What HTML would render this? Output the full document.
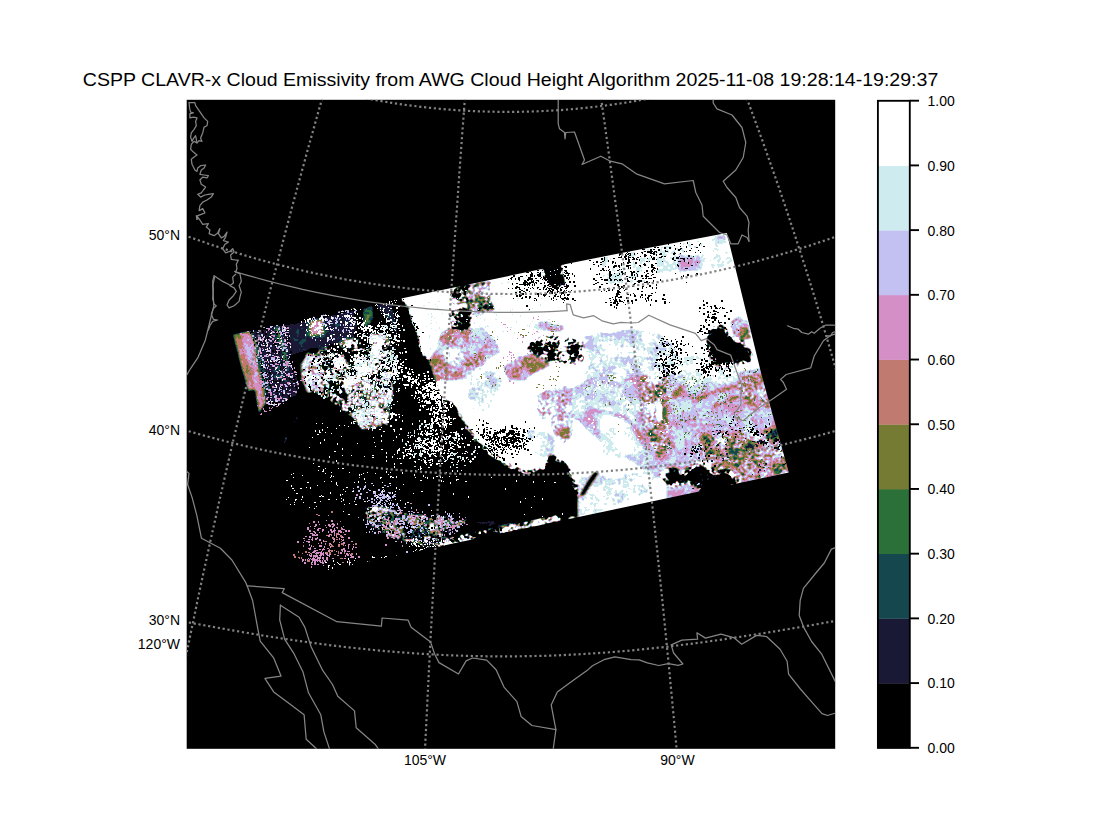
<!DOCTYPE html>
<html><head><meta charset="utf-8"><title>CSPP CLAVR-x Cloud Emissivity</title>
<style>html,body{margin:0;padding:0;background:#fff;font-family:"Liberation Sans",sans-serif}svg{display:block}</style></head>
<body>
<svg width="1120" height="840" viewBox="0 0 1120 840">
<defs><clipPath id="ax"><rect x="186.7" y="99.8" width="648.5" height="649"/></clipPath>
<clipPath id="sw"><path d="M232.0 333.8 L561.0 265.0 L620.0 253.2 L726.8 233.0 L761.6 375.0 L788.8 472.5 L295.0 577.0 Z"/></clipPath>
<filter id="cf" filterUnits="userSpaceOnUse" x="186" y="99" width="650" height="651" color-interpolation-filters="sRGB">
<feGaussianBlur in="SourceGraphic" stdDeviation="1.6" result="s"/>
<feColorMatrix in="s" type="matrix" values="1 0 0 0 0 1 0 0 0 0 1 0 0 0 0 0 0 0 0 1" result="base"/>
<feColorMatrix in="s" type="matrix" values="0 0 0 0 0 0 0 0 0 0 0 0 0 0 0 0 1 0 0 0" result="ga"/>
<feTurbulence type="fractalNoise" baseFrequency="0.07" numOctaves="2" seed="7" result="t1"/>
<feTurbulence type="fractalNoise" baseFrequency="0.33" numOctaves="1" seed="12" result="t2"/>
<feColorMatrix in="t1" type="matrix" values="0.275 0.275 0 0 0 0.275 0.275 0 0 0 0.275 0.275 0 0 0 0 0 0 0 1" result="n1"/>
<feColorMatrix in="t2" type="matrix" values="0.225 0.225 0 0 0 0.225 0.225 0 0 0 0.225 0.225 0 0 0 0 0 0 0 1" result="n2"/>
<feComposite in="n1" in2="n2" operator="arithmetic" k1="0" k2="5" k3="5" k4="-2" result="n"/>
<feComposite in="n" in2="ga" operator="in" result="nm"/>
<feComposite in="nm" in2="base" operator="over" result="v"/>
<feComponentTransfer in="v"><feFuncR type="discrete" tableValues="0.000 0.000 0.000 0.000 0.000 0.000 0.000 0.000 0.000 0.000 0.000 0.000 0.000 0.000 0.000 0.000 0.000 0.000 0.000 0.000 0.000 0.102 0.082 0.169 0.463 0.757 0.831 0.765 0.808 1.000 1.000 1.000 1.000 1.000 1.000 1.000 1.000 1.000 1.000 1.000 1.000 1.000 1.000 1.000 1.000 1.000 1.000 1.000 1.000 1.000"/><feFuncG type="discrete" tableValues="0.000 0.000 0.000 0.000 0.000 0.000 0.000 0.000 0.000 0.000 0.000 0.000 0.000 0.000 0.000 0.000 0.000 0.000 0.000 0.000 0.000 0.098 0.278 0.435 0.482 0.478 0.565 0.753 0.922 1.000 1.000 1.000 1.000 1.000 1.000 1.000 1.000 1.000 1.000 1.000 1.000 1.000 1.000 1.000 1.000 1.000 1.000 1.000 1.000 1.000"/><feFuncB type="discrete" tableValues="0.000 0.000 0.000 0.000 0.000 0.000 0.000 0.000 0.000 0.000 0.000 0.000 0.000 0.000 0.000 0.000 0.000 0.000 0.000 0.000 0.000 0.208 0.306 0.224 0.200 0.435 0.776 0.949 0.937 1.000 1.000 1.000 1.000 1.000 1.000 1.000 1.000 1.000 1.000 1.000 1.000 1.000 1.000 1.000 1.000 1.000 1.000 1.000 1.000 1.000"/></feComponentTransfer>
</filter>
</defs>
<rect width="1120" height="840" fill="#fff"/>
<rect x="186.7" y="99.8" width="648.5" height="649" fill="#000"/>
<g clip-path="url(#ax)">
<g clip-path="url(#sw)"><g filter="url(#cf)">
<rect x="180" y="90" width="670" height="670" fill="rgb(76,0,0)"/>
<path d="M398.0 290.0 L561.0 255.0 L561.0 250.0 L735.0 220.0 L800.0 480.0 L700.0 500.0 L590.0 535.0 L578.0 535.0 L580.0 511.0 L578.0 497.0 L575.0 486.0 L572.0 476.0 L568.0 470.0 L561.0 461.0 L552.0 457.0 L543.0 468.0 L528.0 472.0 L514.0 469.0 L500.0 459.0 L489.0 452.0 L480.0 445.0 L471.0 434.0 L466.0 426.0 L459.0 415.0 L451.0 404.0 L441.0 397.0 L434.0 383.0 L430.0 367.0 L421.0 351.0 L416.0 335.0 L409.0 311.0 L400.0 300.0 L398.0 290.0Z" fill="rgb(184,0,0)" stroke="rgb(128,204,0)" stroke-width="3" stroke-linejoin="round"/>
<path d="M441.1 330.0 L453.6 326.4 L467.9 330.0 L478.6 333.6 L489.3 340.7 L492.9 355.0 L483.9 365.7 L475.0 381.8 L417.9 381.8 L428.6 358.6 L435.7 344.3Z" fill="rgb(137,20,0)"/>
<path d="M444.6 351.4 L458.9 347.9 L466.1 358.6 L453.6 365.7 L444.6 362.1Z" fill="rgb(150,26,0)"/>
<path d="M467.9 288.9 L476.8 288.9 L485.7 301.4 L487.5 312.1 L478.6 319.3 L467.9 315.7 L471.4 305.0Z" fill="rgb(137,20,0)"/>
<path d="M532.1 322.9 L542.9 319.3 L560.7 322.9 L567.9 326.4 L560.7 333.6 L542.9 331.8 L533.9 330.0Z" fill="rgb(139,15,0)"/>
<path d="M505.4 367.5 L516.1 359.5 L535.7 355.9 L548.2 357.7 L551.8 366.6 L535.7 373.8 L525.0 381.8 L507.1 381.8Z" fill="rgb(134,15,0)"/>
<path d="M507.1 363.0 L521.4 355.9 L535.7 353.2 L548.2 355.0 L549.1 357.7 L535.7 356.4 L516.1 360.0 L506.2 367.1Z" fill="rgb(124,13,0)"/>
<path d="M467.0 327.5 L482.0 325.0 L497.0 340.0 L502.0 352.5 L489.5 360.0 L477.0 357.5 L467.0 347.5Z" fill="rgb(139,15,0)"/>
<path d="M502.0 366.2 L517.0 356.2 L537.0 351.2 L552.0 356.2 L544.5 368.8 L522.0 377.0 L504.5 376.2Z" fill="rgb(133,20,0)"/>
<path d="M467.0 372.5 L482.0 367.5 L502.0 372.5 L504.5 385.0 L492.0 410.0 L477.0 415.0 L467.0 410.0Z" fill="rgb(149,15,0)"/>
<path d="M534.5 395.0 L549.5 387.5 L567.0 385.0 L579.5 392.5 L577.0 415.0 L572.0 440.0 L562.0 445.0 L549.5 427.5 L537.0 415.0Z" fill="rgb(145,31,0)"/>
<path d="M524.5 427.5 L549.5 430.0 L564.5 450.0 L542.0 460.0 L527.0 450.0Z" fill="rgb(149,13,0)"/>
<path d="M567.0 390.0 L587.0 377.5 L607.0 370.0 L627.0 367.5 L642.0 372.5 L667.0 375.0 L692.0 380.0 L717.0 385.0 L749.5 382.5 L749.5 460.0 L717.0 462.5 L692.0 460.0 L667.0 470.0 L652.0 485.0 L642.0 470.0 L627.0 460.0 L607.0 450.0 L584.5 430.0 L572.0 415.0Z" fill="rgb(142,13,0)"/>
<path d="M664.5 375.5 L717.0 372.5 L764.5 366.2 L792.0 472.5 L739.5 485.0 L702.0 495.0 L664.5 502.5Z" fill="rgb(141,14,0)"/>
<path d="M584.5 385.0 L607.0 377.5 L632.0 382.5 L637.0 405.0 L627.0 425.0 L607.0 430.0 L589.5 415.0 L582.0 397.5Z" fill="rgb(145,13,0)"/>
<path d="M600.0 408.2 L621.4 404.6 L635.7 418.9 L635.7 445.7 L621.4 460.0 L600.0 460.0Z" fill="rgb(151,10,0)"/>
<path d="M667.0 355.0 L717.0 352.5 L742.0 360.0 L737.0 382.5 L692.0 385.0 L667.0 380.0Z" fill="rgb(151,13,0)"/>
<path d="M587.0 410.0 L607.0 412.5 L627.0 417.5 L642.0 440.0 L657.0 460.0" fill="none" stroke="rgb(135,10,0)" stroke-width="3.5" stroke-linecap="round" stroke-linejoin="round"/>
<path d="M642.0 375.0 L652.0 392.5 L657.0 415.0 L667.0 435.0" fill="none" stroke="rgb(135,10,0)" stroke-width="3.5" stroke-linecap="round" stroke-linejoin="round"/>
<path d="M603.6 381.4 L621.4 385.0 L632.1 377.9" fill="none" stroke="rgb(135,10,0)" stroke-width="3" stroke-linecap="round" stroke-linejoin="round"/>
<path d="M641.1 370.7 L667.9 374.3 L666.1 413.6 L671.4 445.7 L658.9 460.0 L646.4 431.4 L639.3 404.6Z" fill="rgb(134,38,0)"/>
<path d="M657.1 402.9 L661.6 402.9 L661.6 420.7 L657.1 420.7Z" fill="rgb(184,0,0)"/>
<path d="M692.9 402.9 L707.1 393.9 L735.7 386.8 L742.9 390.4" fill="none" stroke="rgb(124,13,0)" stroke-width="3" stroke-linecap="round" stroke-linejoin="round"/>
<path d="M710.7 407.3 L732.1 398.4 L742.9 394.8" fill="none" stroke="rgb(124,13,0)" stroke-width="2.5" stroke-linecap="round" stroke-linejoin="round"/>
<path d="M675.0 394.8 L682.1 388.6" fill="none" stroke="rgb(119,10,0)" stroke-width="4" stroke-linecap="round" stroke-linejoin="round"/>
<path d="M675.0 449.3 L667.9 435.0 L662.5 427.9" fill="none" stroke="rgb(124,13,0)" stroke-width="2.5" stroke-linecap="round" stroke-linejoin="round"/>
<path d="M739.3 377.9 L762.5 374.3 L769.6 406.4 L753.6 410.0 L741.1 399.3Z" fill="rgb(134,31,0)"/>
<path d="M700.0 435.0 L742.9 431.4 L778.6 427.9 L789.3 472.5 L739.3 485.0 L728.6 470.7 L714.3 474.3 L703.6 463.6Z" fill="rgb(134,33,0)"/>
<path d="M739.3 442.1 L753.6 440.4 L755.4 456.4 L742.9 460.0Z" fill="rgb(125,31,0)"/>
<path d="M767.9 427.9 L776.8 427.9 L778.6 440.4 L769.6 440.4Z" fill="rgb(122,26,0)"/>
<path d="M578.6 339.3 L592.9 330.4 L610.7 332.1 L628.6 326.8 L660.7 332.1 L671.4 341.1 L682.1 350.0 L676.8 364.3 L682.1 376.8 L582.1 376.8 L589.3 360.7Z" fill="rgb(148,18,0)"/>
<path d="M600.0 256.2 L660.7 244.6 L725.0 233.0 L735.7 266.1 L689.3 278.6 L653.6 283.9 L600.0 287.5Z" fill="rgb(151,13,0)"/>
<path d="M662.5 276.8 L735.7 267.9 L742.9 308.9 L707.1 307.1 L671.4 310.7 L660.7 296.4Z" fill="rgb(184,0,0)"/>
<path d="M714.3 233.9 L725.9 233.0 L727.7 242.9 L716.1 243.8Z" fill="rgb(141,10,0)"/>
<path d="M678.6 256.2 L700.0 254.5 L701.8 270.5 L680.4 272.3Z" fill="rgb(141,10,0)"/>
<path d="M728.6 321.4 L739.3 314.3 L748.2 321.4 L751.8 332.1 L742.9 339.3 L732.1 335.7Z" fill="rgb(141,10,0)"/>
<path d="M735.7 322.3 L748.2 321.4 L750.0 333.9 L739.3 335.7Z" fill="rgb(131,8,0)"/>
<path d="M729.5 320.0 L749.5 320.0 L752.0 340.0 L732.0 340.0Z" fill="rgb(133,26,0)"/>
<path d="M580.4 475.0 L601.8 471.4 L601.8 526.8 L578.6 526.8Z" fill="rgb(150,15,0)"/>
<path d="M577.0 475.0 L652.0 470.0 L657.0 490.0 L587.0 520.0 L577.0 520.0Z" fill="rgb(150,15,0)"/>
<path d="M711.6 329.5 L718.8 325.9 L725.0 328.6 L729.5 338.4 L742.0 342.0 L750.0 351.8 L753.6 360.7 L750.0 365.2 L739.3 360.7 L726.8 365.2 L717.0 362.5 L709.8 352.7 L708.0 341.1Z" fill="rgb(61,0,0)" stroke="rgb(128,204,0)" stroke-width="2.5" stroke-linejoin="round"/>
<path d="M660.7 474.3 L671.4 469.3 L683.9 474.3 L694.6 465.4 L703.6 463.6 L714.3 474.3 L728.6 470.7 L739.3 485.0 L702.7 493.0 L700.0 485.0 L685.7 481.4 L671.4 485.0Z" fill="rgb(61,0,0)" stroke="rgb(128,204,0)" stroke-width="3" stroke-linejoin="round"/>
<path d="M450.0 313.9 L460.7 308.6 L471.4 313.9 L467.9 326.4 L453.6 328.2Z" fill="rgb(92,153,0)" stroke="rgb(128,204,0)" stroke-width="3" stroke-linejoin="round"/>
<path d="M482.1 299.6 L492.9 303.2 L494.6 310.4 L485.7 310.4Z" fill="rgb(61,0,0)"/>
<path d="M450.0 287.1 L471.4 283.6 L471.4 301.4 L453.6 305.0Z" fill="rgb(112,178,0)"/>
<path d="M529.5 340.0 L549.5 335.0 L567.0 337.5 L582.0 342.5 L584.5 360.0 L574.5 365.0 L562.0 360.0 L552.0 357.5 L542.0 350.0 L532.0 347.5Z" fill="rgb(133,178,0)"/>
<path d="M532.1 338.9 L542.9 335.4 L551.8 338.9 L560.7 344.3 L578.6 340.7 L580.4 355.0 L569.6 363.9 L551.8 362.1 L535.7 353.2 L526.8 351.4Z" fill="rgb(133,178,0)"/>
<path d="M542.0 263.0 L561.0 259.0 L561.5 275.0 L564.0 284.0 L556.0 288.0 L548.0 281.0 L543.0 272.0Z" fill="rgb(61,0,0)" stroke="rgb(128,204,0)" stroke-width="2" stroke-linejoin="round"/>
<path d="M596.4 472.3 L587.5 485.7 L582.1 494.6" fill="none" stroke="rgb(61,0,0)" stroke-width="2.5" stroke-linecap="round" stroke-linejoin="round"/>
<path d="M249.6 330.2 L288.9 322.1 L290.7 357.9 L301.4 382.9 L297.9 397.1 L283.6 404.3 L265.7 404.3 L263.9 390.0 L256.8 361.4Z" fill="rgb(110,5,0)"/>
<path d="M231.8 333.8 L238.9 332.5 L247.0 361.4 L254.1 390.0 L247.9 392.7 L239.8 365.0Z" fill="rgb(131,8,0)"/>
<path d="M238.9 332.5 L249.6 330.2 L255.0 343.6 L256.8 361.4 L263.9 390.0 L265.7 404.3 L258.6 415.0 L254.1 390.0 L247.0 361.4Z" fill="rgb(136,10,0)"/>
<path d="M253.2 336.4 L262.1 365.0 L268.4 390.0" fill="none" stroke="rgb(119,10,0)" stroke-width="2.5" stroke-linecap="round" stroke-linejoin="round"/>
<path d="M276.4 325.7 L283.6 348.9 L287.1 368.6" fill="none" stroke="rgb(124,13,0)" stroke-width="2.5" stroke-linecap="round" stroke-linejoin="round"/>
<path d="M298.8 361.4 L301.4 375.7" fill="none" stroke="rgb(119,10,0)" stroke-width="2" stroke-linecap="round" stroke-linejoin="round"/>
<path d="M287.1 323.0 L355.0 308.8 L358.6 325.7 L353.2 348.9 L330.0 357.9 L315.7 348.9 L305.0 352.5 L290.7 357.9Z" fill="rgb(110,5,0)"/>
<path d="M301.4 343.6 L308.6 331.1 L322.9 323.9" fill="none" stroke="rgb(115,8,0)" stroke-width="4" stroke-linecap="round" stroke-linejoin="round"/>
<path d="M308.6 321.2 L322.9 319.5 L323.8 334.6 L310.4 336.4Z" fill="rgb(135,10,0)"/>
<path d="M301.4 363.2 L306.8 352.5 L319.3 354.3 L330.0 348.9 L338.9 357.9 L347.9 361.4 L344.3 373.9 L347.9 382.9 L335.4 390.0 L326.4 398.9 L313.9 391.8 L306.8 393.6 L301.4 379.3Z" fill="rgb(143,36,0)"/>
<path d="M362.1 307.9 L372.9 304.3 L374.6 318.6 L367.5 329.3 L362.1 325.7Z" fill="rgb(119,10,0)"/>
<path d="M368.4 309.6 L367.5 323.9" fill="none" stroke="rgb(124,13,0)" stroke-width="2" stroke-linecap="round" stroke-linejoin="round"/>
<path d="M372.9 304.3 L397.9 298.9 L399.6 348.9 L390.7 325.7Z" fill="rgb(110,5,0)"/>
<path d="M388.9 334.6 L392.5 357.9" fill="none" stroke="rgb(135,10,0)" stroke-width="2" stroke-linecap="round" stroke-linejoin="round"/>
<path d="M365.7 397.1 L372.9 390.0 L378.2 398.9 L385.4 407.9 L390.7 418.6 L385.4 422.1 L378.2 413.2 L372.9 418.6 L367.5 429.3 L363.9 422.1 L362.1 407.9Z" fill="rgb(146,8,0)"/>
<path d="M369.5 332.5 L387.0 335.0 L389.5 350.0 L377.0 355.0 L369.5 347.5Z" fill="rgb(146,8,0)"/>
<path d="M318.0 352.0 L350.0 340.0 L385.0 338.0 L395.0 365.0 L392.0 400.0 L375.0 420.0 L348.0 415.0 L325.0 395.0Z" fill="rgb(138,140,0)"/>
<path d="M345.0 385.0 L372.0 380.0 L392.0 400.0 L388.0 425.0 L362.0 430.0 L348.0 410.0Z" fill="rgb(145,76,0)"/>
<path d="M297.0 417.5 L282.0 447.5" fill="none" stroke="rgb(125,51,0)" stroke-width="2.5" stroke-linecap="round" stroke-linejoin="round"/>
<path d="M392.0 300.0 L398.0 295.0 L409.0 311.0 L416.0 335.0 L421.0 351.0 L430.0 367.0 L434.0 383.0 L441.0 397.0 L451.0 404.0 L459.0 415.0 L466.0 426.0 L455.0 428.0 L442.0 415.0 L428.0 398.0 L418.0 380.0 L410.0 360.0 L402.0 335.0 L396.0 315.0Z" fill="rgb(61,0,0)"/>
<path d="M363.9 505.7 L380.0 505.7 L405.0 512.9 L440.7 516.4 L472.9 517.3 L455.0 528.9 L440.7 541.4 L433.6 548.6 L415.7 545.0 L387.1 536.1 L372.9 528.9 L365.7 516.4Z" fill="rgb(122,76,0)"/>
<path d="M380.0 511.1 L415.7 521.8 L458.6 523.6 L494.3 521.8" fill="none" stroke="rgb(119,10,0)" stroke-width="3" stroke-linecap="round" stroke-linejoin="round"/>
<path d="M387.1 528.9 L422.9 532.5 L458.6 528.9 L512.1 523.6" fill="none" stroke="rgb(115,8,0)" stroke-width="3" stroke-linecap="round" stroke-linejoin="round"/>
<path d="M390.7 518.2 L422.9 523.6 L451.4 521.8" fill="none" stroke="rgb(135,10,0)" stroke-width="2" stroke-linecap="round" stroke-linejoin="round"/>
<path d="M442.0 542.5 L489.5 533.0 L557.0 519.0" fill="none" stroke="rgb(148,191,0)" stroke-width="6" stroke-linecap="round" stroke-linejoin="round"/>
<path d="M509.5 529.5 L557.0 519.8" fill="none" stroke="rgb(184,0,0)" stroke-width="2.5" stroke-linecap="round" stroke-linejoin="round"/>
<path d="M437.0 545.8 L509.5 530.8" fill="none" stroke="rgb(153,153,0)" stroke-width="2" stroke-linecap="round" stroke-linejoin="round"/>
<path d="M568.2 517.5 L574.5 515.8 L575.0 521.2 L569.5 522.5Z" fill="rgb(184,0,0)"/>
<path d="M467.0 283.8 L492.0 280.0 L492.0 312.5 L467.0 312.5Z" fill="rgb(133,51,0)"/>
</g>
<g shape-rendering="crispEdges">
<path fill="#000000" d="M726 329h1v1h-1zM703 304h2v2h-2zM710 331h2v1h-2zM714 329h2v1h-2zM703 326h2v2h-2zM707 338h2v2h-2zM724 315h2v2h-2zM710 312h1v1h-1zM708 340h1v2h-1zM714 313h2v2h-2zM720 307h1v1h-1zM712 322h2v1h-2zM719 308h1v1h-1zM718 321h1v2h-1zM713 316h2v2h-2zM708 314h1v2h-1zM703 325h1v2h-1zM721 300h2v2h-2zM719 322h1v2h-1zM713 310h2v2h-2zM712 316h1v2h-1zM708 317h2v1h-2zM712 314h2v1h-2zM707 316h2v2h-2zM705 319h1v1h-1zM715 317h2v2h-2zM730 310h2v2h-2zM720 322h2v1h-2zM699 307h2v2h-2zM699 311h1v1h-1zM703 300h1v2h-1zM724 322h2v2h-2zM718 320h1v2h-1zM713 310h2v2h-2zM715 311h2v1h-2zM707 306h1v1h-1zM714 305h2v2h-2zM732 324h1v1h-1zM705 319h2v2h-2zM715 319h1v2h-1zM726 312h2v1h-2zM708 330h1v1h-1zM708 330h2v2h-2zM714 319h2v2h-2zM713 310h2v1h-2zM738 330h1v1h-1zM715 307h2v2h-2zM700 328h2v2h-2zM714 318h2v1h-2zM723 308h2v1h-2zM710 306h2v1h-2zM701 331h2v1h-2zM703 308h2v1h-2zM703 313h2v2h-2zM706 302h2v2h-2zM708 324h2v2h-2zM711 307h1v2h-1zM704 332h2v2h-2zM699 330h2v2h-2zM712 321h2v1h-2zM281 386h2v2h-2zM283 381h1v1h-1zM269 378h1v2h-1zM263 351h1v1h-1zM266 398h2v2h-2zM282 394h1v2h-1zM284 364h2v2h-2zM274 401h2v1h-2zM287 349h1v1h-1zM264 379h1v2h-1zM273 343h2v2h-2zM269 372h2v2h-2zM285 367h1v2h-1zM257 330h1v2h-1zM262 335h2v2h-2zM298 378h2v2h-2zM262 369h1v1h-1zM278 328h1v2h-1zM257 338h2v1h-2zM275 381h2v1h-2zM275 331h2v2h-2zM257 342h2v1h-2zM280 368h1v2h-1zM260 337h1v2h-1zM272 350h2v2h-2zM293 377h2v2h-2zM255 329h1v2h-1zM254 344h1v2h-1zM283 367h1v2h-1zM286 401h2v1h-2zM264 341h2v2h-2zM285 335h1v1h-1zM288 337h1v2h-1zM256 341h2v2h-2zM263 377h1v1h-1zM289 341h2v1h-2zM281 397h1v2h-1zM278 353h1v1h-1zM279 351h1v2h-1zM257 330h2v1h-2zM279 380h2v2h-2zM299 384h2v1h-2zM269 384h1v2h-1zM287 326h1v2h-1zM270 335h1v2h-1zM264 341h2v2h-2zM265 333h2v2h-2zM286 326h2v1h-2zM280 337h1v1h-1zM276 345h1v2h-1zM269 364h2v2h-2zM256 333h2v1h-2zM287 330h2v2h-2zM267 337h2v2h-2zM265 373h2v1h-2zM256 354h2v1h-2zM286 400h2v2h-2zM258 360h2v1h-2zM264 339h1v1h-1zM266 387h1v1h-1zM293 378h1v2h-1zM265 336h1v2h-1zM274 352h1v1h-1zM261 381h1v1h-1zM295 377h1v1h-1zM281 362h2v1h-2zM258 343h1v2h-1zM298 383h1v2h-1zM262 385h1v2h-1zM265 345h1v2h-1zM289 378h1v1h-1zM264 336h2v1h-2zM281 337h1v2h-1zM266 379h2v2h-2zM276 394h2v1h-2zM259 345h2v2h-2zM266 329h2v2h-2zM269 396h2v1h-2zM272 402h1v1h-1zM279 390h1v2h-1zM275 343h1v2h-1zM262 387h1v1h-1zM277 363h1v2h-1zM261 373h2v1h-2zM277 339h1v2h-1zM262 358h2v1h-2zM253 339h1v2h-1zM276 344h1v1h-1zM279 348h1v1h-1zM262 345h1v1h-1zM268 369h1v1h-1zM267 374h1v1h-1zM295 386h2v2h-2zM261 361h1v1h-1zM266 359h1v2h-1zM287 382h1v2h-1zM283 350h2v2h-2zM261 361h1v2h-1zM288 337h2v2h-2zM251 331h2v2h-2zM256 360h1v1h-1zM268 398h2v2h-2zM260 353h1v2h-1zM293 380h2v2h-2zM270 334h1v1h-1zM287 328h2v2h-2zM282 358h1v1h-1zM296 373h2v2h-2zM284 361h1v1h-1zM265 367h1v1h-1zM275 395h1v2h-1zM274 332h1v2h-1zM287 340h2v1h-2zM262 372h2v2h-2zM290 378h1v2h-1zM277 358h1v2h-1zM291 383h1v2h-1zM275 388h1v2h-1zM284 333h1v2h-1zM274 353h2v1h-2zM276 371h2v2h-2zM282 393h2v2h-2zM266 395h2v1h-2zM262 343h1v1h-1zM285 378h2v2h-2zM289 361h1v1h-1zM284 393h1v1h-1zM300 384h2v2h-2zM290 351h2v2h-2zM279 404h2v1h-2zM280 365h1v2h-1zM267 373h1v1h-1zM259 348h2v1h-2zM280 379h1v1h-1zM283 392h2v1h-2zM286 390h2v1h-2zM250 332h1v2h-1zM265 340h2v1h-2zM264 374h1v2h-1zM292 370h2v2h-2zM265 390h1v1h-1zM276 390h2v2h-2zM272 403h2v1h-2zM279 346h2v2h-2zM294 380h2v2h-2zM287 342h2v1h-2zM261 351h1v1h-1zM279 333h1v1h-1zM289 358h2v2h-2zM289 378h1v2h-1zM256 359h1v2h-1zM274 342h1v1h-1zM284 376h2v2h-2zM278 343h1v2h-1zM261 380h2v2h-2zM296 388h1v2h-1zM279 327h2v1h-2zM276 360h1v1h-1zM265 376h1v2h-1zM252 332h2v1h-2zM261 340h2v2h-2zM278 338h1v2h-1zM261 372h2v2h-2zM291 366h1v2h-1zM270 384h1v1h-1zM271 375h1v2h-1zM281 388h2v2h-2zM276 351h2v2h-2zM289 378h2v2h-2zM261 370h1v2h-1zM266 390h2v2h-2zM278 360h2v1h-2zM288 383h1v2h-1zM284 398h1v2h-1zM279 342h1v1h-1zM295 372h1v1h-1zM289 396h2v1h-2zM261 366h2v2h-2zM275 346h2v2h-2zM255 338h1v2h-1zM287 334h1v1h-1zM269 340h1v1h-1zM276 399h2v1h-2zM286 337h1v2h-1zM282 328h1v2h-1zM255 339h1v2h-1zM272 362h2v2h-2zM288 395h2v2h-2zM264 362h2v1h-2zM277 353h2v1h-2zM292 386h1v2h-1zM278 390h1v1h-1zM268 376h2v1h-2zM267 397h2v1h-2zM270 386h1v2h-1zM259 342h1v1h-1zM288 387h2v1h-2zM285 358h1v1h-1zM262 376h1v2h-1zM264 378h2v1h-2zM297 378h2v2h-2zM257 345h1v2h-1zM297 382h1v1h-1zM299 378h1v1h-1zM274 340h1v2h-1zM276 333h2v2h-2zM266 344h1v2h-1zM267 338h1v2h-1zM262 331h2v2h-2zM270 385h1v1h-1zM278 331h2v1h-2zM260 341h1v2h-1zM260 363h2v1h-2zM265 372h2v1h-2zM288 343h2v2h-2zM279 396h1v2h-1zM271 345h2v1h-2zM262 343h1v1h-1zM283 327h2v2h-2zM277 400h1v2h-1zM273 333h2v1h-2zM263 339h1v1h-1zM263 351h1v1h-1zM289 387h1v1h-1zM288 327h1v1h-1zM278 325h2v1h-2zM285 398h2v2h-2zM267 348h1v1h-1zM282 354h2v1h-2zM275 350h1v2h-1zM274 328h1v1h-1zM262 365h1v2h-1zM288 343h1v2h-1zM274 388h1v1h-1zM280 364h2v2h-2zM272 380h2v2h-2zM291 379h1v2h-1zM267 352h2v1h-2zM288 334h1v2h-1zM284 360h2v2h-2zM273 341h1v2h-1zM282 369h1v1h-1zM282 333h2v1h-2zM267 368h1v1h-1zM280 397h2v1h-2zM269 385h2v1h-2zM272 366h2v2h-2zM269 394h1v2h-1zM289 396h2v2h-2zM265 384h2v1h-2zM254 344h2v1h-2zM276 402h2v1h-2zM295 387h2v1h-2zM274 343h2v1h-2zM298 383h1v1h-1zM277 370h1v1h-1zM271 387h1v1h-1zM284 369h2v2h-2zM257 343h2v1h-2zM269 351h2v2h-2zM315 376h1v2h-1zM310 355h1v1h-1zM337 381h2v2h-2zM330 378h2v1h-2zM303 368h2v2h-2zM326 379h1v2h-1zM323 364h1v2h-1zM315 377h1v1h-1zM319 388h1v1h-1zM320 358h1v2h-1zM308 354h1v2h-1zM333 365h1v2h-1zM310 389h2v2h-2zM327 355h1v2h-1zM326 359h1v2h-1zM332 357h2v2h-2zM321 392h1v2h-1zM334 385h1v1h-1zM336 390h2v2h-2zM319 372h1v1h-1zM325 374h1v1h-1zM304 378h1v1h-1zM310 355h1v1h-1zM337 387h1v1h-1zM314 362h1v1h-1zM315 384h2v1h-2zM305 382h1v2h-1zM340 383h1v1h-1zM336 368h1v1h-1zM311 363h2v2h-2zM334 355h2v2h-2zM322 374h2v1h-2zM330 356h1v1h-1zM324 378h2v2h-2zM324 355h1v1h-1zM340 384h2v2h-2zM334 389h2v1h-2zM335 370h2v2h-2zM324 390h1v1h-1zM340 366h1v2h-1zM307 375h2v1h-2zM321 392h2v1h-2zM323 375h1v2h-1zM318 387h2v2h-2zM331 359h2v1h-2zM323 376h1v2h-1zM333 383h1v1h-1zM310 387h1v2h-1zM330 374h2v1h-2zM343 364h2v2h-2zM338 383h1v1h-1zM328 378h1v2h-1zM308 371h2v2h-2zM312 379h2v1h-2zM318 359h2v2h-2zM317 361h2v1h-2zM337 388h1v1h-1zM309 386h2v2h-2zM304 362h1v2h-1zM330 384h2v2h-2zM323 367h2v1h-2zM319 391h2v2h-2zM324 391h2v1h-2zM323 379h1v2h-1zM325 355h2v1h-2zM315 356h2v1h-2zM311 366h1v2h-1zM324 392h2v2h-2zM313 376h1v1h-1zM319 377h2v2h-2zM328 352h2v2h-2zM328 370h1v1h-1zM312 360h2v2h-2zM342 378h2v2h-2zM309 384h1v2h-1zM334 382h2v1h-2zM324 393h2v2h-2zM339 377h2v2h-2zM313 358h2v1h-2zM342 375h2v2h-2zM321 361h1v1h-1zM340 383h2v1h-2zM304 380h1v1h-1zM329 394h1v2h-1zM308 385h2v2h-2zM310 369h1v2h-1zM318 370h2v1h-2zM318 387h2v1h-2zM321 377h2v2h-2zM338 372h2v2h-2zM317 367h1v2h-1zM305 376h1v2h-1zM331 374h2v1h-2zM325 391h1v1h-1zM316 358h2v1h-2zM329 382h2v2h-2zM319 365h2v1h-2zM332 377h2v1h-2zM324 362h1v2h-1zM330 382h1v1h-1zM319 364h1v2h-1zM309 387h1v1h-1zM323 395h2v2h-2zM318 379h1v1h-1zM337 371h2v2h-2zM331 361h2v2h-2zM313 359h2v1h-2zM331 384h1v2h-1zM315 382h2v2h-2zM333 382h1v1h-1zM414 519h1v1h-1zM389 518h2v2h-2zM432 518h1v1h-1zM438 535h2v2h-2zM380 528h2v2h-2zM454 527h2v2h-2zM408 541h1v1h-1zM434 519h2v1h-2zM391 529h1v1h-1zM377 520h2v1h-2zM433 541h2v1h-2zM403 516h1v2h-1zM451 532h1v1h-1zM435 535h1v1h-1zM398 511h1v2h-1zM420 525h2v2h-2zM437 517h1v2h-1zM422 525h1v1h-1zM414 536h2v1h-2zM368 515h1v2h-1zM415 532h2v2h-2zM405 521h1v2h-1zM424 528h1v1h-1zM426 534h2v2h-2zM366 509h2v2h-2zM427 544h2v2h-2zM399 518h1v1h-1zM404 527h1v2h-1zM427 538h1v2h-1zM415 528h1v1h-1zM468 519h2v1h-2zM437 535h2v1h-2zM439 525h1v1h-1zM427 533h1v2h-1zM395 538h2v1h-2zM431 521h2v1h-2zM402 513h2v2h-2zM380 519h2v2h-2zM428 529h2v1h-2zM374 528h1v2h-1zM406 535h1v2h-1zM438 525h2v2h-2zM446 518h1v1h-1zM442 536h1v1h-1zM429 539h2v2h-2zM419 522h2v1h-2zM426 545h1v2h-1zM392 532h2v2h-2zM434 542h2v2h-2zM385 525h2v1h-2zM401 519h1v2h-1zM380 519h2v1h-2zM443 521h1v1h-1zM411 527h2v2h-2zM430 544h2v2h-2zM407 531h1v2h-1zM394 516h2v2h-2zM403 530h1v1h-1zM416 543h2v2h-2zM434 527h1v2h-1zM402 540h1v2h-1zM387 525h2v2h-2zM406 526h2v2h-2zM433 532h2v2h-2zM377 511h2v1h-2zM416 529h1v2h-1zM419 517h2v2h-2zM370 517h2v2h-2zM392 531h2v2h-2zM396 518h2v2h-2zM404 538h2v1h-2zM389 531h2v2h-2zM436 540h1v1h-1zM376 528h2v1h-2zM414 532h1v2h-1zM397 534h1v1h-1zM433 519h1v2h-1zM408 514h2v1h-2zM365 507h1v1h-1zM444 518h1v2h-1zM413 525h2v1h-2zM401 519h1v2h-1zM452 525h2v1h-2zM365 506h2v2h-2zM422 537h2v1h-2zM387 521h1v1h-1zM396 533h1v2h-1zM397 511h1v2h-1zM390 525h2v1h-2zM394 518h2v2h-2zM375 518h2v2h-2zM372 516h2v2h-2zM446 517h1v2h-1zM403 517h2v2h-2zM421 542h1v1h-1zM442 535h2v1h-2zM390 516h2v2h-2zM440 518h1v2h-1zM431 548h2v2h-2zM420 540h2v2h-2zM419 531h2v2h-2zM417 530h1v1h-1zM381 526h2v1h-2zM389 530h1v2h-1zM464 517h1v1h-1zM450 528h2v2h-2zM422 520h2v2h-2zM439 528h1v1h-1zM425 540h1v2h-1zM431 527h2v2h-2zM415 532h1v1h-1zM381 522h1v1h-1zM372 519h2v2h-2zM383 528h2v1h-2zM411 524h1v1h-1zM403 518h1v1h-1zM410 538h1v1h-1zM443 523h1v2h-1zM443 518h1v2h-1zM383 530h1v1h-1zM622 273h2v1h-2zM628 249h1v2h-1zM661 256h1v2h-1zM632 286h2v1h-2zM612 262h1v2h-1zM654 270h1v1h-1zM630 248h2v1h-2zM654 277h2v1h-2zM666 251h2v1h-2zM614 265h2v2h-2zM652 253h2v1h-2zM635 262h2v2h-2zM593 262h1v1h-1zM600 262h2v1h-2zM637 257h2v1h-2zM621 265h1v1h-1zM629 259h1v1h-1zM653 252h2v2h-2zM606 283h2v1h-2zM602 255h1v2h-1zM609 276h1v2h-1zM603 270h2v1h-2zM631 274h1v1h-1zM606 270h1v1h-1zM634 274h1v2h-1zM644 245h1v2h-1zM653 238h1v1h-1zM647 258h1v1h-1zM650 249h2v2h-2zM615 283h1v2h-1zM610 271h1v2h-1zM640 256h1v1h-1zM652 258h2v2h-2zM651 251h2v1h-2zM648 241h1v1h-1zM612 261h2v2h-2zM656 259h1v1h-1zM658 249h1v1h-1zM625 254h1v1h-1zM608 270h1v1h-1zM630 267h1v2h-1zM637 253h1v1h-1zM615 262h1v2h-1zM625 259h2v1h-2zM651 252h1v1h-1zM628 265h2v1h-2zM621 256h1v2h-1zM601 284h2v1h-2zM652 258h2v2h-2zM632 257h2v1h-2zM641 294h2v2h-2zM648 267h1v1h-1zM620 279h2v1h-2zM617 284h2v2h-2zM609 288h1v2h-1zM604 259h1v2h-1zM596 261h2v2h-2zM631 248h1v1h-1zM622 280h1v1h-1zM629 255h1v1h-1zM589 260h2v1h-2zM619 279h2v2h-2zM628 260h1v2h-1zM619 288h1v2h-1zM638 282h2v1h-2zM660 253h2v2h-2zM657 247h2v1h-2zM649 251h1v2h-1zM645 278h2v1h-2zM644 256h2v1h-2zM615 276h1v1h-1zM627 276h1v1h-1zM608 266h1v2h-1zM614 273h1v1h-1zM655 263h2v1h-2zM653 265h1v1h-1zM628 256h1v2h-1zM651 275h1v1h-1zM629 265h2v1h-2zM630 254h1v2h-1zM644 264h2v2h-2zM664 243h1v1h-1zM632 259h1v1h-1zM652 271h1v2h-1zM633 258h2v2h-2zM650 253h2v1h-2zM593 264h2v1h-2zM609 272h2v1h-2zM628 267h1v2h-1zM642 287h1v2h-1zM614 284h2v1h-2zM653 267h2v2h-2zM653 252h2v1h-2zM654 251h1v1h-1zM618 286h2v2h-2zM633 284h2v1h-2zM628 254h1v1h-1zM627 265h2v2h-2zM650 278h1v1h-1zM629 277h2v1h-2zM646 261h2v1h-2zM613 261h1v2h-1zM651 256h1v2h-1zM646 287h1v1h-1zM617 280h1v1h-1zM651 270h2v1h-2zM600 264h2v1h-2zM621 272h2v1h-2zM593 278h2v2h-2zM653 249h2v1h-2zM653 239h2v1h-2zM597 282h2v1h-2zM601 291h1v1h-1zM596 274h2v1h-2zM656 251h1v2h-1zM652 274h2v1h-2zM610 271h1v2h-1zM625 289h2v1h-2zM647 276h2v1h-2zM619 273h1v2h-1zM627 278h1v2h-1zM617 270h2v1h-2zM636 273h1v1h-1zM623 285h2v2h-2zM627 254h1v1h-1zM634 279h1v1h-1zM649 282h1v1h-1zM627 251h1v2h-1zM646 281h2v2h-2zM610 279h2v2h-2zM595 280h2v1h-2zM652 274h1v1h-1zM608 260h1v2h-1zM640 246h2v2h-2zM638 280h2v2h-2zM650 251h2v2h-2zM629 260h1v2h-1zM622 273h1v2h-1zM621 286h2v2h-2zM609 278h2v1h-2zM605 266h1v1h-1zM614 279h1v2h-1zM646 274h1v2h-1zM637 275h1v2h-1zM600 277h2v1h-2zM613 287h2v1h-2zM639 259h1v2h-1zM656 271h1v2h-1zM644 236h1v1h-1zM607 288h1v1h-1zM650 255h1v1h-1zM659 254h1v1h-1zM616 265h1v2h-1zM654 246h2v2h-2zM612 289h1v2h-1zM636 258h1v2h-1zM607 279h1v2h-1zM662 256h1v1h-1zM640 280h2v2h-2zM647 273h2v1h-2zM629 245h1v1h-1zM621 271h2v1h-2zM598 265h1v2h-1zM628 250h2v2h-2zM654 258h1v2h-1zM653 254h2v1h-2zM627 280h2v2h-2zM639 265h1v1h-1zM626 253h1v1h-1zM633 272h2v1h-2zM620 257h1v1h-1zM623 288h1v1h-1zM617 275h2v1h-2zM630 271h2v1h-2zM601 279h2v1h-2zM669 247h2v2h-2zM624 256h1v1h-1zM618 265h2v2h-2zM623 249h1v1h-1zM631 274h2v2h-2zM590 269h1v1h-1zM599 273h1v2h-1zM621 252h2v2h-2zM617 290h2v2h-2zM643 248h2v2h-2zM625 258h2v2h-2zM644 282h2v1h-2zM652 269h1v2h-1zM634 283h2v1h-2zM621 263h1v2h-1zM634 240h2v2h-2zM644 263h1v2h-1zM637 281h1v1h-1zM636 262h1v2h-1zM662 261h1v1h-1zM599 286h2v2h-2zM658 249h2v2h-2zM629 243h1v1h-1zM628 253h2v1h-2zM609 273h2v2h-2zM629 262h2v1h-2zM649 261h1v1h-1zM641 280h1v2h-1zM604 279h2v2h-2zM635 277h1v1h-1zM609 275h2v2h-2zM660 279h1v2h-1zM644 272h1v1h-1zM621 252h1v1h-1zM626 276h2v1h-2zM656 254h1v1h-1zM655 251h1v1h-1zM651 266h2v2h-2zM653 257h2v2h-2zM653 277h1v1h-1zM619 254h2v1h-2zM621 271h1v2h-1zM604 257h1v2h-1zM623 262h1v2h-1zM639 280h1v2h-1zM620 288h1v1h-1zM615 279h2v1h-2zM641 252h2v1h-2zM630 253h1v2h-1zM606 279h2v2h-2zM619 267h1v1h-1zM651 278h1v1h-1zM669 248h1v1h-1zM593 284h2v1h-2zM601 258h2v2h-2zM659 257h2v1h-2zM604 279h1v2h-1zM629 277h2v1h-2zM645 275h1v2h-1zM613 266h2v2h-2zM626 265h1v2h-1zM637 274h1v2h-1zM629 265h1v1h-1zM627 262h2v2h-2zM644 251h2v1h-2zM664 256h2v1h-2zM637 271h2v1h-2zM646 276h1v2h-1zM629 281h1v1h-1zM651 270h1v2h-1zM650 253h2v1h-2zM661 244h1v1h-1zM619 252h2v2h-2zM625 272h1v1h-1zM632 277h1v2h-1zM648 278h2v1h-2zM602 261h2v1h-2zM653 268h1v2h-1zM629 257h2v1h-2zM642 249h1v1h-1zM636 259h2v1h-2zM656 254h1v2h-1zM600 270h2v1h-2zM608 290h2v1h-2zM613 258h2v1h-2zM606 291h1v1h-1zM609 271h1v1h-1zM634 253h1v2h-1zM653 280h1v2h-1zM628 258h1v2h-1zM624 256h2v2h-2zM654 245h1v1h-1zM640 265h1v2h-1zM655 268h1v1h-1zM642 252h1v2h-1zM609 269h1v1h-1zM618 257h2v1h-2zM627 263h2v1h-2zM604 290h1v1h-1zM629 265h1v1h-1zM625 273h1v2h-1zM595 283h2v1h-2zM611 274h1v2h-1zM643 264h1v1h-1zM654 245h2v2h-2zM648 247h1v1h-1zM633 271h2v1h-2zM647 251h2v2h-2zM619 269h1v1h-1zM629 261h1v2h-1zM651 264h2v2h-2zM644 254h2v2h-2zM631 272h2v2h-2zM635 278h1v2h-1zM625 255h2v2h-2zM646 255h1v1h-1zM657 268h1v2h-1zM641 275h2v2h-2zM615 244h1v1h-1zM619 254h1v2h-1zM646 270h2v2h-2zM590 268h1v2h-1zM621 269h1v1h-1zM642 278h2v1h-2zM602 268h2v2h-2zM645 294h1v2h-1zM620 300h1v1h-1zM610 304h2v2h-2zM616 301h2v1h-2zM627 297h2v1h-2zM634 294h1v2h-1zM614 300h2v2h-2zM617 295h1v1h-1zM627 300h2v2h-2zM648 295h2v2h-2zM616 304h2v2h-2zM640 296h1v2h-1zM663 294h2v2h-2zM655 300h2v2h-2zM664 302h2v2h-2zM617 302h1v1h-1zM662 298h2v2h-2zM610 302h2v1h-2zM632 302h1v2h-1zM650 295h2v1h-2zM630 294h1v2h-1zM612 297h1v1h-1zM656 284h1v2h-1zM605 302h2v1h-2zM614 302h2v2h-2zM616 307h1v2h-1zM624 290h1v1h-1zM627 294h2v1h-2zM625 304h1v1h-1zM626 297h2v2h-2zM656 287h1v2h-1zM642 286h2v1h-2zM651 299h1v2h-1zM655 292h1v1h-1zM621 301h2v1h-2zM620 296h2v2h-2zM618 294h2v1h-2zM619 301h2v1h-2zM619 292h2v1h-2zM618 297h2v1h-2zM638 288h1v1h-1zM623 302h1v1h-1zM649 295h1v1h-1zM613 302h2v1h-2zM610 300h1v1h-1zM613 299h1v1h-1zM651 293h2v1h-2zM652 287h1v2h-1zM649 285h2v2h-2zM615 298h1v2h-1zM642 297h1v1h-1zM619 299h1v2h-1zM618 293h1v2h-1zM646 300h1v2h-1zM635 299h2v2h-2zM641 291h2v1h-2zM645 298h1v2h-1zM617 291h2v2h-2zM619 291h1v2h-1zM609 298h2v1h-2zM634 295h2v2h-2zM616 299h1v1h-1zM615 299h2v2h-2zM617 290h2v1h-2zM633 293h1v1h-1zM664 299h2v1h-2zM624 300h1v1h-1zM616 293h2v2h-2zM613 302h2v2h-2zM650 304h1v2h-1zM616 295h2v2h-2zM631 300h2v2h-2zM669 302h1v1h-1zM615 296h1v2h-1zM617 303h2v1h-2zM647 297h2v2h-2zM614 306h1v2h-1zM648 299h1v2h-1zM637 288h2v2h-2zM664 301h2v2h-2zM693 256h1v1h-1zM700 252h1v1h-1zM678 249h2v2h-2zM683 258h2v2h-2zM686 246h1v2h-1zM689 250h2v1h-2zM688 274h1v2h-1zM695 252h1v1h-1zM680 253h1v1h-1zM684 251h1v1h-1zM675 253h1v1h-1zM687 274h2v2h-2zM681 248h1v1h-1zM688 255h2v2h-2zM673 253h2v2h-2zM686 282h1v1h-1zM686 251h1v1h-1zM674 238h2v1h-2zM675 248h1v2h-1zM675 273h1v1h-1zM703 246h2v1h-2zM674 260h2v1h-2zM683 275h1v2h-1zM672 258h2v2h-2zM691 248h1v1h-1zM684 260h1v2h-1zM680 243h1v1h-1zM690 258h2v1h-2zM691 265h2v1h-2zM696 273h2v2h-2zM679 261h2v1h-2zM682 258h2v1h-2zM687 242h1v2h-1zM698 250h1v1h-1zM674 245h1v1h-1zM680 248h1v2h-1zM664 247h2v2h-2zM680 246h1v1h-1zM685 268h2v1h-2zM668 244h1v1h-1zM691 244h2v1h-2zM677 257h2v2h-2zM678 265h1v2h-1zM700 243h1v1h-1zM673 257h1v2h-1zM679 256h1v1h-1zM680 258h2v1h-2zM699 244h1v2h-1zM674 252h1v1h-1zM677 258h2v1h-2zM665 250h1v2h-1zM677 264h1v2h-1zM681 276h1v1h-1zM687 268h1v1h-1zM697 262h1v1h-1zM696 247h2v1h-2zM687 258h1v1h-1zM676 257h1v2h-1zM688 262h1v2h-1zM678 261h1v1h-1zM660 340h2v1h-2zM675 351h2v1h-2zM664 359h2v1h-2zM680 352h2v2h-2zM664 359h1v1h-1zM675 356h1v2h-1zM664 336h1v1h-1zM674 362h1v2h-1zM676 354h2v2h-2zM668 365h2v2h-2zM663 343h2v1h-2zM671 348h1v1h-1zM660 358h2v2h-2zM656 359h2v2h-2zM658 366h2v1h-2zM676 341h2v1h-2zM681 340h1v2h-1zM671 360h2v1h-2zM682 336h2v2h-2zM658 359h2v1h-2zM659 351h2v2h-2zM675 346h2v1h-2zM665 350h1v1h-1zM670 352h1v1h-1zM663 345h2v2h-2zM668 351h1v1h-1zM666 363h1v1h-1zM658 353h1v2h-1zM668 366h2v2h-2zM670 358h1v1h-1zM671 340h1v2h-1zM672 359h2v1h-2zM667 375h1v1h-1zM665 346h1v1h-1zM668 343h1v1h-1zM655 362h2v1h-2zM680 343h2v2h-2zM671 350h2v2h-2zM677 346h1v1h-1zM672 349h1v1h-1zM659 369h1v2h-1zM661 359h1v1h-1zM656 347h2v2h-2zM654 366h2v1h-2zM669 372h1v1h-1zM679 348h2v1h-2zM655 365h2v1h-2zM672 354h1v1h-1zM661 363h2v1h-2zM666 344h2v2h-2zM672 343h2v2h-2zM680 349h2v2h-2zM663 364h2v2h-2zM668 357h1v1h-1zM673 352h1v1h-1zM661 338h2v1h-2zM670 354h1v2h-1zM664 341h2v1h-2zM677 344h1v2h-1zM659 359h1v2h-1zM688 343h1v2h-1zM677 360h2v1h-2zM658 365h2v2h-2zM674 367h2v1h-2zM665 365h2v2h-2zM663 353h2v2h-2zM662 342h1v2h-1zM666 356h1v2h-1zM671 364h2v1h-2zM660 359h1v1h-1zM671 368h2v2h-2zM665 366h1v1h-1zM674 359h2v1h-2zM664 359h1v2h-1zM676 352h2v2h-2zM663 338h1v2h-1zM665 358h2v1h-2zM663 367h1v2h-1zM663 365h1v2h-1zM657 353h1v1h-1zM683 345h2v1h-2zM673 366h1v1h-1zM662 344h2v1h-2zM680 361h2v2h-2zM666 339h2v1h-2zM662 364h2v2h-2zM663 361h1v2h-1zM663 370h2v2h-2zM660 355h2v2h-2zM671 352h2v2h-2zM706 364h1v2h-1zM726 365h1v2h-1zM730 348h1v2h-1zM712 366h1v1h-1zM715 367h1v2h-1zM729 369h2v2h-2zM721 368h2v2h-2zM718 357h1v2h-1zM704 363h1v1h-1zM708 368h1v2h-1zM728 368h2v1h-2zM713 357h1v2h-1zM716 364h1v1h-1zM695 353h2v1h-2zM709 366h1v2h-1zM718 345h1v2h-1zM718 346h2v1h-2zM715 357h2v1h-2zM711 362h1v1h-1zM715 375h1v2h-1zM708 371h2v2h-2zM717 362h2v1h-2zM731 360h2v2h-2zM715 354h2v2h-2zM706 361h2v1h-2zM709 352h1v2h-1zM726 375h2v2h-2zM729 374h2v2h-2zM720 351h2v2h-2zM724 349h2v1h-2zM722 359h1v1h-1zM703 368h2v2h-2zM721 358h1v1h-1zM721 361h1v2h-1zM720 352h2v1h-2zM710 368h2v2h-2zM713 358h2v2h-2zM710 375h1v1h-1zM715 342h2v1h-2zM719 365h2v1h-2zM726 340h1v2h-1zM706 345h2v1h-2zM715 348h1v2h-1zM701 369h1v2h-1zM710 348h2v2h-2zM705 371h2v2h-2zM720 362h2v2h-2zM718 357h2v2h-2zM727 353h2v1h-2zM712 363h1v2h-1zM701 362h1v1h-1zM716 370h1v2h-1zM722 353h2v1h-2zM698 369h2v1h-2zM704 376h1v2h-1zM714 358h1v1h-1zM704 349h1v2h-1zM722 368h1v2h-1zM718 350h1v1h-1zM714 349h1v2h-1zM707 351h2v1h-2zM712 346h1v2h-1zM714 351h1v1h-1zM728 362h2v2h-2zM730 370h1v1h-1zM724 370h1v2h-1zM714 354h1v2h-1zM707 374h2v2h-2zM719 359h1v1h-1zM700 363h2v2h-2zM712 346h2v2h-2zM723 372h1v2h-1zM728 366h1v1h-1zM715 351h1v1h-1zM713 357h2v1h-2zM715 360h2v1h-2zM703 353h2v1h-2zM729 349h1v1h-1zM709 349h2v1h-2zM706 367h2v2h-2zM519 284h2v1h-2zM528 271h1v2h-1zM527 284h1v2h-1zM520 276h2v1h-2zM530 288h1v1h-1zM536 267h2v2h-2zM524 288h1v1h-1zM531 273h2v2h-2zM513 298h1v1h-1zM519 294h1v2h-1zM525 284h1v2h-1zM524 284h2v2h-2zM523 279h1v1h-1zM541 294h1v1h-1zM527 279h2v2h-2zM526 289h2v2h-2zM508 288h1v1h-1zM519 280h1v1h-1zM537 287h2v1h-2zM533 288h1v1h-1zM519 280h1v1h-1zM525 283h2v1h-2zM538 295h1v2h-1zM526 282h2v1h-2zM524 284h2v2h-2zM515 292h2v2h-2zM516 283h2v1h-2zM525 282h1v2h-1zM524 282h2v1h-2zM509 275h1v1h-1zM543 275h1v2h-1zM521 298h2v1h-2zM537 288h1v1h-1zM540 267h2v2h-2zM529 271h2v1h-2zM537 293h2v1h-2zM530 277h1v1h-1zM511 277h2v1h-2zM526 271h2v2h-2zM522 276h1v1h-1zM521 290h2v1h-2zM530 278h2v2h-2zM527 282h1v2h-1zM522 293h2v2h-2zM510 278h1v1h-1zM511 278h1v2h-1zM540 272h1v1h-1zM525 293h2v2h-2zM519 287h1v2h-1zM517 287h2v1h-2zM537 274h1v2h-1zM521 293h1v1h-1zM519 272h1v1h-1zM516 286h1v1h-1zM519 278h1v2h-1zM518 277h2v1h-2zM524 284h1v1h-1zM516 287h2v1h-2zM512 283h1v2h-1zM512 288h1v1h-1zM515 278h1v2h-1zM519 289h2v1h-2zM516 286h2v2h-2zM539 274h2v2h-2zM526 275h1v2h-1zM528 278h1v2h-1zM523 282h2v2h-2zM536 283h1v1h-1zM524 280h2v2h-2zM525 283h2v2h-2zM508 279h1v1h-1zM536 299h1v2h-1zM525 296h2v2h-2zM516 295h2v2h-2zM528 277h2v2h-2zM526 281h1v1h-1zM528 272h1v1h-1zM525 280h1v1h-1zM520 295h2v1h-2zM529 282h2v2h-2zM513 275h2v2h-2zM532 265h2v2h-2zM531 278h1v1h-1zM519 295h2v2h-2zM533 283h2v1h-2zM532 287h1v1h-1zM521 284h2v1h-2zM515 287h2v2h-2zM524 281h1v1h-1zM518 278h2v2h-2zM560 292h2v1h-2zM547 285h1v1h-1zM558 276h1v2h-1zM559 284h1v2h-1zM551 278h2v1h-2zM559 275h2v1h-2zM562 293h2v1h-2zM558 266h2v2h-2zM562 282h1v1h-1zM544 294h2v2h-2zM561 277h2v2h-2zM549 282h2v2h-2zM559 263h2v1h-2zM566 284h1v1h-1zM568 273h2v1h-2zM572 273h1v2h-1zM551 292h2v2h-2zM573 281h2v2h-2zM558 273h1v2h-1zM550 284h1v1h-1zM569 277h1v2h-1zM563 282h1v1h-1zM550 292h1v2h-1zM555 258h1v2h-1zM559 277h2v1h-2zM548 290h1v2h-1zM544 285h2v2h-2zM554 292h2v2h-2zM557 275h2v2h-2zM552 276h1v2h-1zM548 287h1v2h-1zM540 278h1v1h-1zM557 270h1v1h-1zM549 284h1v2h-1zM546 276h2v1h-2zM552 292h1v2h-1zM560 288h1v1h-1zM548 291h1v1h-1zM555 286h1v2h-1zM557 260h2v1h-2zM563 274h1v1h-1zM548 284h2v1h-2zM558 284h2v1h-2zM553 297h1v2h-1zM551 288h1v2h-1zM558 287h1v2h-1zM565 282h1v1h-1zM543 276h1v2h-1zM545 289h2v1h-2zM549 292h2v2h-2zM555 285h1v1h-1zM543 288h1v2h-1zM557 287h2v2h-2zM547 270h1v1h-1zM558 273h1v1h-1zM547 287h2v1h-2zM548 284h2v2h-2zM548 296h2v1h-2zM565 273h1v1h-1zM553 295h1v1h-1zM553 264h1v2h-1zM539 275h2v2h-2zM553 290h1v1h-1zM555 294h2v1h-2zM553 281h1v2h-1zM549 286h2v1h-2zM565 266h2v2h-2zM567 275h2v1h-2zM545 275h2v1h-2zM545 293h2v2h-2zM543 287h2v1h-2zM557 268h2v1h-2zM545 285h1v1h-1zM553 284h2v2h-2zM549 276h1v2h-1zM551 281h2v2h-2zM549 278h2v2h-2zM547 281h2v1h-2zM574 275h1v2h-1zM549 279h2v1h-2zM522 435h1v2h-1zM499 443h1v2h-1zM504 432h1v1h-1zM504 437h2v2h-2zM513 435h2v2h-2zM515 437h1v2h-1zM519 440h1v1h-1zM494 437h2v2h-2zM523 443h1v2h-1zM534 427h1v1h-1zM509 430h2v1h-2zM505 429h1v2h-1zM517 454h1v1h-1zM506 438h2v2h-2zM523 432h2v1h-2zM511 425h2v2h-2zM526 440h2v2h-2zM505 436h2v1h-2zM502 457h1v2h-1zM516 443h1v1h-1zM524 439h2v1h-2zM503 458h2v2h-2zM521 447h1v2h-1zM522 434h2v1h-2zM519 441h1v2h-1zM507 443h1v2h-1zM516 434h1v1h-1zM512 441h1v1h-1zM495 441h2v2h-2zM521 445h1v2h-1zM519 433h1v1h-1zM515 438h1v2h-1zM512 445h2v2h-2zM516 427h1v1h-1zM514 431h1v1h-1zM506 442h1v2h-1zM527 430h1v2h-1zM514 438h2v1h-2zM488 439h2v1h-2zM498 441h1v2h-1zM517 434h1v1h-1zM515 445h2v2h-2zM517 437h2v1h-2zM513 432h1v1h-1zM512 428h2v1h-2zM522 435h2v2h-2zM523 446h1v2h-1zM500 432h1v2h-1zM515 437h2v1h-2zM516 431h1v1h-1zM507 442h1v2h-1zM520 438h1v1h-1zM493 444h1v1h-1zM505 446h2v1h-2zM512 436h1v1h-1zM518 434h2v1h-2zM499 431h2v1h-2zM506 444h2v2h-2zM496 454h2v1h-2zM491 438h2v1h-2zM516 439h1v1h-1zM505 426h1v2h-1zM510 447h1v1h-1zM496 448h1v2h-1zM518 451h1v2h-1zM516 437h2v2h-2zM512 431h2v2h-2zM485 443h1v1h-1zM500 429h1v1h-1zM519 445h1v2h-1zM503 431h1v2h-1zM493 452h1v1h-1zM501 430h2v2h-2zM511 433h2v2h-2zM514 431h1v1h-1zM534 436h1v2h-1zM510 430h1v2h-1zM486 422h1v2h-1zM525 448h1v1h-1zM510 437h2v2h-2zM524 432h1v1h-1zM504 444h2v2h-2zM515 436h1v2h-1zM512 430h2v1h-2zM501 437h1v2h-1zM503 459h2v2h-2zM516 454h1v1h-1zM490 431h1v1h-1zM512 430h2v2h-2zM490 428h2v1h-2zM513 434h2v1h-2zM519 448h1v2h-1zM509 432h1v2h-1zM508 446h1v2h-1zM525 421h1v2h-1zM497 431h1v1h-1zM507 453h1v1h-1zM525 432h1v1h-1zM496 444h2v2h-2zM494 433h2v2h-2zM498 440h1v1h-1zM517 433h2v2h-2zM495 443h1v1h-1zM511 430h1v1h-1zM515 440h2v2h-2zM508 437h2v2h-2zM494 436h2v1h-2zM493 440h1v2h-1zM523 435h2v1h-2zM485 439h2v1h-2zM512 441h1v2h-1zM491 440h2v2h-2zM520 428h1v1h-1zM519 437h1v1h-1zM494 449h2v1h-2zM524 442h1v2h-1zM489 445h1v1h-1zM525 444h2v1h-2zM523 445h2v1h-2zM514 447h1v1h-1zM514 428h2v1h-2zM515 463h2v2h-2zM516 428h2v2h-2zM511 442h1v2h-1zM482 436h2v2h-2zM529 428h1v1h-1zM517 443h1v2h-1zM520 428h1v1h-1zM502 432h2v1h-2zM518 439h1v2h-1zM510 441h2v2h-2zM504 429h1v1h-1zM519 446h2v1h-2zM532 440h1v1h-1zM493 445h1v1h-1zM492 451h1v1h-1zM493 441h1v2h-1zM491 446h1v2h-1zM512 443h1v1h-1zM518 431h2v1h-2zM517 446h2v1h-2zM511 427h2v1h-2zM516 447h2v2h-2zM483 433h1v1h-1zM510 432h2v2h-2zM508 442h1v1h-1zM495 439h1v1h-1zM489 433h1v1h-1zM495 433h1v1h-1zM521 439h2v1h-2zM511 453h2v2h-2zM523 431h2v2h-2zM492 443h1v1h-1zM502 429h2v1h-2zM508 444h1v1h-1zM500 440h2v1h-2zM494 437h1v1h-1zM512 441h2v1h-2zM511 438h1v1h-1zM515 433h2v2h-2zM511 433h2v1h-2zM530 454h2v1h-2zM494 430h2v1h-2zM496 452h2v1h-2zM507 436h1v1h-1zM495 438h1v1h-1zM498 437h2v2h-2zM524 435h1v1h-1zM515 437h1v1h-1zM488 450h2v1h-2zM489 438h2v1h-2zM482 449h1v1h-1zM513 441h1v1h-1zM505 428h1v1h-1zM513 441h2v2h-2zM519 437h1v2h-1zM505 436h2v1h-2zM494 437h1v2h-1zM534 427h1v2h-1zM507 442h1v2h-1zM511 433h1v2h-1zM497 437h2v1h-2zM516 428h2v1h-2zM512 457h2v1h-2zM503 436h2v2h-2zM514 431h1v2h-1zM527 449h2v2h-2zM491 449h2v2h-2zM510 437h1v1h-1zM496 432h1v2h-1zM518 431h1v2h-1zM504 431h1v2h-1zM496 457h1v2h-1zM500 429h1v2h-1zM513 439h2v2h-2zM509 431h1v2h-1zM524 448h2v2h-2zM504 438h2v1h-2zM487 432h1v2h-1zM510 430h1v1h-1zM515 450h1v2h-1zM512 436h2v2h-2zM494 453h1v1h-1zM513 444h1v1h-1zM488 443h1v1h-1zM486 450h1v2h-1zM487 448h1v1h-1zM489 448h2v1h-2zM483 450h1v2h-1zM489 450h2v2h-2zM506 435h1v2h-1zM488 435h1v2h-1zM503 438h1v1h-1zM526 437h1v2h-1zM476 431h2v1h-2zM508 433h2v1h-2zM490 442h1v1h-1zM505 440h2v2h-2zM513 436h2v1h-2zM516 440h2v1h-2zM478 439h1v1h-1zM521 438h2v2h-2zM491 441h1v2h-1zM497 436h1v2h-1zM483 420h1v2h-1zM504 437h2v1h-2zM506 441h2v1h-2zM503 449h2v1h-2zM501 437h2v1h-2zM499 457h2v1h-2zM457 435h2v2h-2zM497 432h2v2h-2zM496 455h2v1h-2zM485 444h2v1h-2zM492 437h2v1h-2zM509 448h1v1h-1zM505 451h1v2h-1zM511 431h2v2h-2zM498 446h1v2h-1zM489 431h2v1h-2zM486 432h1v1h-1zM502 447h1v1h-1zM497 450h1v1h-1zM510 437h1v1h-1zM496 435h1v2h-1zM493 440h1v1h-1zM522 438h2v1h-2zM510 439h2v2h-2zM501 452h2v2h-2zM489 438h2v2h-2zM502 431h1v1h-1zM493 442h1v1h-1zM504 447h1v1h-1zM483 437h1v2h-1zM490 437h1v1h-1zM489 437h1v1h-1zM471 429h2v1h-2zM495 433h2v2h-2zM494 432h2v2h-2zM486 439h2v2h-2zM493 434h1v2h-1zM518 435h2v1h-2zM520 438h2v1h-2zM495 438h2v1h-2zM487 435h1v1h-1zM487 423h2v1h-2zM506 449h1v1h-1zM478 432h1v2h-1zM497 438h1v2h-1zM497 446h2v1h-2zM494 438h2v2h-2zM501 439h1v2h-1zM489 440h1v1h-1zM504 440h1v1h-1zM503 436h1v2h-1zM499 431h2v2h-2zM517 434h2v2h-2zM519 445h2v2h-2zM482 435h1v2h-1zM489 436h2v1h-2zM489 433h1v1h-1zM518 441h2v1h-2zM493 440h2v1h-2zM513 432h1v2h-1zM484 436h1v1h-1zM491 438h1v2h-1zM494 456h1v2h-1zM524 430h1v2h-1zM494 434h1v2h-1zM488 435h1v2h-1zM491 444h1v1h-1zM489 432h2v2h-2zM493 436h2v2h-2zM503 438h2v2h-2zM498 441h1v1h-1zM483 431h2v2h-2zM479 419h1v2h-1zM512 438h2v2h-2zM503 437h1v1h-1zM503 448h1v2h-1zM483 429h2v2h-2zM520 441h1v2h-1zM482 424h2v2h-2zM507 438h2v1h-2zM502 451h1v1h-1zM508 432h2v1h-2zM499 432h2v1h-2zM490 428h2v1h-2zM488 446h2v1h-2zM508 433h2v2h-2zM484 435h1v1h-1zM510 449h2v1h-2zM509 433h1v2h-1zM522 440h1v2h-1zM489 445h1v2h-1zM529 438h2v2h-2zM507 439h1v2h-1zM513 443h1v1h-1zM503 430h2v1h-2zM494 437h2v2h-2zM500 446h1v2h-1zM479 444h2v1h-2zM495 444h2v1h-2zM501 438h1v1h-1zM489 431h1v1h-1zM476 425h1v1h-1zM497 445h2v2h-2zM502 450h2v1h-2zM506 441h2v2h-2zM497 440h2v1h-2zM499 446h1v2h-1zM489 437h2v2h-2zM518 438h1v2h-1zM486 434h1v2h-1zM503 438h2v1h-2zM506 438h1v1h-1zM508 444h2v2h-2zM502 444h2v2h-2zM508 442h1v1h-1zM486 427h2v1h-2zM497 439h2v2h-2zM494 456h1v2h-1zM511 440h1v2h-1zM508 442h2v1h-2zM489 446h2v1h-2zM501 441h1v2h-1zM500 443h1v1h-1zM487 437h1v1h-1zM483 430h1v2h-1zM482 434h2v1h-2zM501 443h2v2h-2zM517 433h1v2h-1zM512 446h2v1h-2zM500 449h2v1h-2zM504 442h1v1h-1zM489 438h2v2h-2zM483 437h1v2h-1zM473 442h1v2h-1zM493 454h2v2h-2zM512 434h2v1h-2zM490 451h1v2h-1zM484 428h1v2h-1zM487 435h2v1h-2zM478 428h1v2h-1zM493 447h2v2h-2zM492 443h1v2h-1zM486 429h2v1h-2zM509 440h2v1h-2zM507 434h2v2h-2zM480 434h2v2h-2zM527 441h2v1h-2zM506 433h2v2h-2zM498 445h1v1h-1zM523 429h2v2h-2zM507 438h2v1h-2zM488 445h2v1h-2zM488 449h1v2h-1zM513 446h2v2h-2zM494 450h1v1h-1zM528 438h2v1h-2zM562 292h2v1h-2zM566 285h1v2h-1zM572 298h2v2h-2zM568 294h2v1h-2zM555 282h2v1h-2zM556 279h1v1h-1zM531 272h1v2h-1zM554 285h2v1h-2zM544 278h2v2h-2zM557 291h1v2h-1zM549 290h2v1h-2zM545 276h1v2h-1zM532 284h1v2h-1zM556 288h1v2h-1zM566 290h1v1h-1zM567 294h2v2h-2zM562 275h1v1h-1zM550 291h1v1h-1zM529 297h1v2h-1zM553 287h2v1h-2zM559 286h1v1h-1zM531 279h1v2h-1zM554 288h1v1h-1zM547 267h2v1h-2zM557 287h1v2h-1zM535 278h2v1h-2zM559 269h2v1h-2zM530 274h1v1h-1zM536 280h2v1h-2zM564 297h2v2h-2zM549 280h2v2h-2zM525 269h2v1h-2zM529 285h1v1h-1zM535 294h1v1h-1zM555 286h1v1h-1zM564 294h1v2h-1zM523 291h2v1h-2zM550 281h2v1h-2zM534 300h1v1h-1zM557 289h1v2h-1zM554 277h2v2h-2zM553 271h2v2h-2zM534 284h1v2h-1zM547 276h1v1h-1zM545 280h2v1h-2zM560 269h2v1h-2zM551 273h1v1h-1zM552 280h2v2h-2zM552 286h2v2h-2zM551 291h2v1h-2zM558 269h1v1h-1zM531 281h2v2h-2zM565 270h2v2h-2zM555 287h2v2h-2zM538 274h1v2h-1zM566 277h2v2h-2zM540 283h2v1h-2zM556 289h2v1h-2zM555 267h1v2h-1zM519 291h2v2h-2zM560 278h1v2h-1zM553 300h1v1h-1zM564 300h1v1h-1zM543 277h2v2h-2zM539 266h1v1h-1zM534 275h1v2h-1zM556 274h2v1h-2zM564 290h1v1h-1zM563 302h1v1h-1zM538 270h1v1h-1zM550 288h2v1h-2zM553 298h1v1h-1zM548 274h2v1h-2zM557 274h2v2h-2zM530 265h1v1h-1zM545 262h2v1h-2zM547 282h2v1h-2zM542 279h1v1h-1zM557 296h1v1h-1zM569 281h2v2h-2zM566 277h2v1h-2zM556 285h2v1h-2zM529 296h2v2h-2zM561 293h1v2h-1zM548 288h2v1h-2zM563 292h2v1h-2zM558 296h1v1h-1zM552 281h2v2h-2zM565 288h2v1h-2zM561 298h1v1h-1zM566 272h2v2h-2zM561 284h1v1h-1zM527 284h1v1h-1zM549 285h1v1h-1zM561 268h2v1h-2zM538 280h1v2h-1zM563 264h1v1h-1zM542 279h1v1h-1zM549 271h2v2h-2zM550 280h1v2h-1zM539 273h2v1h-2zM567 297h1v2h-1zM537 272h2v1h-2zM564 286h2v1h-2zM534 298h2v1h-2zM547 278h2v2h-2zM556 289h1v1h-1zM529 291h1v1h-1zM544 282h1v2h-1zM567 285h2v2h-2zM556 285h2v1h-2zM532 281h2v2h-2zM560 296h1v2h-1zM566 298h1v2h-1zM537 294h2v1h-2zM552 282h2v2h-2zM544 295h1v2h-1zM568 279h1v1h-1zM559 266h1v1h-1zM545 294h2v1h-2zM561 275h2v1h-2zM557 268h2v2h-2zM563 291h2v2h-2zM561 287h2v1h-2zM564 270h2v1h-2zM562 298h2v2h-2zM554 295h2v2h-2zM544 268h2v2h-2zM556 299h1v1h-1zM559 271h2v2h-2zM538 276h1v1h-1zM522 297h1v2h-1zM550 278h1v2h-1zM560 295h1v1h-1zM552 278h2v1h-2zM552 281h1v1h-1zM560 289h2v2h-2zM553 286h1v2h-1zM543 294h1v2h-1zM564 272h1v1h-1zM545 273h1v1h-1zM533 280h1v2h-1zM566 287h2v1h-2zM574 285h2v2h-2zM561 283h2v2h-2zM542 270h1v1h-1zM530 275h2v2h-2zM556 279h1v2h-1zM571 290h1v1h-1zM531 278h2v2h-2zM541 277h1v1h-1zM529 278h2v2h-2zM565 292h2v1h-2zM564 275h2v2h-2zM525 292h1v1h-1zM547 276h1v1h-1zM558 268h2v2h-2zM529 309h1v1h-1zM533 267h2v2h-2zM532 275h1v2h-1zM523 284h2v1h-2zM555 278h1v1h-1zM528 287h1v1h-1zM546 288h1v2h-1zM539 289h2v1h-2zM551 298h1v2h-1zM574 300h2v1h-2zM568 291h1v1h-1zM554 292h1v2h-1zM546 279h1v2h-1zM567 298h2v2h-2zM528 283h2v2h-2zM537 270h2v1h-2zM535 282h2v1h-2zM526 305h2v2h-2zM530 269h1v1h-1zM568 273h1v2h-1zM552 289h2v2h-2zM573 298h1v1h-1zM555 283h2v1h-2zM549 288h1v2h-1zM547 291h1v2h-1zM571 263h1v1h-1zM554 278h1v2h-1zM564 266h2v1h-2zM559 273h1v2h-1zM558 291h1v1h-1zM548 286h1v2h-1zM549 284h1v1h-1zM538 272h1v1h-1zM695 359h1v1h-1zM671 355h2v1h-2zM674 374h2v1h-2zM661 355h1v1h-1zM665 359h2v1h-2zM667 366h1v1h-1zM678 348h1v2h-1zM659 342h1v1h-1zM687 354h1v2h-1zM674 364h1v1h-1zM669 344h1v1h-1zM662 372h1v2h-1zM687 360h2v1h-2zM685 344h1v1h-1zM676 347h1v1h-1zM693 359h2v1h-2zM676 342h1v2h-1zM669 356h2v1h-2zM680 363h1v1h-1zM668 345h1v1h-1zM692 346h1v1h-1zM677 357h1v2h-1zM662 359h1v2h-1zM682 336h2v1h-2zM682 364h1v1h-1zM671 365h2v1h-2zM676 347h1v1h-1zM674 347h1v1h-1zM685 352h2v1h-2zM675 339h1v1h-1zM711 348h1v1h-1zM719 329h2v1h-2zM712 344h2v2h-2zM722 353h2v1h-2zM711 347h2v2h-2zM713 332h2v2h-2zM705 321h1v1h-1zM706 348h2v2h-2zM722 357h1v2h-1zM728 358h2v2h-2zM717 308h1v1h-1zM706 322h1v1h-1zM713 321h1v2h-1zM724 351h2v2h-2zM709 320h1v1h-1zM697 332h2v1h-2zM713 317h2v2h-2zM712 334h1v2h-1zM724 327h2v2h-2zM715 313h1v2h-1zM705 344h1v1h-1zM728 318h2v2h-2zM706 328h2v2h-2zM708 332h2v2h-2zM726 363h2v2h-2zM707 311h2v2h-2zM720 348h1v2h-1zM711 334h1v2h-1zM717 312h2v1h-2zM706 333h2v1h-2zM720 337h2v1h-2zM702 334h1v1h-1zM723 363h2v2h-2zM708 331h2v1h-2zM718 340h2v2h-2zM711 317h2v2h-2zM700 325h2v1h-2zM724 360h2v2h-2zM710 350h1v1h-1zM721 350h1v1h-1zM722 307h1v2h-1zM712 334h1v2h-1zM725 350h2v1h-2zM701 347h2v2h-2zM725 360h2v1h-2zM730 358h1v1h-1zM733 362h2v2h-2zM732 363h1v2h-1zM720 343h1v1h-1zM722 336h2v1h-2zM727 366h2v1h-2zM659 377h2v2h-2zM714 363h2v1h-2zM718 362h1v1h-1zM663 375h2v2h-2zM696 363h2v1h-2zM710 364h2v1h-2zM701 366h2v2h-2zM661 371h1v1h-1zM713 362h2v2h-2zM672 365h2v2h-2zM701 369h2v1h-2zM702 366h2v1h-2zM674 367h1v1h-1zM665 376h1v1h-1zM681 358h1v2h-1zM708 366h2v1h-2zM660 377h2v1h-2zM666 368h2v1h-2zM718 369h1v1h-1zM677 367h1v2h-1zM704 370h2v1h-2zM718 361h1v1h-1zM717 370h2v1h-2zM710 368h2v1h-2zM717 360h1v2h-1zM703 368h1v1h-1zM678 372h1v2h-1zM719 364h1v2h-1zM705 367h1v1h-1zM711 361h2v2h-2zM712 363h2v1h-2zM703 371h2v2h-2zM672 373h2v1h-2zM680 371h1v1h-1zM728 367h1v2h-1zM666 372h2v2h-2zM706 366h2v2h-2zM713 360h1v1h-1zM678 373h1v1h-1zM701 359h2v2h-2zM709 363h1v2h-1zM705 360h1v2h-1zM659 368h1v2h-1zM671 371h2v2h-2zM709 364h1v2h-1zM662 365h1v1h-1zM711 362h2v2h-2zM715 370h1v1h-1zM698 370h1v2h-1zM706 360h2v1h-2zM728 366h1v1h-1zM706 365h1v1h-1zM715 369h2v1h-2zM710 365h2v2h-2zM696 369h2v1h-2zM713 362h1v1h-1zM667 369h1v1h-1zM719 358h1v1h-1zM718 362h2v2h-2zM712 367h1v1h-1zM672 364h2v1h-2zM719 354h2v1h-2zM667 368h1v1h-1zM712 363h2v1h-2zM731 362h1v2h-1zM729 371h2v1h-2zM667 373h2v2h-2zM667 369h2v1h-2zM709 365h1v2h-1zM724 361h2v1h-2zM702 370h1v1h-1zM709 364h1v2h-1zM712 355h2v1h-2zM714 360h2v1h-2zM673 368h2v1h-2zM728 365h1v2h-1zM719 367h1v2h-1zM711 366h2v1h-2zM663 371h2v2h-2zM674 373h2v1h-2zM723 362h2v1h-2zM705 373h1v1h-1zM668 370h2v2h-2zM726 370h2v1h-2zM672 371h2v1h-2zM672 368h1v2h-1zM703 365h1v1h-1zM711 357h2v2h-2zM708 355h1v2h-1zM663 374h2v1h-2zM676 363h2v1h-2zM728 364h1v1h-1zM679 371h1v2h-1zM704 358h1v2h-1zM668 365h2v2h-2zM716 356h2v1h-2zM674 372h1v2h-1zM666 365h2v1h-2zM701 374h1v1h-1zM666 375h1v2h-1zM703 370h2v1h-2zM703 372h1v2h-1zM724 364h1v1h-1zM721 366h1v2h-1zM679 361h2v1h-2zM665 362h2v2h-2zM675 366h2v1h-2zM667 373h1v1h-1zM713 364h1v1h-1zM394 332h2v1h-2zM396 311h2v2h-2zM400 320h1v1h-1zM413 355h1v1h-1zM412 370h2v2h-2zM415 351h1v2h-1zM417 328h2v1h-2zM420 346h1v1h-1zM410 364h1v1h-1zM394 310h1v2h-1zM399 318h1v1h-1zM406 368h2v2h-2zM408 341h2v1h-2zM407 326h2v2h-2zM402 348h2v1h-2zM412 358h1v2h-1zM408 382h2v2h-2zM414 323h1v2h-1zM405 340h2v2h-2zM407 317h1v2h-1zM408 344h2v1h-2zM399 340h2v2h-2zM410 325h1v2h-1zM411 333h1v1h-1zM398 310h2v1h-2zM413 357h1v2h-1zM413 378h1v1h-1zM411 367h1v1h-1zM397 332h2v1h-2zM419 355h2v1h-2zM403 343h1v2h-1zM408 372h2v1h-2zM408 321h1v1h-1zM404 367h1v2h-1zM414 347h1v1h-1zM407 335h2v1h-2zM411 374h1v1h-1zM412 353h1v1h-1zM416 345h2v2h-2zM411 316h2v1h-2zM402 342h2v2h-2zM411 362h2v2h-2zM402 316h2v2h-2zM408 329h1v2h-1zM407 325h2v1h-2zM404 334h2v2h-2zM407 319h2v1h-2zM406 322h1v2h-1zM407 373h2v1h-2zM424 358h2v2h-2zM408 349h2v1h-2zM398 307h1v1h-1zM413 345h1v1h-1zM396 311h1v1h-1zM396 376h2v2h-2zM410 340h1v2h-1zM412 359h2v1h-2zM409 324h1v2h-1zM403 326h2v1h-2zM413 322h1v2h-1zM408 337h2v1h-2zM417 349h2v1h-2zM406 377h2v1h-2zM414 371h1v1h-1zM411 367h1v2h-1zM418 355h1v1h-1zM417 343h2v2h-2zM403 324h1v1h-1zM399 319h1v2h-1zM399 326h2v1h-2zM395 351h1v1h-1zM413 333h2v1h-2zM408 311h1v1h-1zM408 348h1v1h-1zM402 328h2v1h-2zM412 326h1v1h-1zM420 355h1v2h-1zM419 336h1v1h-1zM422 357h1v2h-1zM416 329h1v1h-1zM414 323h1v1h-1zM408 343h1v1h-1zM396 313h1v1h-1zM400 313h1v2h-1zM402 317h1v1h-1zM412 352h2v2h-2zM405 336h1v2h-1zM416 329h1v1h-1zM412 340h2v1h-2zM413 339h1v1h-1zM398 330h1v1h-1zM414 323h2v1h-2zM414 324h1v2h-1zM403 299h1v1h-1zM412 328h1v2h-1zM420 352h2v2h-2zM403 372h1v2h-1zM413 349h2v2h-2zM407 353h1v2h-1zM411 305h2v1h-2zM401 319h2v2h-2zM412 337h1v1h-1zM407 327h2v2h-2zM418 339h1v2h-1zM401 316h1v1h-1zM415 343h2v2h-2zM409 383h2v2h-2zM413 361h2v1h-2zM399 316h1v2h-1zM398 326h1v1h-1zM405 323h1v1h-1zM415 349h1v2h-1zM414 338h1v2h-1zM410 375h1v1h-1zM407 339h1v1h-1zM418 382h1v2h-1zM415 334h1v1h-1zM406 335h2v1h-2zM407 356h1v2h-1zM404 313h2v2h-2zM417 380h2v2h-2zM422 332h2v1h-2zM418 347h1v2h-1zM411 336h1v2h-1zM403 320h1v2h-1zM407 336h2v2h-2zM414 342h2v1h-2zM411 372h2v1h-2zM406 342h1v2h-1zM415 330h2v1h-2zM401 303h1v2h-1zM412 340h1v1h-1zM416 338h1v2h-1zM406 338h2v2h-2zM407 322h1v1h-1zM406 328h1v2h-1zM417 343h1v2h-1zM406 341h1v2h-1zM398 323h2v2h-2zM407 364h2v1h-2zM410 350h1v2h-1zM409 322h1v1h-1zM409 376h1v1h-1zM409 343h1v2h-1zM404 320h1v1h-1zM414 334h1v2h-1zM409 327h2v1h-2zM398 318h1v2h-1zM419 355h1v1h-1zM419 357h1v2h-1zM413 373h1v2h-1zM402 329h1v2h-1zM407 375h1v1h-1zM417 327h1v2h-1zM410 343h2v2h-2zM412 358h2v1h-2zM407 355h2v2h-2zM416 351h2v1h-2zM411 333h2v2h-2zM415 365h1v1h-1zM411 321h1v1h-1zM410 338h1v1h-1zM401 314h2v2h-2zM412 332h2v1h-2zM397 329h2v1h-2zM402 373h1v1h-1zM410 322h1v2h-1zM413 346h1v2h-1zM416 326h2v2h-2zM411 318h1v1h-1zM415 351h2v2h-2zM415 382h2v2h-2zM408 377h2v1h-2zM414 384h2v2h-2zM408 340h1v1h-1zM411 373h2v1h-2zM414 341h1v1h-1zM403 303h2v1h-2zM407 352h2v2h-2zM413 356h2v2h-2zM408 336h1v1h-1zM430 359h1v2h-1zM409 342h1v1h-1zM398 373h2v2h-2zM414 323h1v1h-1zM413 366h2v2h-2zM407 377h1v1h-1zM412 346h1v2h-1zM419 353h2v1h-2zM416 351h1v2h-1zM401 332h2v1h-2zM417 344h1v2h-1zM400 377h1v2h-1zM409 369h2v2h-2zM416 360h2v2h-2zM414 371h1v1h-1zM418 351h2v2h-2zM403 330h1v1h-1zM415 340h2v2h-2zM401 309h1v2h-1zM754 432h2v2h-2zM710 453h2v1h-2zM739 428h2v1h-2zM731 429h2v1h-2zM791 462h1v2h-1zM773 438h1v1h-1zM693 450h2v1h-2zM774 436h2v1h-2zM691 449h1v2h-1zM709 456h1v1h-1zM719 488h2v1h-2zM726 417h1v1h-1zM785 463h1v1h-1zM721 485h1v2h-1zM730 426h1v1h-1zM702 488h1v1h-1zM729 423h2v1h-2zM695 451h1v2h-1zM696 451h2v2h-2zM761 440h1v2h-1zM740 431h1v2h-1zM763 444h1v2h-1zM702 460h1v2h-1zM698 487h2v1h-2zM735 434h2v1h-2zM753 434h2v2h-2zM703 484h2v1h-2zM713 434h2v1h-2zM752 441h2v1h-2zM744 427h1v1h-1zM750 429h1v1h-1zM708 486h2v1h-2zM712 486h2v2h-2zM692 446h2v2h-2zM792 460h1v1h-1zM733 420h1v1h-1zM713 480h1v1h-1zM723 436h1v2h-1zM734 412h1v2h-1zM782 444h2v1h-2zM694 451h1v1h-1zM726 431h2v1h-2zM708 487h1v2h-1zM728 434h1v2h-1zM685 448h1v1h-1zM767 442h1v1h-1zM757 434h2v2h-2zM739 430h2v1h-2zM776 447h1v2h-1zM777 447h2v2h-2zM707 460h1v2h-1zM690 456h2v1h-2zM767 440h2v1h-2zM770 431h2v2h-2zM729 425h1v1h-1zM751 432h2v1h-2zM704 482h2v1h-2zM700 483h1v2h-1zM731 421h1v1h-1zM699 444h1v2h-1zM755 425h2v1h-2zM731 423h1v1h-1zM713 491h1v2h-1zM751 429h2v2h-2zM709 482h1v2h-1zM710 488h1v1h-1zM771 429h1v2h-1zM756 430h2v2h-2zM722 434h1v2h-1zM694 448h2v1h-2zM722 436h2v2h-2zM691 453h2v2h-2zM768 446h1v1h-1zM710 484h1v2h-1zM780 441h1v2h-1zM778 448h1v1h-1zM690 453h2v1h-2zM720 490h1v2h-1zM775 438h2v1h-2zM684 453h2v2h-2zM705 483h2v2h-2zM749 421h1v2h-1zM750 431h2v2h-2zM727 434h2v1h-2zM769 423h1v2h-1zM733 416h1v2h-1zM749 423h1v1h-1zM762 441h2v2h-2zM707 487h1v2h-1zM790 452h2v2h-2zM700 486h1v2h-1zM752 427h1v1h-1zM722 435h1v2h-1zM723 433h1v2h-1zM753 426h2v1h-2zM756 431h1v2h-1zM707 490h1v1h-1zM790 455h1v1h-1zM725 432h2v2h-2zM766 435h2v1h-2zM695 448h1v1h-1zM783 464h2v1h-2zM776 439h2v2h-2zM778 446h1v2h-1zM735 436h1v2h-1zM706 492h1v2h-1zM711 486h2v2h-2zM766 431h2v1h-2zM775 440h2v2h-2zM765 426h2v2h-2zM765 442h2v2h-2zM756 432h1v2h-1zM707 477h1v1h-1zM778 439h1v2h-1zM761 433h1v2h-1zM771 437h1v2h-1zM760 442h2v2h-2zM779 445h1v2h-1zM708 455h2v2h-2zM705 488h1v1h-1zM735 424h1v2h-1zM762 434h2v1h-2zM709 456h1v1h-1zM698 486h2v1h-2zM773 442h2v2h-2zM701 480h2v2h-2zM743 427h2v1h-2zM766 432h1v1h-1zM751 430h1v2h-1zM706 458h1v1h-1zM752 428h2v2h-2zM750 424h2v1h-2zM692 450h1v2h-1zM735 430h2v1h-2zM714 490h1v2h-1zM765 425h1v1h-1zM720 480h2v1h-2zM715 489h2v1h-2zM697 448h1v1h-1zM721 489h2v1h-2zM779 441h1v2h-1zM714 479h1v2h-1zM706 482h2v1h-2zM727 439h1v2h-1zM695 446h1v2h-1zM696 450h1v1h-1zM732 419h2v1h-2zM768 438h1v2h-1zM708 485h2v1h-2zM755 434h2v1h-2zM774 447h2v2h-2zM699 485h2v1h-2zM791 460h2v2h-2zM757 431h2v2h-2zM712 484h1v2h-1zM774 440h1v1h-1zM700 445h2v1h-2zM714 465h2v2h-2zM768 419h1v1h-1zM708 483h1v2h-1z"/>
<path fill="#d490c6" d="M268 389h1v2h-1zM265 367h1v2h-1zM285 332h1v2h-1zM240 333h1v1h-1zM259 337h1v2h-1zM286 398h1v1h-1zM260 352h1v2h-1zM283 378h1v2h-1zM264 401h1v2h-1zM284 378h2v2h-2zM243 349h1v2h-1zM288 374h2v2h-2zM277 356h2v2h-2zM249 363h1v1h-1zM285 328h2v1h-2zM258 387h1v1h-1zM264 355h2v2h-2zM289 393h2v1h-2zM280 397h2v2h-2zM260 391h2v2h-2zM277 356h2v2h-2zM268 329h1v2h-1zM267 380h1v2h-1zM285 361h2v2h-2zM262 338h2v2h-2zM279 387h1v1h-1zM260 363h1v1h-1zM259 375h2v1h-2zM280 376h2v2h-2zM259 342h1v1h-1zM266 331h1v2h-1zM258 330h1v1h-1zM260 388h1v2h-1zM300 380h2v1h-2zM256 383h1v1h-1zM278 399h2v2h-2zM272 407h1v1h-1zM265 349h2v1h-2zM271 408h1v1h-1zM284 368h1v1h-1zM270 382h1v2h-1zM267 373h1v1h-1zM274 356h2v1h-2zM265 411h2v1h-2zM273 343h1v1h-1zM283 371h2v2h-2zM271 335h2v1h-2zM274 391h1v1h-1zM279 327h1v1h-1zM287 364h1v1h-1zM269 407h1v2h-1zM277 351h1v2h-1zM261 345h2v1h-2zM257 396h2v2h-2zM250 350h2v2h-2zM281 345h2v1h-2zM259 350h1v2h-1zM282 375h1v1h-1zM277 378h1v2h-1zM295 371h1v1h-1zM248 343h2v2h-2zM289 343h2v1h-2zM273 335h2v1h-2zM278 357h2v1h-2zM254 367h1v1h-1zM270 340h2v2h-2zM262 384h2v1h-2zM268 328h2v2h-2zM265 361h2v1h-2zM286 362h2v2h-2zM276 377h1v1h-1zM266 345h2v2h-2zM260 382h2v2h-2zM257 354h2v2h-2zM261 352h1v2h-1zM291 373h2v1h-2zM270 394h2v2h-2zM270 351h1v1h-1zM256 367h2v2h-2zM260 372h2v1h-2zM281 332h1v2h-1zM286 374h2v2h-2zM271 358h2v2h-2zM259 405h2v2h-2zM287 399h1v1h-1zM258 342h2v1h-2zM274 403h1v1h-1zM280 384h2v2h-2zM247 331h2v1h-2zM256 345h1v2h-1zM280 333h1v2h-1zM272 331h2v2h-2zM288 365h1v2h-1zM264 387h1v2h-1zM244 348h1v2h-1zM287 364h1v2h-1zM287 382h1v2h-1zM267 388h1v2h-1zM268 404h1v1h-1zM288 383h2v2h-2zM278 398h1v2h-1zM257 359h1v2h-1zM278 398h2v1h-2zM259 338h1v2h-1zM256 363h2v2h-2zM283 369h1v1h-1zM286 366h1v2h-1zM284 343h2v2h-2zM272 365h1v2h-1zM259 348h2v2h-2zM278 350h2v1h-2zM276 332h2v1h-2zM288 382h2v1h-2zM246 343h1v1h-1zM257 366h1v1h-1zM253 350h1v1h-1zM273 336h2v1h-2zM286 364h1v2h-1zM264 375h1v2h-1zM278 403h2v2h-2zM283 326h2v2h-2zM261 405h1v1h-1zM268 362h1v1h-1zM258 337h2v2h-2zM281 359h1v1h-1zM290 365h2v2h-2zM285 364h2v2h-2zM279 342h1v1h-1zM276 342h2v1h-2zM264 377h2v1h-2zM277 332h1v1h-1zM251 365h2v2h-2zM271 402h1v2h-1zM275 397h2v2h-2zM262 340h1v2h-1zM262 381h2v2h-2zM283 392h1v2h-1zM275 363h2v2h-2zM262 335h1v2h-1zM261 382h2v1h-2zM272 359h1v1h-1zM287 327h2v2h-2zM294 385h1v2h-1zM265 386h2v1h-2zM298 383h1v1h-1zM281 387h1v1h-1zM256 356h1v1h-1zM254 365h1v1h-1zM263 399h1v1h-1zM247 355h1v2h-1zM273 394h2v1h-2zM247 337h1v1h-1zM266 398h2v2h-2zM243 342h1v1h-1zM280 396h1v2h-1zM246 334h2v2h-2zM254 347h2v1h-2zM266 402h1v2h-1zM256 366h2v1h-2zM269 369h2v1h-2zM267 397h2v1h-2zM251 369h2v1h-2zM280 341h1v2h-1zM279 393h1v1h-1zM245 339h1v1h-1zM266 355h1v2h-1zM259 347h1v1h-1zM261 413h1v2h-1zM268 365h1v2h-1zM255 340h2v2h-2zM264 376h1v1h-1zM274 341h2v2h-2zM247 359h1v2h-1zM287 386h1v1h-1zM264 396h1v2h-1zM294 371h2v2h-2zM287 335h1v1h-1zM273 357h2v2h-2zM270 392h2v2h-2zM260 378h2v1h-2zM254 363h1v2h-1zM295 391h2v2h-2zM262 348h1v1h-1zM277 366h1v2h-1zM251 363h1v1h-1zM283 360h2v1h-2zM269 339h1v2h-1zM257 398h1v1h-1zM292 375h1v1h-1zM244 348h1v1h-1zM277 398h2v1h-2zM262 397h1v1h-1zM258 384h2v2h-2zM294 367h1v2h-1zM292 361h1v2h-1zM270 352h1v1h-1zM277 347h2v2h-2zM273 360h2v2h-2zM293 379h1v1h-1zM248 361h1v1h-1zM252 338h1v1h-1zM257 405h1v1h-1zM264 375h2v1h-2zM252 353h2v2h-2zM288 362h1v1h-1zM285 348h1v1h-1zM244 337h1v2h-1zM272 386h2v2h-2zM270 380h1v1h-1zM270 391h1v2h-1zM277 338h2v1h-2zM260 414h2v1h-2zM267 385h1v1h-1zM283 337h1v1h-1zM261 385h2v2h-2zM274 327h1v2h-1zM269 380h1v1h-1zM268 382h1v1h-1zM282 326h1v2h-1zM277 372h1v2h-1zM261 358h2v1h-2zM297 383h2v2h-2zM268 355h1v2h-1zM261 400h1v2h-1zM285 399h1v2h-1zM289 376h2v1h-2zM282 329h1v2h-1zM263 397h2v2h-2zM245 353h1v2h-1zM278 364h1v1h-1zM243 338h1v2h-1zM281 373h2v1h-2zM276 406h2v1h-2zM294 371h1v1h-1zM279 332h2v1h-2zM264 410h1v2h-1zM269 410h2v1h-2zM268 342h1v1h-1zM283 403h1v1h-1zM286 345h2v1h-2zM288 394h1v1h-1zM268 392h2v1h-2zM263 408h1v2h-1zM282 384h1v2h-1zM290 389h1v2h-1zM287 342h2v1h-2zM276 364h2v1h-2zM260 380h2v2h-2zM272 364h1v2h-1zM240 333h2v2h-2zM284 339h2v2h-2zM272 338h2v2h-2zM289 342h1v1h-1zM287 363h2v1h-2zM286 355h2v1h-2zM264 361h1v2h-1zM258 385h1v1h-1zM250 336h1v1h-1zM276 332h1v1h-1zM261 353h1v1h-1zM323 552h1v2h-1zM347 554h2v2h-2zM304 540h1v1h-1zM333 524h2v2h-2zM309 548h2v2h-2zM311 562h1v2h-1zM318 528h1v2h-1zM313 559h1v2h-1zM317 537h1v2h-1zM343 548h2v2h-2zM307 527h1v1h-1zM313 558h2v1h-2zM358 556h2v2h-2zM327 552h1v1h-1zM316 554h1v1h-1zM324 546h1v2h-1zM327 555h2v1h-2zM313 531h2v1h-2zM341 528h2v2h-2zM330 530h1v1h-1zM321 551h1v2h-1zM326 557h2v1h-2zM322 557h2v2h-2zM314 558h1v1h-1zM343 532h1v1h-1zM313 534h2v1h-2zM314 555h2v1h-2zM326 558h2v2h-2zM310 547h1v1h-1zM309 544h1v2h-1zM314 550h1v1h-1zM306 541h2v1h-2zM310 555h2v2h-2zM317 552h2v2h-2zM312 537h1v2h-1zM319 557h2v2h-2zM340 531h2v2h-2zM316 534h2v2h-2zM317 560h1v2h-1zM344 558h2v1h-2zM318 557h2v2h-2zM348 537h2v2h-2zM319 559h1v2h-1zM304 562h2v2h-2zM317 564h2v1h-2zM309 523h1v1h-1zM329 525h2v2h-2zM344 534h2v1h-2zM333 525h1v2h-1zM317 560h1v1h-1zM318 521h1v2h-1zM317 557h1v2h-1zM331 544h1v1h-1zM342 537h2v1h-2zM339 538h1v2h-1zM318 515h2v1h-2zM345 530h2v2h-2zM321 553h1v1h-1zM331 531h2v2h-2zM336 537h1v1h-1zM303 538h2v1h-2zM325 552h2v2h-2zM334 528h1v2h-1zM330 553h1v1h-1zM320 545h2v1h-2zM314 550h2v1h-2zM342 536h1v1h-1zM326 557h2v2h-2zM338 534h2v1h-2zM341 549h1v1h-1zM322 553h2v2h-2zM328 531h1v2h-1zM317 557h1v2h-1zM312 540h1v1h-1zM307 527h2v1h-2zM352 548h1v2h-1zM312 558h1v2h-1zM341 539h1v1h-1zM322 531h1v1h-1zM329 525h1v1h-1zM326 520h1v1h-1zM334 540h1v2h-1zM339 542h1v1h-1zM348 548h1v1h-1zM319 560h2v1h-2zM309 559h1v1h-1zM351 556h2v2h-2zM345 545h1v1h-1zM322 562h2v2h-2zM336 534h1v2h-1zM316 555h2v2h-2zM314 528h1v1h-1zM318 543h1v1h-1zM351 541h2v1h-2zM313 551h2v2h-2zM345 555h1v2h-1zM315 551h1v1h-1zM316 559h2v2h-2zM342 540h2v1h-2zM311 559h2v1h-2zM314 526h2v1h-2zM307 554h1v1h-1zM310 547h1v2h-1zM320 554h2v2h-2zM312 534h2v2h-2zM308 548h2v1h-2zM316 554h1v2h-1zM326 553h2v2h-2zM356 553h1v2h-1zM323 548h1v2h-1zM337 555h2v1h-2zM319 532h1v1h-1zM313 521h2v2h-2zM315 524h2v2h-2zM327 559h1v2h-1zM319 560h2v2h-2zM334 532h1v2h-1zM348 544h2v1h-2zM297 541h2v2h-2zM322 529h2v2h-2zM318 560h1v1h-1zM347 551h2v1h-2zM338 532h1v2h-1zM307 527h2v1h-2zM307 559h1v1h-1zM330 546h1v2h-1zM307 528h1v2h-1zM311 566h1v2h-1zM314 559h2v2h-2zM341 537h1v1h-1zM324 549h1v1h-1zM339 534h1v1h-1zM353 546h1v2h-1zM321 542h1v2h-1zM309 541h1v2h-1zM321 553h2v1h-2zM314 535h2v1h-2zM324 560h2v2h-2zM326 541h1v1h-1zM313 551h2v2h-2zM343 539h1v2h-1zM305 559h1v2h-1zM336 535h1v2h-1zM343 526h1v1h-1zM320 562h2v1h-2zM319 545h2v2h-2zM340 536h1v1h-1zM308 552h2v1h-2zM314 561h2v2h-2zM336 527h2v1h-2zM355 547h2v1h-2zM331 520h2v2h-2zM329 534h2v1h-2zM302 560h1v2h-1zM319 539h2v2h-2zM322 560h1v2h-1zM311 533h2v1h-2zM315 553h2v1h-2zM332 558h2v1h-2zM314 548h2v1h-2zM314 563h2v1h-2zM308 541h1v2h-1zM349 560h1v2h-1zM348 545h1v2h-1zM315 538h2v2h-2zM310 558h1v1h-1zM322 549h1v2h-1zM323 529h1v1h-1zM305 536h2v1h-2zM321 553h2v2h-2zM303 542h1v1h-1zM308 558h1v1h-1zM332 526h1v2h-1zM353 556h1v2h-1zM338 530h2v2h-2zM348 547h1v1h-1zM313 558h2v2h-2zM337 523h1v2h-1zM316 553h1v1h-1zM318 552h2v1h-2zM348 530h2v2h-2zM315 532h1v2h-1zM316 550h2v1h-2zM320 555h1v2h-1zM307 560h1v2h-1zM353 544h1v1h-1zM336 551h1v1h-1zM329 554h2v1h-2zM323 565h1v1h-1zM350 554h2v2h-2zM341 549h2v1h-2zM329 545h1v1h-1zM321 543h1v1h-1zM333 538h2v2h-2zM322 549h2v1h-2zM313 546h1v1h-1zM311 545h1v2h-1zM333 530h2v2h-2zM311 564h2v1h-2zM317 529h2v2h-2zM309 536h2v2h-2zM324 560h1v1h-1zM325 543h1v1h-1zM329 543h2v2h-2zM343 529h2v1h-2zM312 559h2v2h-2zM327 548h2v1h-2zM314 532h1v1h-1zM330 529h2v2h-2zM315 559h2v1h-2zM311 554h1v2h-1zM320 546h2v1h-2zM319 524h1v1h-1zM323 540h1v2h-1zM323 554h1v2h-1zM328 524h2v2h-2zM313 558h2v1h-2zM339 544h1v2h-1zM311 554h1v2h-1zM350 557h2v1h-2zM302 559h2v2h-2zM315 556h1v2h-1zM346 553h2v2h-2zM313 556h1v2h-1zM319 528h2v1h-2zM308 539h2v1h-2zM316 552h1v1h-1zM329 555h1v2h-1zM337 537h1v1h-1zM309 530h2v2h-2zM328 535h2v2h-2zM320 552h2v2h-2zM343 542h2v2h-2zM339 530h2v1h-2zM325 525h1v1h-1zM319 555h1v1h-1zM333 538h2v2h-2zM319 549h2v1h-2zM311 539h2v1h-2zM334 530h2v1h-2zM309 554h1v2h-1zM328 550h2v2h-2zM326 527h1v1h-1zM312 561h1v2h-1zM340 552h2v2h-2zM328 515h1v1h-1zM341 527h1v1h-1zM332 523h2v2h-2zM313 555h2v2h-2zM307 528h2v2h-2zM310 526h1v1h-1zM312 552h2v1h-2zM314 563h2v2h-2zM323 559h1v1h-1zM342 550h1v2h-1zM334 535h1v1h-1zM310 533h2v1h-2zM318 557h2v1h-2zM348 551h2v1h-2zM344 550h2v2h-2zM394 528h2v2h-2zM415 515h2v2h-2zM376 527h1v1h-1zM424 514h2v1h-2zM398 522h1v2h-1zM379 516h1v1h-1zM402 515h2v1h-2zM445 524h1v1h-1zM449 529h2v2h-2zM446 528h2v1h-2zM462 518h1v1h-1zM372 525h1v1h-1zM452 537h2v1h-2zM398 518h2v2h-2zM401 541h1v2h-1zM391 537h2v1h-2zM426 517h2v1h-2zM389 525h1v2h-1zM378 532h1v2h-1zM427 537h1v1h-1zM395 533h1v2h-1zM416 515h2v1h-2zM400 534h1v1h-1zM413 515h1v1h-1zM356 494h2v2h-2zM414 517h2v2h-2zM388 537h1v1h-1zM439 526h1v1h-1zM382 512h2v1h-2zM379 520h1v1h-1zM425 524h2v2h-2zM387 531h2v1h-2zM385 544h2v2h-2zM418 516h1v1h-1zM466 524h2v1h-2zM410 503h2v1h-2zM464 522h1v2h-1zM379 502h1v1h-1zM411 519h1v2h-1zM386 536h2v1h-2zM441 538h1v2h-1zM396 519h2v2h-2zM446 524h2v2h-2zM387 522h1v2h-1zM455 522h2v2h-2zM387 537h2v2h-2zM393 538h2v1h-2zM424 520h1v1h-1zM395 521h2v2h-2zM436 531h1v1h-1zM412 517h2v1h-2zM417 512h1v1h-1zM452 522h2v2h-2zM446 520h1v2h-1zM419 525h1v1h-1zM396 532h2v2h-2zM393 522h1v1h-1zM452 525h2v2h-2zM453 527h2v2h-2zM417 512h2v1h-2zM450 526h1v2h-1zM449 525h2v1h-2zM412 518h1v2h-1zM447 527h2v1h-2zM438 531h1v1h-1zM448 518h1v2h-1zM465 517h1v1h-1zM372 505h1v2h-1zM402 545h1v2h-1zM395 530h2v1h-2zM459 520h2v2h-2zM441 518h1v1h-1zM454 527h1v1h-1zM460 523h2v2h-2zM397 515h1v1h-1zM393 522h1v2h-1zM380 531h1v2h-1zM454 533h1v1h-1zM384 518h2v2h-2zM394 535h2v2h-2zM459 517h1v1h-1zM444 534h1v2h-1zM407 519h1v1h-1zM387 523h1v2h-1zM383 525h2v2h-2zM379 494h2v2h-2zM402 519h1v2h-1zM387 519h2v2h-2zM399 509h2v2h-2zM380 525h1v1h-1zM455 522h2v1h-2zM391 500h1v1h-1zM452 531h1v2h-1zM450 520h2v2h-2zM462 519h2v1h-2zM392 536h2v2h-2zM451 527h1v1h-1zM413 515h2v1h-2zM386 532h1v1h-1zM382 521h1v1h-1zM438 517h1v2h-1zM451 521h1v2h-1zM459 526h1v1h-1zM440 529h2v2h-2zM370 523h1v1h-1zM396 518h2v2h-2zM386 524h1v2h-1zM421 518h1v1h-1zM378 525h2v1h-2zM389 511h1v1h-1zM411 511h2v1h-2zM454 525h2v2h-2zM440 518h1v2h-1zM399 533h1v2h-1zM400 523h2v1h-2zM423 518h2v1h-2zM455 525h1v2h-1zM408 516h2v1h-2zM435 530h2v1h-2zM451 517h1v2h-1zM392 505h1v1h-1zM413 522h1v2h-1zM416 509h1v2h-1zM441 525h2v2h-2zM423 529h1v1h-1zM416 523h1v1h-1zM385 519h2v1h-2zM417 515h1v2h-1zM446 527h1v2h-1zM423 521h1v1h-1zM527 369h1v1h-1zM503 324h1v1h-1zM474 358h1v1h-1zM503 357h1v2h-1zM507 331h1v1h-1zM475 364h1v1h-1zM479 311h1v2h-1zM527 353h1v1h-1zM507 360h1v1h-1zM511 357h1v2h-1zM507 327h1v1h-1zM511 360h1v2h-1zM528 354h1v1h-1zM541 325h2v1h-2zM475 359h2v1h-2zM510 381h1v1h-1zM478 366h1v1h-1zM507 360h1v1h-1zM530 368h2v1h-2zM474 307h1v2h-1zM533 317h1v2h-1zM532 334h1v1h-1zM476 316h1v1h-1zM513 382h1v2h-1zM510 352h2v1h-2zM513 357h1v1h-1zM534 333h1v1h-1zM522 342h1v1h-1zM515 359h1v1h-1zM523 337h1v1h-1zM471 347h1v1h-1zM522 341h1v1h-1zM504 324h2v1h-2zM509 380h1v2h-1zM507 356h1v1h-1zM543 335h1v1h-1zM530 354h1v2h-1zM509 351h1v2h-1zM476 342h2v1h-2zM523 374h1v1h-1zM526 371h1v2h-1zM510 329h1v1h-1zM472 342h1v1h-1zM477 365h1v2h-1zM514 357h1v1h-1zM528 369h2v1h-2zM540 324h1v2h-1zM536 331h2v1h-2zM529 361h1v2h-1zM534 333h1v1h-1zM527 359h1v1h-1zM522 337h1v1h-1zM482 357h1v1h-1zM537 319h2v1h-2zM520 335h1v1h-1zM519 366h2v1h-2zM501 322h1v1h-1zM538 316h1v1h-1zM535 339h1v1h-1zM520 334h1v2h-1zM513 354h1v2h-1zM520 357h1v2h-1zM517 367h1v1h-1zM529 362h2v1h-2zM482 364h2v1h-2zM517 338h1v1h-1zM511 355h1v1h-1zM468 351h2v1h-2zM522 367h1v2h-1zM509 354h1v1h-1z"/>
<path fill="#c3c0f2" d="M263 366h2v2h-2zM264 372h2v1h-2zM278 362h2v1h-2zM289 335h1v2h-1zM257 332h2v1h-2zM266 377h2v1h-2zM274 389h2v2h-2zM265 382h2v2h-2zM286 349h2v2h-2zM267 402h2v2h-2zM282 400h2v2h-2zM289 390h1v1h-1zM271 359h2v1h-2zM270 404h2v1h-2zM271 357h2v1h-2zM274 353h1v1h-1zM283 324h1v2h-1zM265 340h2v2h-2zM271 326h2v1h-2zM279 388h1v2h-1zM256 345h2v2h-2zM283 363h2v2h-2zM276 360h1v2h-1zM296 372h1v1h-1zM281 359h1v1h-1zM275 395h2v2h-2zM283 393h2v1h-2zM284 398h1v1h-1zM282 349h2v2h-2zM266 346h1v1h-1zM270 371h1v1h-1zM281 371h1v1h-1zM266 328h2v1h-2zM260 339h2v1h-2zM269 355h2v1h-2zM271 375h1v2h-1zM276 350h2v1h-2zM260 355h2v2h-2zM265 374h2v2h-2zM284 328h2v2h-2zM268 350h1v2h-1zM254 348h2v2h-2zM266 342h2v2h-2zM275 367h1v2h-1zM271 383h1v1h-1zM283 376h2v1h-2zM283 347h2v2h-2zM269 403h1v2h-1zM267 350h1v2h-1zM281 373h2v1h-2zM286 332h2v1h-2zM262 357h2v1h-2zM282 330h2v2h-2zM270 349h1v2h-1zM288 365h2v1h-2zM280 403h1v1h-1zM272 374h1v2h-1zM290 343h1v2h-1zM283 390h2v2h-2zM277 357h2v1h-2zM277 400h1v2h-1zM288 373h2v2h-2zM276 346h1v2h-1zM263 337h2v1h-2zM280 335h1v1h-1zM287 393h2v1h-2zM285 344h2v2h-2zM270 364h2v1h-2zM267 367h1v2h-1zM285 347h2v1h-2zM283 333h2v1h-2zM278 346h2v2h-2zM256 360h2v2h-2zM268 350h2v2h-2zM255 337h1v1h-1zM277 331h1v1h-1zM275 399h2v2h-2zM270 337h2v1h-2zM291 376h2v2h-2zM281 332h1v2h-1zM268 361h1v2h-1zM269 340h2v1h-2zM261 334h2v1h-2zM287 332h2v1h-2zM266 354h1v2h-1zM252 335h2v2h-2zM262 384h1v2h-1zM268 376h1v1h-1zM284 341h2v1h-2zM271 378h2v2h-2zM281 372h1v2h-1zM270 397h2v1h-2zM273 358h2v2h-2zM286 335h1v1h-1zM263 364h2v2h-2zM278 390h2v1h-2zM264 336h1v1h-1zM277 342h2v1h-2zM273 332h2v1h-2zM281 391h1v1h-1zM280 364h1v2h-1zM290 377h1v1h-1zM258 357h2v1h-2zM276 359h2v2h-2zM274 390h1v1h-1zM258 350h1v2h-1zM269 389h2v2h-2zM260 337h1v2h-1zM266 356h2v1h-2zM261 344h1v2h-1zM262 374h1v1h-1zM271 330h1v1h-1zM284 398h2v1h-2zM270 345h2v2h-2zM275 384h1v1h-1zM276 353h1v1h-1zM281 375h2v1h-2zM270 399h1v2h-1zM288 358h1v1h-1zM273 404h2v2h-2zM270 346h1v1h-1zM281 337h1v2h-1zM260 340h2v1h-2zM279 331h2v1h-2zM266 388h2v2h-2zM275 401h1v1h-1zM287 332h1v1h-1zM273 365h2v2h-2zM285 369h2v2h-2zM284 390h1v2h-1zM292 368h1v2h-1zM279 393h1v2h-1zM280 389h2v1h-2zM263 375h1v2h-1zM258 343h1v2h-1zM288 361h2v1h-2zM276 371h2v1h-2zM298 387h1v2h-1zM258 352h1v2h-1zM270 399h1v1h-1zM293 391h2v1h-2zM286 388h1v2h-1zM274 396h2v2h-2zM297 381h1v2h-1zM283 365h2v1h-2zM291 366h1v2h-1zM262 350h2v1h-2zM284 384h2v1h-2zM281 387h1v1h-1zM261 335h1v1h-1zM289 354h2v1h-2zM256 358h1v2h-1zM253 330h1v2h-1zM268 339h1v1h-1zM276 325h2v1h-2zM260 350h1v2h-1zM269 347h1v2h-1zM283 330h2v2h-2zM266 377h2v1h-2zM264 378h1v1h-1zM263 383h2v2h-2zM289 356h1v2h-1zM293 383h2v1h-2zM270 326h2v2h-2zM295 374h2v1h-2zM265 393h1v2h-1zM263 349h1v1h-1zM278 372h1v1h-1zM274 387h2v1h-2zM278 377h2v1h-2zM282 343h2v2h-2zM274 404h1v2h-1zM271 358h2v2h-2zM285 344h1v1h-1zM272 377h1v2h-1zM262 359h2v2h-2zM281 334h2v1h-2zM278 328h2v2h-2zM273 391h1v1h-1zM283 355h1v1h-1zM283 398h2v1h-2zM263 373h2v2h-2zM257 363h1v1h-1zM287 361h1v1h-1zM290 395h1v2h-1zM280 403h1v1h-1zM280 346h1v1h-1zM271 326h1v1h-1zM287 350h1v2h-1zM272 355h2v1h-2zM281 340h1v1h-1zM266 382h2v2h-2zM277 357h1v2h-1zM263 327h2v1h-2zM285 385h2v2h-2zM282 327h1v2h-1zM285 335h1v1h-1zM283 329h2v2h-2zM296 382h1v1h-1zM266 364h1v2h-1zM342 311h2v1h-2zM315 311h1v2h-1zM322 312h2v2h-2zM336 308h1v1h-1zM344 302h1v1h-1zM320 317h1v2h-1zM345 317h1v1h-1zM336 318h1v2h-1zM328 307h2v1h-2zM335 317h1v2h-1zM338 329h1v2h-1zM332 319h1v1h-1zM330 308h1v2h-1zM328 322h2v2h-2zM347 314h1v1h-1zM337 305h1v1h-1zM342 309h1v2h-1zM334 306h2v1h-2zM324 312h2v2h-2zM349 307h1v2h-1zM344 338h2v2h-2zM349 296h1v1h-1zM355 310h2v1h-2zM339 319h1v1h-1zM348 330h2v1h-2zM324 319h1v1h-1zM340 324h1v2h-1zM342 308h1v1h-1zM319 321h1v2h-1zM333 338h2v2h-2zM311 333h2v1h-2zM314 317h1v2h-1zM318 326h2v2h-2zM348 318h2v2h-2zM325 324h2v2h-2zM332 309h1v1h-1zM335 311h1v1h-1zM322 334h2v1h-2zM340 301h2v2h-2zM338 312h1v1h-1zM332 319h1v1h-1zM332 317h2v2h-2zM350 324h2v2h-2zM331 323h2v1h-2zM351 329h1v1h-1zM335 327h2v2h-2zM319 334h2v1h-2zM323 314h1v2h-1zM326 328h2v2h-2zM323 323h2v2h-2zM344 327h2v1h-2zM322 325h2v1h-2zM342 336h1v1h-1zM309 323h1v1h-1zM329 326h2v1h-2zM328 321h2v1h-2zM322 318h2v2h-2zM337 322h1v1h-1zM320 323h1v1h-1zM349 318h1v2h-1zM329 339h2v1h-2zM336 303h2v1h-2zM325 313h1v2h-1zM341 306h1v1h-1zM333 330h1v1h-1zM322 320h2v2h-2zM331 316h1v1h-1zM327 322h2v1h-2zM322 328h1v2h-1zM320 319h1v1h-1zM345 310h1v2h-1zM345 310h2v1h-2zM347 311h2v2h-2zM331 329h1v2h-1zM318 327h2v1h-2zM312 337h1v2h-1zM349 331h1v2h-1zM321 323h2v1h-2zM343 307h2v1h-2zM312 318h1v2h-1zM311 321h1v2h-1zM315 334h1v1h-1zM319 329h1v1h-1zM329 320h2v2h-2zM346 329h1v2h-1zM342 313h1v1h-1zM325 310h1v2h-1zM324 313h2v1h-2zM354 321h2v2h-2zM342 316h1v1h-1zM354 338h1v2h-1zM354 311h2v2h-2zM338 311h2v2h-2zM335 320h2v1h-2zM319 318h1v1h-1zM330 323h2v1h-2zM331 305h1v2h-1zM335 322h2v2h-2zM336 321h2v1h-2zM326 319h2v2h-2zM327 339h2v2h-2zM350 313h2v1h-2zM325 318h2v1h-2zM322 315h1v2h-1zM322 325h1v1h-1zM315 339h1v2h-1zM346 318h1v2h-1zM344 304h1v1h-1zM323 315h2v1h-2zM337 308h2v2h-2zM314 319h2v1h-2zM323 310h2v2h-2zM337 317h1v2h-1zM341 313h1v1h-1zM342 330h2v2h-2zM340 298h2v2h-2zM347 310h2v2h-2zM343 329h1v1h-1zM339 318h2v1h-2zM343 324h1v2h-1zM389 492h1v2h-1zM359 496h2v1h-2zM379 497h2v2h-2zM382 511h1v2h-1zM380 504h1v1h-1zM379 513h2v2h-2zM371 501h2v2h-2zM392 507h2v1h-2zM374 499h1v2h-1zM374 505h2v2h-2zM353 490h1v1h-1zM381 491h1v2h-1zM378 502h2v1h-2zM383 491h1v1h-1zM389 497h2v2h-2zM363 499h1v1h-1zM388 492h1v1h-1zM394 496h2v1h-2zM367 509h2v1h-2zM382 506h1v1h-1zM387 498h2v2h-2zM363 488h1v2h-1zM368 489h1v1h-1zM382 497h2v1h-2zM371 498h2v2h-2zM382 517h1v2h-1zM373 519h1v1h-1zM365 485h1v2h-1zM369 490h2v1h-2zM385 503h1v1h-1zM380 499h2v2h-2zM371 483h2v1h-2zM392 511h2v1h-2zM364 487h1v2h-1zM385 500h2v1h-2zM368 500h2v1h-2zM381 505h2v2h-2zM390 506h2v2h-2zM377 514h2v2h-2zM381 492h2v1h-2zM359 496h1v1h-1zM384 504h2v1h-2zM365 501h1v1h-1zM382 511h1v1h-1zM380 516h1v1h-1zM367 497h1v2h-1zM386 496h1v1h-1zM358 490h2v2h-2zM381 497h1v1h-1zM376 501h1v2h-1zM367 508h1v1h-1zM385 508h2v2h-2zM386 496h1v2h-1zM370 516h1v1h-1zM372 501h1v1h-1zM384 490h1v2h-1zM383 494h2v2h-2zM372 520h1v1h-1zM359 497h2v2h-2zM386 501h2v1h-2zM353 488h1v1h-1zM390 510h1v1h-1zM380 494h2v2h-2zM389 504h2v1h-2zM390 507h1v2h-1zM368 511h1v2h-1zM385 505h1v1h-1zM387 507h2v1h-2zM355 497h2v1h-2zM376 504h2v2h-2zM382 500h1v1h-1zM384 496h2v2h-2zM383 489h1v1h-1zM360 488h1v2h-1zM389 498h1v1h-1zM374 505h1v2h-1zM387 495h2v2h-2zM385 496h1v2h-1zM381 499h1v1h-1zM394 494h2v1h-2zM392 496h2v2h-2zM376 506h1v1h-1zM388 496h2v2h-2zM381 491h2v1h-2zM378 489h2v2h-2zM381 494h2v1h-2zM392 504h1v2h-1zM378 494h1v1h-1zM387 486h2v1h-2zM373 492h2v2h-2zM390 492h1v2h-1zM373 505h2v1h-2zM383 496h2v1h-2zM377 495h1v2h-1zM378 496h1v2h-1zM377 510h1v2h-1zM379 501h2v2h-2zM381 508h2v2h-2zM382 503h1v1h-1zM392 503h2v2h-2zM385 506h1v1h-1zM382 500h1v1h-1zM376 504h2v1h-2zM359 477h1v1h-1zM381 500h2v1h-2zM379 509h1v1h-1zM386 495h1v2h-1zM382 492h1v2h-1zM375 492h1v2h-1zM373 503h2v1h-2zM390 485h1v1h-1zM376 505h2v1h-2zM370 507h2v1h-2zM375 491h1v1h-1zM366 492h2v1h-2zM384 485h2v1h-2zM355 498h1v2h-1zM360 493h2v2h-2zM384 498h1v1h-1zM364 486h2v2h-2zM375 494h1v1h-1zM377 499h1v1h-1zM382 496h1v1h-1zM387 496h1v1h-1zM388 503h1v1h-1zM374 495h2v2h-2zM357 486h2v2h-2zM376 497h1v2h-1zM382 498h2v1h-2zM384 502h1v1h-1zM437 516h2v2h-2zM397 510h2v1h-2zM447 522h2v1h-2zM449 533h2v2h-2zM401 510h2v1h-2zM402 523h2v1h-2zM421 527h2v2h-2zM421 537h1v1h-1zM413 519h2v2h-2zM449 513h1v2h-1zM414 526h2v2h-2zM407 527h1v2h-1zM436 542h2v1h-2zM374 514h1v2h-1zM370 529h2v1h-2zM424 523h1v1h-1zM410 520h2v1h-2zM446 540h1v2h-1zM378 513h2v2h-2zM452 521h1v1h-1zM406 518h2v1h-2zM411 514h1v2h-1zM420 529h1v1h-1zM387 528h2v1h-2zM420 525h1v2h-1zM409 521h2v1h-2zM378 531h2v1h-2zM385 508h2v1h-2zM389 529h1v1h-1zM403 515h2v1h-2zM431 523h1v1h-1zM428 530h1v1h-1zM409 520h1v1h-1zM386 535h2v1h-2zM390 510h2v2h-2zM393 495h2v1h-2zM375 520h2v2h-2zM448 540h1v2h-1zM424 540h1v2h-1zM424 534h1v1h-1zM451 521h2v2h-2zM455 529h1v2h-1zM416 539h2v2h-2zM374 524h2v1h-2zM379 521h1v1h-1zM408 531h2v1h-2zM456 530h2v2h-2zM460 521h2v1h-2zM445 520h2v2h-2zM424 525h1v1h-1zM440 527h2v1h-2zM369 531h1v2h-1zM436 521h1v1h-1zM412 530h1v1h-1zM390 530h1v1h-1zM408 522h1v1h-1zM387 514h1v1h-1zM456 530h2v2h-2zM453 513h1v1h-1zM411 513h1v2h-1zM406 536h1v1h-1zM450 532h1v2h-1zM363 519h1v2h-1zM439 526h2v1h-2zM410 529h2v2h-2zM409 513h1v2h-1zM369 521h2v2h-2zM389 525h2v1h-2zM437 517h2v1h-2zM367 522h1v2h-1zM409 541h1v1h-1zM396 523h2v1h-2zM432 523h2v1h-2zM403 517h1v2h-1zM417 522h1v2h-1zM436 539h1v2h-1zM423 520h2v2h-2zM426 518h2v2h-2zM392 521h1v1h-1zM400 520h2v2h-2zM372 515h1v1h-1zM410 531h2v2h-2zM397 519h2v1h-2zM397 521h1v2h-1zM375 525h2v2h-2zM431 516h1v1h-1zM409 520h1v1h-1zM401 527h1v2h-1zM412 517h2v1h-2zM429 541h1v2h-1zM367 524h2v1h-2zM412 545h1v1h-1zM358 517h1v1h-1zM376 511h2v1h-2zM443 524h2v2h-2zM437 522h2v2h-2zM374 511h1v1h-1zM433 524h1v1h-1zM395 523h2v2h-2zM402 516h1v2h-1zM456 521h2v2h-2zM450 516h1v2h-1zM447 527h1v2h-1zM404 517h1v2h-1zM392 522h1v1h-1zM395 518h2v2h-2zM394 505h1v1h-1zM366 526h1v2h-1zM420 530h2v2h-2zM430 530h2v1h-2zM417 524h1v1h-1zM397 527h1v1h-1zM442 534h1v2h-1zM448 515h2v2h-2zM373 523h2v2h-2zM459 516h1v2h-1zM407 516h2v2h-2zM459 513h1v1h-1zM373 528h1v2h-1zM378 503h2v1h-2zM365 524h2v1h-2zM448 527h2v1h-2zM366 532h1v1h-1zM436 524h1v2h-1zM411 507h1v2h-1zM408 523h1v1h-1zM402 521h2v1h-2zM438 545h2v2h-2zM409 533h1v1h-1zM383 516h2v2h-2zM379 518h1v2h-1zM415 544h1v1h-1zM451 518h2v2h-2zM408 511h2v1h-2zM445 511h1v2h-1zM460 524h2v1h-2zM421 540h1v2h-1zM427 531h1v1h-1zM428 504h2v2h-2zM448 524h2v1h-2zM367 523h2v1h-2zM435 533h1v1h-1zM447 513h1v2h-1zM409 536h1v1h-1zM422 533h2v1h-2zM451 521h2v2h-2zM407 532h2v1h-2zM386 521h1v1h-1zM399 523h2v2h-2zM403 524h2v1h-2zM426 540h2v2h-2zM371 528h1v1h-1zM418 524h2v1h-2zM386 534h2v2h-2zM420 531h2v1h-2zM384 514h1v1h-1zM399 521h1v1h-1zM399 512h1v2h-1zM438 515h2v2h-2zM378 520h1v2h-1zM403 522h1v2h-1zM405 526h1v2h-1zM431 515h2v1h-2zM382 524h2v2h-2zM429 536h1v1h-1zM425 528h2v1h-2zM403 522h2v2h-2zM395 541h2v1h-2zM411 519h2v1h-2zM439 522h2v2h-2zM438 539h1v1h-1zM432 538h2v2h-2zM444 523h2v2h-2zM405 519h2v2h-2zM451 522h1v1h-1zM371 522h2v1h-2zM451 515h1v2h-1zM441 516h1v2h-1zM402 518h1v2h-1zM406 542h1v2h-1zM448 525h1v2h-1zM400 511h1v1h-1zM421 524h1v1h-1zM445 531h2v1h-2zM397 505h1v1h-1zM413 512h2v1h-2zM399 518h1v2h-1zM404 507h1v1h-1zM394 520h1v1h-1zM416 515h2v2h-2zM394 512h2v2h-2zM416 542h2v1h-2zM442 517h1v2h-1zM386 531h1v1h-1zM419 518h1v1h-1zM437 528h1v1h-1zM459 526h1v2h-1zM402 533h2v2h-2zM410 523h2v2h-2zM443 530h1v1h-1zM440 535h1v1h-1zM377 525h2v2h-2zM411 526h2v2h-2zM443 518h1v2h-1zM394 534h1v1h-1zM408 533h2v1h-2zM372 531h1v1h-1zM429 542h2v2h-2zM403 515h1v1h-1zM443 528h1v2h-1zM394 532h1v1h-1zM417 520h2v2h-2zM452 528h1v2h-1zM457 526h2v2h-2zM402 526h2v2h-2zM428 532h1v2h-1zM403 523h1v2h-1zM419 540h2v1h-2zM391 521h2v2h-2zM398 507h2v2h-2zM406 551h2v2h-2zM414 526h1v2h-1zM385 511h1v2h-1zM398 531h2v2h-2zM435 520h1v2h-1zM367 520h1v2h-1zM456 521h2v1h-2zM433 541h1v1h-1zM400 534h1v2h-1zM412 539h2v1h-2zM391 521h1v1h-1zM452 518h2v1h-2zM419 535h1v2h-1zM392 527h1v1h-1zM373 503h1v1h-1zM403 515h2v2h-2zM416 527h2v1h-2zM406 527h1v2h-1zM422 511h1v2h-1zM424 516h2v2h-2zM439 535h2v2h-2zM462 525h1v1h-1zM416 525h2v1h-2zM374 532h2v2h-2zM386 512h1v1h-1zM374 515h2v2h-2zM404 507h2v1h-2zM427 537h1v2h-1zM397 529h2v2h-2zM443 521h2v2h-2zM410 520h2v2h-2zM428 539h2v1h-2zM370 522h2v2h-2zM409 526h1v1h-1zM447 522h2v2h-2zM415 536h2v1h-2zM436 526h2v1h-2zM407 525h1v1h-1zM371 519h2v1h-2zM396 504h2v2h-2z"/>
<path fill="#ffffff" d="M280 386h1v1h-1zM271 401h2v1h-2zM280 348h2v1h-2zM281 340h1v2h-1zM287 339h1v1h-1zM290 385h1v1h-1zM270 361h2v1h-2zM287 343h1v1h-1zM288 376h1v1h-1zM265 349h1v1h-1zM289 383h2v1h-2zM275 404h2v1h-2zM277 338h2v1h-2zM272 381h1v2h-1zM271 404h2v1h-2zM270 360h1v1h-1zM265 340h1v1h-1zM263 339h1v1h-1zM262 363h1v1h-1zM277 382h2v1h-2zM285 373h1v1h-1zM263 366h1v1h-1zM262 335h1v1h-1zM277 357h1v1h-1zM269 336h1v1h-1zM279 370h1v1h-1zM285 340h1v1h-1zM275 360h1v1h-1zM289 363h2v1h-2zM261 365h2v1h-2zM276 367h1v2h-1zM286 351h2v1h-2zM276 386h1v2h-1zM285 330h1v1h-1zM267 354h1v1h-1zM270 336h1v1h-1zM264 345h1v1h-1zM270 361h2v1h-2zM290 376h1v1h-1zM269 354h2v1h-2zM297 382h1v1h-1zM260 339h1v1h-1zM266 351h1v1h-1zM275 384h1v2h-1zM274 361h1v1h-1zM263 345h1v1h-1zM264 367h1v1h-1zM284 392h1v2h-1zM276 401h1v1h-1zM266 365h1v1h-1zM275 345h2v1h-2zM284 329h1v1h-1zM279 361h1v1h-1zM290 346h1v2h-1zM266 339h1v1h-1zM276 356h1v1h-1zM286 399h1v2h-1zM279 343h2v1h-2zM284 327h2v1h-2zM282 330h1v2h-1zM280 371h1v1h-1zM291 365h1v1h-1zM285 367h1v1h-1zM269 348h1v1h-1zM277 353h1v1h-1zM282 356h1v2h-1zM278 404h1v2h-1zM267 359h1v2h-1zM276 385h1v1h-1zM282 379h1v2h-1zM275 340h1v1h-1zM263 343h1v1h-1zM274 328h1v1h-1zM258 339h1v1h-1zM267 344h1v2h-1zM287 330h1v1h-1zM288 330h1v1h-1zM282 357h1v1h-1zM271 332h1v2h-1zM270 333h1v1h-1zM275 369h1v1h-1zM278 359h2v1h-2zM267 348h1v2h-1zM285 334h1v2h-1zM280 338h1v1h-1zM277 377h2v1h-2zM268 401h2v1h-2zM276 376h1v1h-1zM287 337h1v1h-1zM286 389h1v1h-1zM321 324h1v2h-1zM319 330h2v2h-2zM346 349h1v2h-1zM326 328h2v2h-2zM307 314h1v2h-1zM362 328h2v2h-2zM325 324h1v2h-1zM359 322h1v2h-1zM311 320h1v1h-1zM311 325h2v2h-2zM336 344h1v1h-1zM307 331h1v1h-1zM356 319h2v1h-2zM304 319h1v1h-1zM310 334h1v2h-1zM351 307h1v2h-1zM317 309h2v2h-2zM364 327h2v2h-2zM327 359h1v1h-1zM370 330h2v1h-2zM314 324h2v1h-2zM345 315h2v2h-2zM308 313h1v1h-1zM357 323h2v1h-2zM334 349h2v2h-2zM318 328h2v1h-2zM363 322h2v2h-2zM349 332h2v1h-2zM311 306h1v2h-1zM352 327h2v2h-2zM344 364h1v2h-1zM327 340h1v1h-1zM315 320h2v1h-2zM335 358h2v1h-2zM302 305h1v2h-1zM314 311h2v1h-2zM337 350h1v1h-1zM358 324h1v1h-1zM305 322h1v1h-1zM337 346h2v2h-2zM325 326h1v1h-1zM331 329h2v1h-2zM347 317h1v1h-1zM312 326h2v1h-2zM318 322h1v2h-1zM356 341h2v1h-2zM355 313h1v1h-1zM351 308h1v2h-1zM353 327h1v2h-1zM306 324h2v2h-2zM345 321h1v2h-1zM314 322h1v2h-1zM325 315h2v1h-2zM343 332h1v1h-1zM314 329h2v2h-2zM349 327h1v1h-1zM354 349h2v2h-2zM359 322h1v1h-1zM347 325h1v1h-1zM327 327h1v1h-1zM308 322h1v1h-1zM329 344h1v1h-1zM318 333h1v1h-1zM316 312h2v2h-2zM321 327h2v2h-2zM345 322h1v2h-1zM309 315h1v2h-1zM305 334h1v2h-1zM301 324h1v2h-1zM345 316h2v1h-2zM312 323h2v2h-2zM352 317h2v1h-2zM321 299h1v2h-1zM331 354h1v1h-1zM345 324h2v1h-2zM354 338h2v2h-2zM349 352h1v1h-1zM351 297h1v1h-1zM326 325h1v1h-1zM347 347h1v1h-1zM365 320h1v2h-1zM313 316h1v2h-1zM359 317h2v2h-2zM354 309h1v1h-1zM325 329h2v1h-2zM328 350h2v2h-2zM360 309h1v1h-1zM351 322h2v1h-2zM319 308h2v1h-2zM353 323h2v2h-2zM307 320h2v2h-2zM332 339h1v2h-1zM363 325h1v2h-1zM341 342h1v1h-1zM327 337h2v2h-2zM339 356h2v2h-2zM321 331h2v1h-2zM311 326h1v2h-1zM309 323h1v1h-1zM317 333h1v1h-1zM301 321h1v2h-1zM355 346h1v1h-1zM346 322h2v2h-2zM349 334h1v1h-1zM318 331h2v2h-2zM315 323h1v2h-1zM346 347h2v1h-2zM350 335h1v2h-1zM347 315h2v2h-2zM313 336h2v1h-2zM329 323h1v2h-1zM340 321h2v2h-2zM330 328h1v2h-1zM308 315h2v1h-2zM342 338h2v2h-2zM353 307h2v2h-2zM359 305h1v1h-1zM307 324h1v1h-1zM320 327h1v2h-1zM320 335h1v2h-1zM333 348h2v2h-2zM319 333h2v1h-2zM311 315h2v1h-2zM311 331h1v1h-1zM330 321h2v1h-2zM347 335h2v2h-2zM305 320h1v2h-1zM361 328h2v2h-2zM348 315h1v1h-1zM333 334h2v1h-2zM351 315h1v2h-1zM321 315h1v2h-1zM343 345h2v2h-2zM321 327h1v1h-1zM362 318h1v2h-1zM321 317h2v2h-2zM354 306h1v2h-1zM334 343h1v2h-1zM331 337h1v2h-1zM309 315h1v1h-1zM340 334h1v2h-1zM353 323h1v2h-1zM357 313h1v2h-1zM331 347h1v2h-1zM319 312h2v1h-2zM336 343h2v2h-2zM349 317h2v1h-2zM325 326h1v1h-1zM307 312h1v2h-1zM300 325h1v1h-1zM318 327h2v1h-2zM320 324h2v2h-2zM312 332h1v1h-1zM309 318h2v2h-2zM310 327h2v1h-2zM309 326h1v2h-1zM325 318h1v2h-1zM353 325h1v1h-1zM328 315h1v1h-1zM354 309h2v1h-2zM325 320h1v1h-1zM327 350h1v2h-1zM337 315h2v2h-2zM325 344h1v1h-1zM335 353h2v2h-2zM345 324h1v2h-1zM304 319h1v1h-1zM352 322h1v2h-1zM350 320h2v2h-2zM345 350h2v2h-2zM318 324h1v1h-1zM317 329h1v2h-1zM311 313h2v2h-2zM346 347h2v1h-2zM307 306h1v1h-1zM321 327h1v2h-1zM353 321h2v1h-2zM307 319h2v2h-2zM357 323h1v2h-1zM312 314h1v2h-1zM339 307h2v1h-2zM351 332h1v1h-1zM341 310h2v2h-2zM314 321h2v2h-2zM317 327h2v1h-2zM320 327h1v2h-1zM313 320h1v1h-1zM343 349h2v1h-2zM349 321h2v1h-2zM338 354h2v2h-2zM339 355h2v1h-2zM322 319h2v2h-2zM330 335h2v2h-2zM322 331h2v1h-2zM327 341h1v1h-1zM325 346h1v1h-1zM351 327h1v1h-1zM328 329h1v1h-1zM345 344h2v1h-2zM319 325h2v2h-2zM349 315h1v2h-1zM354 312h1v1h-1zM341 352h1v2h-1zM346 327h2v1h-2zM354 317h2v2h-2zM331 317h2v2h-2zM344 315h1v2h-1zM309 330h2v1h-2zM316 328h1v1h-1zM312 334h1v1h-1zM319 318h2v2h-2zM333 328h1v1h-1zM354 332h1v2h-1zM320 340h1v1h-1zM315 327h1v1h-1zM351 308h1v2h-1zM312 309h2v1h-2zM346 323h2v1h-2zM316 328h2v2h-2zM351 319h2v2h-2zM313 315h2v1h-2zM318 322h2v2h-2zM311 313h1v1h-1zM306 329h1v2h-1zM359 336h2v1h-2zM330 352h1v1h-1zM313 325h1v2h-1zM316 310h1v1h-1zM328 337h1v2h-1zM319 324h1v2h-1zM362 351h2v1h-2zM380 352h1v2h-1zM384 354h1v1h-1zM364 388h1v1h-1zM364 377h1v2h-1zM392 369h1v2h-1zM368 326h2v1h-2zM363 333h2v1h-2zM357 334h2v1h-2zM391 374h2v2h-2zM378 365h1v2h-1zM368 393h2v1h-2zM393 365h1v2h-1zM372 352h1v2h-1zM393 373h2v2h-2zM387 364h2v1h-2zM362 362h2v1h-2zM354 375h1v2h-1zM380 365h2v2h-2zM366 366h2v2h-2zM401 372h1v1h-1zM350 380h1v2h-1zM400 359h1v1h-1zM378 368h2v2h-2zM377 382h1v2h-1zM359 363h1v2h-1zM374 390h2v2h-2zM381 325h1v1h-1zM403 365h1v1h-1zM353 376h2v1h-2zM371 366h1v1h-1zM372 386h2v2h-2zM358 372h2v1h-2zM386 366h1v1h-1zM403 340h2v2h-2zM362 334h1v2h-1zM363 369h2v2h-2zM380 352h2v1h-2zM356 355h1v2h-1zM397 362h1v2h-1zM390 330h2v1h-2zM372 329h1v1h-1zM348 365h2v1h-2zM388 381h2v1h-2zM357 375h1v1h-1zM389 368h1v2h-1zM377 388h1v2h-1zM376 328h2v1h-2zM395 373h2v1h-2zM386 362h1v2h-1zM362 359h1v2h-1zM379 349h1v2h-1zM354 354h2v2h-2zM401 340h1v1h-1zM363 371h1v1h-1zM380 372h1v1h-1zM371 335h1v1h-1zM349 370h1v1h-1zM366 386h1v2h-1zM379 388h1v1h-1zM363 344h2v1h-2zM370 360h1v2h-1zM373 383h1v1h-1zM392 371h1v1h-1zM370 369h1v1h-1zM363 329h1v2h-1zM358 327h1v1h-1zM373 372h2v2h-2zM359 376h1v1h-1zM361 374h2v1h-2zM370 325h1v2h-1zM393 368h2v2h-2zM394 360h1v2h-1zM352 356h1v2h-1zM362 366h2v1h-2zM370 345h1v1h-1zM360 322h1v1h-1zM377 362h1v1h-1zM400 363h2v1h-2zM405 351h2v2h-2zM364 330h1v2h-1zM387 334h2v2h-2zM374 336h1v2h-1zM382 353h1v1h-1zM347 371h1v1h-1zM366 383h2v2h-2zM385 381h1v1h-1zM364 368h2v2h-2zM376 337h1v2h-1zM373 378h2v2h-2zM353 376h1v2h-1zM375 327h1v2h-1zM363 360h1v1h-1zM354 362h1v2h-1zM360 367h1v2h-1zM370 327h1v2h-1zM384 365h2v2h-2zM355 331h2v2h-2zM399 328h1v1h-1zM373 360h2v1h-2zM402 325h1v2h-1zM374 377h2v2h-2zM388 367h2v2h-2zM389 368h1v1h-1zM365 357h1v1h-1zM366 360h1v1h-1zM397 378h2v2h-2zM359 333h2v1h-2zM371 326h2v1h-2zM394 374h2v1h-2zM381 333h2v2h-2zM381 364h2v2h-2zM370 360h1v2h-1zM361 380h1v1h-1zM359 360h2v1h-2zM367 327h2v2h-2zM370 380h2v2h-2zM369 375h2v2h-2zM368 388h2v2h-2zM357 366h2v2h-2zM395 369h2v2h-2zM381 366h1v2h-1zM387 331h1v2h-1zM356 381h2v2h-2zM367 375h1v2h-1zM391 364h2v1h-2zM397 374h1v2h-1zM368 388h1v1h-1zM378 332h1v2h-1zM365 364h2v1h-2zM387 374h2v2h-2zM396 355h1v1h-1zM352 373h2v2h-2zM367 378h1v1h-1zM366 373h1v1h-1zM390 372h2v2h-2zM367 375h1v2h-1zM396 363h1v2h-1zM374 345h2v2h-2zM362 364h1v1h-1zM389 353h2v2h-2zM364 370h2v1h-2zM363 374h2v2h-2zM367 340h1v2h-1zM362 367h2v2h-2zM364 358h2v1h-2zM402 352h1v2h-1zM391 364h1v2h-1zM391 361h1v2h-1zM360 388h1v2h-1zM362 335h2v2h-2zM399 334h1v2h-1zM357 375h1v2h-1zM382 355h1v1h-1zM365 375h1v1h-1zM376 387h2v2h-2zM363 371h2v2h-2zM398 375h1v2h-1zM375 375h1v2h-1zM377 331h1v2h-1zM364 368h2v2h-2zM369 341h1v2h-1zM386 362h2v1h-2zM371 374h2v1h-2zM369 328h2v2h-2zM365 327h2v2h-2zM354 366h2v2h-2zM373 339h1v2h-1zM359 374h2v1h-2zM369 375h2v1h-2zM396 368h1v1h-1zM380 370h1v1h-1zM401 367h2v1h-2zM373 366h2v2h-2zM388 367h1v2h-1zM385 366h1v1h-1zM367 373h1v1h-1zM397 371h1v2h-1zM386 320h2v2h-2zM360 327h2v1h-2zM367 366h2v1h-2zM362 364h2v2h-2zM386 334h1v2h-1zM364 368h2v1h-2zM365 368h1v1h-1zM364 358h2v1h-2zM352 361h1v1h-1zM390 366h2v1h-2zM388 375h1v2h-1zM356 361h2v2h-2zM389 334h2v2h-2zM355 358h1v2h-1zM386 384h1v2h-1zM375 332h1v1h-1zM395 340h2v1h-2zM375 379h1v2h-1zM380 373h2v2h-2zM383 327h2v2h-2zM357 377h1v2h-1zM360 369h2v2h-2zM351 356h2v2h-2zM384 388h2v2h-2zM394 338h1v1h-1zM371 327h1v1h-1zM381 347h1v2h-1zM368 384h2v2h-2zM376 386h2v1h-2zM382 372h2v2h-2zM365 382h1v2h-1zM353 359h1v2h-1zM360 358h2v1h-2zM381 327h1v2h-1zM361 324h2v2h-2zM350 359h1v2h-1zM364 382h2v1h-2zM390 372h2v2h-2zM362 366h1v1h-1zM363 350h2v1h-2zM355 367h2v1h-2zM378 387h1v2h-1zM384 330h1v1h-1zM389 341h1v2h-1zM382 343h2v2h-2zM358 352h2v2h-2zM371 337h1v1h-1zM350 355h1v1h-1zM364 373h1v1h-1zM361 337h2v2h-2zM366 384h2v2h-2zM360 375h1v1h-1zM397 355h1v2h-1zM359 368h1v2h-1zM377 361h1v2h-1zM361 354h2v1h-2zM367 360h2v2h-2zM349 373h2v2h-2zM362 323h2v2h-2zM363 365h2v2h-2zM367 338h1v2h-1zM369 381h1v2h-1zM370 358h1v2h-1zM358 328h2v1h-2zM372 341h2v1h-2zM394 357h1v2h-1zM365 327h2v2h-2zM358 381h2v1h-2zM394 335h1v1h-1zM370 329h2v2h-2zM376 328h1v1h-1zM377 374h1v2h-1zM365 326h1v1h-1zM382 325h2v1h-2zM382 381h2v1h-2zM385 371h1v1h-1zM405 367h2v2h-2zM369 364h1v1h-1zM397 340h1v2h-1zM368 384h2v1h-2zM398 334h2v1h-2zM363 363h1v1h-1zM366 336h2v1h-2zM402 371h1v2h-1zM384 366h1v2h-1zM396 366h1v2h-1zM375 368h1v1h-1zM347 378h1v1h-1zM368 373h2v2h-2zM389 338h2v1h-2zM371 343h2v1h-2zM362 370h2v1h-2zM375 355h2v1h-2zM365 363h1v2h-1zM364 328h2v1h-2zM375 340h2v1h-2zM376 366h2v1h-2zM363 350h1v1h-1zM362 368h1v2h-1zM400 366h1v2h-1zM364 371h1v1h-1zM361 360h2v2h-2zM394 336h2v2h-2zM372 362h2v2h-2zM369 330h2v2h-2zM395 370h1v2h-1zM377 339h1v2h-1zM355 377h2v1h-2zM386 367h2v2h-2zM399 340h1v2h-1zM370 334h1v2h-1zM384 340h1v2h-1zM367 385h2v2h-2zM370 337h2v2h-2zM372 367h2v1h-2zM393 378h2v1h-2zM361 356h2v2h-2zM375 338h1v1h-1zM376 335h1v2h-1zM394 369h1v2h-1zM364 327h2v2h-2zM362 377h1v2h-1zM367 337h2v1h-2zM385 329h1v1h-1zM405 367h2v1h-2zM372 334h1v1h-1zM366 387h1v2h-1zM393 377h2v2h-2zM362 382h2v2h-2zM395 361h2v1h-2zM373 373h2v1h-2zM396 370h1v2h-1zM369 370h2v1h-2zM358 371h1v2h-1zM360 361h1v1h-1zM361 365h2v1h-2zM371 330h2v1h-2zM387 382h1v1h-1zM372 386h1v1h-1zM371 333h1v1h-1zM379 322h1v2h-1zM391 341h2v2h-2zM375 332h1v2h-1zM387 335h1v2h-1zM373 331h1v2h-1zM385 375h1v2h-1zM382 364h2v2h-2zM359 357h2v2h-2zM369 379h2v2h-2zM366 370h1v2h-1zM360 362h2v1h-2zM364 357h1v1h-1zM395 363h2v1h-2zM366 366h1v1h-1zM380 368h1v2h-1zM376 371h1v2h-1zM365 359h1v1h-1zM397 360h2v2h-2zM395 375h1v1h-1zM369 373h1v2h-1zM363 331h2v1h-2zM367 333h1v1h-1zM382 374h2v2h-2zM351 376h2v1h-2zM377 335h1v2h-1zM356 372h1v2h-1zM378 358h1v1h-1zM367 367h2v1h-2zM400 364h2v1h-2zM371 374h2v1h-2zM377 325h1v2h-1zM384 359h2v2h-2zM381 340h2v1h-2zM356 369h2v2h-2zM365 377h2v2h-2zM366 377h2v1h-2zM393 376h2v2h-2zM374 384h1v1h-1zM391 372h1v2h-1zM379 367h2v2h-2zM361 388h1v1h-1zM386 334h2v2h-2zM396 376h2v1h-2zM357 358h2v1h-2zM383 364h2v2h-2zM378 325h2v2h-2zM358 370h1v1h-1zM367 341h1v2h-1zM369 340h2v2h-2zM371 349h2v2h-2zM373 369h2v1h-2zM362 365h1v2h-1zM396 370h2v2h-2zM400 352h1v2h-1zM369 373h1v2h-1zM368 381h2v1h-2zM353 358h2v1h-2zM354 358h2v2h-2zM356 373h1v2h-1zM378 324h1v1h-1zM358 327h1v2h-1zM365 329h2v2h-2zM365 374h1v2h-1zM354 366h1v2h-1zM365 369h2v1h-2zM368 325h2v1h-2zM371 358h2v2h-2zM394 366h1v1h-1zM390 358h1v2h-1zM386 320h2v2h-2zM390 365h2v1h-2zM380 328h2v2h-2zM359 359h1v2h-1zM373 388h1v2h-1zM394 371h1v2h-1zM366 329h1v1h-1zM397 340h2v2h-2zM352 373h1v1h-1zM390 345h2v1h-2zM365 362h2v1h-2zM367 368h2v1h-2zM366 372h1v2h-1zM357 360h2v2h-2zM380 380h1v2h-1zM368 325h2v2h-2zM353 387h2v2h-2zM384 374h1v1h-1zM390 356h2v2h-2zM348 372h2v1h-2zM378 330h1v1h-1zM355 360h1v1h-1zM384 314h1v2h-1zM356 360h1v2h-1zM393 363h2v2h-2zM392 342h2v2h-2zM389 381h2v1h-2zM371 330h1v1h-1zM376 383h2v1h-2zM386 358h2v2h-2zM380 367h2v1h-2zM393 339h2v1h-2zM394 368h2v1h-2zM395 364h2v2h-2zM365 373h2v2h-2zM381 378h2v1h-2zM357 335h1v2h-1zM358 374h2v1h-2zM374 359h2v2h-2zM374 330h1v2h-1zM376 338h2v2h-2zM356 367h1v1h-1zM360 375h2v2h-2zM394 377h1v2h-1zM375 372h2v2h-2zM367 368h2v1h-2zM367 380h1v2h-1zM383 342h1v1h-1zM363 372h1v2h-1zM388 367h1v1h-1zM367 378h1v2h-1zM357 358h1v2h-1zM360 371h2v1h-2zM364 339h2v2h-2zM357 321h1v2h-1zM395 372h1v1h-1zM385 360h2v1h-2zM390 378h1v1h-1zM402 362h2v1h-2zM402 365h1v1h-1zM369 328h2v2h-2zM387 383h1v2h-1zM368 389h1v1h-1zM397 363h1v1h-1zM377 339h2v1h-2zM384 364h2v1h-2zM373 381h2v2h-2zM396 344h1v1h-1zM357 369h2v1h-2zM362 355h2v2h-2zM399 330h2v1h-2zM383 336h2v2h-2zM384 331h1v1h-1zM401 370h1v2h-1zM360 365h2v1h-2zM358 370h2v1h-2zM356 368h2v2h-2zM380 376h1v1h-1zM384 328h2v2h-2zM405 359h2v1h-2zM388 362h2v2h-2zM366 387h2v1h-2zM383 335h1v2h-1zM354 379h2v2h-2zM376 335h1v2h-1zM364 366h2v2h-2zM383 330h1v1h-1zM387 364h2v1h-2zM383 359h2v2h-2zM398 366h2v2h-2zM360 362h2v1h-2zM375 378h1v1h-1zM387 334h1v1h-1zM360 369h1v2h-1zM353 368h1v2h-1zM389 335h2v2h-2zM403 361h1v1h-1zM387 342h2v2h-2zM374 330h2v2h-2zM388 355h1v1h-1zM380 341h1v2h-1zM370 371h1v1h-1zM352 366h2v1h-2zM391 362h1v2h-1zM371 330h1v1h-1zM386 338h2v1h-2zM384 345h2v2h-2zM385 328h2v1h-2zM393 360h2v1h-2zM395 371h2v2h-2zM376 383h1v2h-1zM358 370h2v1h-2zM365 366h2v1h-2zM392 332h2v1h-2zM392 360h2v1h-2zM380 366h1v1h-1zM370 337h2v1h-2zM369 377h1v1h-1zM359 362h2v1h-2zM386 343h1v2h-1zM385 362h2v2h-2zM350 360h2v2h-2zM394 369h2v1h-2zM398 367h2v2h-2zM352 368h1v1h-1zM382 329h2v1h-2zM365 365h2v2h-2zM387 366h1v2h-1zM368 386h2v2h-2zM371 342h2v2h-2zM385 325h2v1h-2zM356 374h1v1h-1zM350 327h2v2h-2zM391 413h2v2h-2zM354 421h2v1h-2zM353 421h1v1h-1zM357 411h2v2h-2zM364 408h1v2h-1zM371 418h2v1h-2zM381 375h1v1h-1zM348 426h1v1h-1zM358 407h1v2h-1zM363 420h1v1h-1zM385 419h1v1h-1zM385 392h1v2h-1zM363 405h2v2h-2zM352 398h2v1h-2zM390 390h2v2h-2zM402 420h1v2h-1zM388 385h2v1h-2zM386 382h1v2h-1zM397 401h1v1h-1zM387 388h1v1h-1zM399 416h1v2h-1zM393 429h2v1h-2zM351 422h1v2h-1zM355 412h2v2h-2zM373 415h2v1h-2zM374 426h1v2h-1zM363 408h2v2h-2zM364 417h2v2h-2zM356 392h2v2h-2zM358 416h1v2h-1zM388 398h1v1h-1zM353 408h1v1h-1zM359 414h2v1h-2zM365 408h1v1h-1zM360 425h2v2h-2zM399 383h1v1h-1zM386 398h1v2h-1zM370 397h2v2h-2zM384 404h1v2h-1zM359 420h2v2h-2zM368 406h1v1h-1zM391 416h2v2h-2zM375 420h1v1h-1zM362 408h2v1h-2zM387 419h2v1h-2zM381 413h2v2h-2zM378 420h1v2h-1zM368 423h2v2h-2zM384 397h2v2h-2zM353 406h1v2h-1zM365 403h2v2h-2zM387 382h2v2h-2zM395 414h2v2h-2zM387 390h2v1h-2zM359 415h1v2h-1zM365 421h1v1h-1zM364 413h1v2h-1zM379 420h2v1h-2zM389 398h1v1h-1zM385 418h2v2h-2zM369 414h1v1h-1zM360 411h1v1h-1zM362 423h1v1h-1zM381 388h2v2h-2zM387 421h2v2h-2zM367 411h1v2h-1zM353 402h2v2h-2zM388 406h1v1h-1zM355 400h1v2h-1zM385 388h2v2h-2zM376 393h2v2h-2zM371 418h2v2h-2zM383 396h1v2h-1zM363 415h2v2h-2zM386 396h2v2h-2zM384 414h2v1h-2zM400 428h2v2h-2zM360 412h1v2h-1zM349 411h2v1h-2zM350 390h1v2h-1zM356 400h1v1h-1zM381 389h1v2h-1zM393 413h2v2h-2zM375 415h2v1h-2zM351 405h2v1h-2zM384 398h1v1h-1zM365 417h2v1h-2zM389 402h2v2h-2zM371 412h1v2h-1zM380 400h1v1h-1zM393 395h1v1h-1zM385 384h1v1h-1zM390 418h2v1h-2zM391 399h2v1h-2zM390 418h1v2h-1zM385 420h2v2h-2zM364 417h2v2h-2zM379 429h2v1h-2zM356 417h2v1h-2zM389 395h1v1h-1zM352 393h1v2h-1zM381 413h2v2h-2zM392 388h1v2h-1zM390 425h2v2h-2zM378 420h2v1h-2zM375 414h2v2h-2zM352 408h1v2h-1zM356 404h2v1h-2zM378 421h1v1h-1zM361 398h1v2h-1zM365 407h1v1h-1zM364 412h1v2h-1zM358 407h2v1h-2zM375 391h1v1h-1zM391 414h2v2h-2zM362 402h2v2h-2zM387 414h2v1h-2zM383 416h2v1h-2zM386 410h1v1h-1zM398 414h2v1h-2zM362 399h2v1h-2zM365 418h1v1h-1zM386 415h1v1h-1zM378 400h2v1h-2zM365 412h1v1h-1zM360 401h1v1h-1zM359 411h2v2h-2zM362 408h1v2h-1zM354 409h2v2h-2zM356 415h2v2h-2zM354 387h1v1h-1zM402 415h1v1h-1zM353 421h2v1h-2zM383 416h2v2h-2zM382 397h2v1h-2zM361 412h2v1h-2zM395 419h2v2h-2zM374 427h2v2h-2zM368 416h2v2h-2zM368 428h1v2h-1zM372 420h1v2h-1zM391 415h1v2h-1zM390 413h1v2h-1zM374 409h2v1h-2zM381 427h1v1h-1zM372 410h2v1h-2zM392 412h1v2h-1zM367 423h1v2h-1zM378 418h1v2h-1zM372 428h2v1h-2zM362 401h2v2h-2zM350 394h1v1h-1zM361 412h1v2h-1zM382 419h2v2h-2zM354 414h2v1h-2zM372 417h1v2h-1zM386 412h2v2h-2zM362 423h2v1h-2zM366 413h1v2h-1zM376 419h2v1h-2zM393 313h1v1h-1zM389 320h1v2h-1zM397 314h1v2h-1zM395 302h1v1h-1zM381 313h1v1h-1zM395 330h1v1h-1zM398 306h2v1h-2zM384 316h1v2h-1zM396 320h1v1h-1zM395 335h1v1h-1zM395 322h2v1h-2zM386 319h1v1h-1zM397 324h1v1h-1zM397 305h1v1h-1zM397 311h1v1h-1zM395 322h2v1h-2zM394 318h1v1h-1zM375 305h1v1h-1zM386 305h1v1h-1zM394 329h1v1h-1zM393 322h2v1h-2zM396 321h1v2h-1zM395 325h2v1h-2zM389 303h1v2h-1zM398 344h1v2h-1zM388 313h1v1h-1zM390 320h2v1h-2zM390 319h2v1h-2zM386 318h1v1h-1zM393 325h2v1h-2zM388 314h1v2h-1zM393 327h2v1h-2zM375 305h1v1h-1zM388 321h1v1h-1zM377 305h1v1h-1zM397 308h1v1h-1zM390 319h1v2h-1zM399 337h1v1h-1zM377 305h1v1h-1zM389 310h1v1h-1zM398 328h1v1h-1zM398 323h1v1h-1zM395 313h1v1h-1zM398 316h2v1h-2zM391 301h1v1h-1zM390 308h2v1h-2zM392 325h1v2h-1zM384 308h1v1h-1zM386 314h1v1h-1zM389 303h1v1h-1zM380 310h1v1h-1zM376 304h1v1h-1zM383 311h1v1h-1zM386 303h1v2h-1zM398 323h1v1h-1zM383 304h1v1h-1zM398 316h2v1h-2zM390 316h1v1h-1zM399 335h1v2h-1zM389 301h1v2h-1zM396 316h2v1h-2zM377 308h1v1h-1zM389 304h1v1h-1zM383 315h1v1h-1zM387 317h1v1h-1zM396 307h2v1h-2zM392 327h1v1h-1zM383 313h1v1h-1zM394 300h1v1h-1zM395 314h1v2h-1zM382 310h1v1h-1zM394 323h1v1h-1zM388 307h1v1h-1zM386 314h2v1h-2zM392 303h1v2h-1zM396 335h1v2h-1zM380 307h1v2h-1zM396 333h1v1h-1zM383 310h1v1h-1zM396 312h1v1h-1zM390 324h1v2h-1zM396 300h1v1h-1zM396 308h1v1h-1zM398 315h1v1h-1zM391 323h1v1h-1zM397 317h1v1h-1zM384 313h1v1h-1zM383 308h1v2h-1zM385 314h2v1h-2zM398 324h2v1h-2zM425 401h1v1h-1zM437 383h1v2h-1zM440 410h2v2h-2zM441 385h2v1h-2zM437 399h1v1h-1zM430 391h1v1h-1zM408 376h2v1h-2zM439 397h2v2h-2zM404 375h2v1h-2zM439 404h2v2h-2zM395 373h2v2h-2zM445 424h2v2h-2zM442 423h2v2h-2zM431 387h1v2h-1zM426 388h1v1h-1zM416 383h1v1h-1zM405 384h2v2h-2zM446 417h1v2h-1zM436 396h1v2h-1zM408 378h2v2h-2zM441 383h2v1h-2zM444 399h2v1h-2zM429 398h1v1h-1zM431 394h2v1h-2zM422 400h1v2h-1zM432 396h1v2h-1zM432 388h1v2h-1zM438 424h1v1h-1zM414 397h1v2h-1zM438 398h2v1h-2zM439 388h2v1h-2zM431 388h1v1h-1zM428 394h1v1h-1zM411 384h1v2h-1zM434 387h1v2h-1zM436 412h2v2h-2zM441 389h1v2h-1zM434 392h2v2h-2zM431 378h2v1h-2zM443 387h1v2h-1zM438 418h2v1h-2zM438 404h2v2h-2zM423 373h2v1h-2zM424 393h1v1h-1zM444 383h1v2h-1zM444 421h2v2h-2zM443 403h1v2h-1zM429 385h2v1h-2zM431 386h2v1h-2zM432 422h2v2h-2zM404 385h2v1h-2zM424 387h2v2h-2zM449 423h1v2h-1zM446 402h1v1h-1zM449 418h2v1h-2zM417 390h2v1h-2zM443 410h1v1h-1zM430 403h1v1h-1zM426 388h1v1h-1zM436 385h1v2h-1zM438 391h2v1h-2zM442 382h2v2h-2zM399 388h1v1h-1zM441 388h2v1h-2zM430 391h2v1h-2zM421 392h1v2h-1zM443 416h1v2h-1zM428 384h2v2h-2zM431 406h1v2h-1zM450 418h1v1h-1zM424 405h2v1h-2zM438 385h1v2h-1zM444 402h2v2h-2zM450 418h2v1h-2zM411 369h2v1h-2zM446 418h2v1h-2zM441 383h2v2h-2zM435 392h1v2h-1zM425 387h1v1h-1zM420 392h1v1h-1zM440 432h1v1h-1zM426 384h2v1h-2zM438 409h2v2h-2zM433 383h2v1h-2zM438 395h2v1h-2zM432 395h2v2h-2zM430 394h1v1h-1zM423 380h2v1h-2zM440 422h2v1h-2zM438 386h2v2h-2zM441 411h2v1h-2zM412 385h1v1h-1zM431 382h2v2h-2zM412 379h2v1h-2zM433 398h1v2h-1zM403 375h1v2h-1zM436 396h2v2h-2zM418 374h2v2h-2zM450 404h1v1h-1zM445 407h2v1h-2zM418 382h1v2h-1zM444 414h2v2h-2zM439 408h2v1h-2zM424 396h2v2h-2zM417 379h1v1h-1zM446 402h1v2h-1zM450 424h2v1h-2zM434 414h1v2h-1zM436 398h1v1h-1zM435 388h1v2h-1zM432 405h1v1h-1zM407 384h2v2h-2zM448 410h1v1h-1zM419 399h1v2h-1zM441 389h1v2h-1zM427 401h1v2h-1zM414 380h1v2h-1zM412 371h1v1h-1zM423 407h1v1h-1zM448 416h2v2h-2zM437 384h1v1h-1zM427 391h1v1h-1zM435 419h2v2h-2zM424 387h1v2h-1zM439 403h2v1h-2zM451 398h2v1h-2zM432 413h1v2h-1zM436 417h2v2h-2zM420 380h1v2h-1zM429 385h1v1h-1zM424 375h2v2h-2zM449 404h2v1h-2zM440 394h2v1h-2zM426 386h2v2h-2zM452 405h1v2h-1zM398 390h2v1h-2zM403 375h2v2h-2zM442 418h2v1h-2zM433 394h1v1h-1zM436 395h2v1h-2zM431 385h2v1h-2zM430 408h2v2h-2zM442 383h2v2h-2zM423 398h2v1h-2zM437 388h2v1h-2zM428 402h1v1h-1zM451 396h2v2h-2zM425 400h2v2h-2zM427 389h1v2h-1zM444 419h1v2h-1zM401 369h2v1h-2zM411 382h2v1h-2zM413 382h1v2h-1zM437 411h1v2h-1zM444 402h1v2h-1zM446 426h1v2h-1zM428 395h1v2h-1zM450 405h1v2h-1zM446 391h1v2h-1zM430 393h1v2h-1zM450 422h2v1h-2zM448 409h1v2h-1zM435 389h1v1h-1zM442 386h2v1h-2zM416 376h1v2h-1zM444 402h1v1h-1zM415 381h1v1h-1zM408 376h2v2h-2zM418 402h2v1h-2zM434 412h2v2h-2zM449 389h2v2h-2zM415 380h2v2h-2zM403 384h2v1h-2zM424 401h1v1h-1zM417 398h1v1h-1zM449 419h1v2h-1zM436 383h1v2h-1zM435 396h2v1h-2zM429 402h2v2h-2zM411 385h2v1h-2zM436 385h1v2h-1zM453 418h1v2h-1zM436 418h2v2h-2zM435 388h1v1h-1zM439 404h1v2h-1zM428 408h1v2h-1zM406 376h2v1h-2zM415 379h2v2h-2zM424 382h2v1h-2zM439 384h1v2h-1zM436 388h2v2h-2zM443 384h1v1h-1zM431 385h2v1h-2zM436 382h1v1h-1zM417 384h1v1h-1zM427 402h1v2h-1zM428 403h2v1h-2zM443 410h2v1h-2zM432 396h1v2h-1zM415 391h1v2h-1zM432 387h2v2h-2zM429 382h2v2h-2zM412 378h2v1h-2zM433 388h1v1h-1zM408 371h1v1h-1zM435 400h1v2h-1zM433 407h2v2h-2zM433 386h2v1h-2zM415 395h1v2h-1zM420 388h1v1h-1zM428 386h2v1h-2zM407 385h2v1h-2zM426 409h2v1h-2zM425 395h1v2h-1zM412 381h2v1h-2zM437 381h1v1h-1zM418 377h1v1h-1zM412 383h1v1h-1zM443 385h1v1h-1zM443 417h2v1h-2zM434 396h2v2h-2zM441 410h1v2h-1zM444 376h1v2h-1zM428 375h1v2h-1zM430 386h2v2h-2zM419 392h2v1h-2zM421 401h2v1h-2zM420 405h1v2h-1zM402 378h1v2h-1zM433 411h1v2h-1zM444 403h1v1h-1zM412 372h2v1h-2zM427 402h1v1h-1zM441 416h2v2h-2zM443 395h2v2h-2zM422 380h1v1h-1zM436 407h2v1h-2zM429 413h2v2h-2zM442 384h1v1h-1zM450 407h2v1h-2zM423 396h2v2h-2zM431 384h2v1h-2zM435 392h2v2h-2zM439 396h2v2h-2zM426 387h1v1h-1zM413 378h1v2h-1zM444 405h2v2h-2zM430 394h2v2h-2zM445 398h2v1h-2zM427 393h2v2h-2zM409 368h1v2h-1zM443 385h1v1h-1zM426 395h2v1h-2zM438 400h2v1h-2zM437 403h2v1h-2zM450 402h2v2h-2zM439 401h2v2h-2zM440 379h1v2h-1zM434 387h2v2h-2zM424 388h1v1h-1zM430 409h2v2h-2zM407 372h2v2h-2zM418 393h1v1h-1zM402 379h1v2h-1zM446 423h2v1h-2zM432 385h1v2h-1zM441 394h2v2h-2zM435 391h2v2h-2zM411 376h1v1h-1zM437 381h1v2h-1zM434 398h2v2h-2zM444 398h1v2h-1zM410 373h1v2h-1zM426 390h1v2h-1zM450 398h2v2h-2zM435 388h1v1h-1zM436 412h1v1h-1zM432 385h1v2h-1zM439 394h1v2h-1zM449 397h1v1h-1zM451 396h1v1h-1zM411 395h2v1h-2zM424 394h1v1h-1zM440 407h2v2h-2zM436 387h2v1h-2zM434 399h1v1h-1zM419 391h2v2h-2zM454 418h2v1h-2zM418 397h2v1h-2zM437 391h2v1h-2zM440 386h2v1h-2zM428 383h2v1h-2zM444 418h1v2h-1zM440 392h1v2h-1zM437 397h1v1h-1zM415 382h2v1h-2zM433 390h2v1h-2zM424 401h1v2h-1zM439 406h2v2h-2zM408 373h2v2h-2zM440 390h1v2h-1zM427 388h1v1h-1zM434 396h1v2h-1zM408 381h2v1h-2zM439 424h1v2h-1zM428 401h2v1h-2zM435 397h1v2h-1zM443 391h2v2h-2zM435 409h2v1h-2zM433 380h2v1h-2zM438 410h1v2h-1zM445 396h1v2h-1zM443 421h2v2h-2zM448 389h1v1h-1zM442 401h1v2h-1zM431 391h2v1h-2zM429 400h1v1h-1zM405 387h1v2h-1zM446 407h2v2h-2zM405 377h2v1h-2zM423 389h2v1h-2zM418 391h2v1h-2zM439 397h1v1h-1zM424 376h1v1h-1zM428 378h2v2h-2zM439 410h2v1h-2zM433 407h1v1h-1zM422 389h1v2h-1zM418 377h1v2h-1zM427 391h2v1h-2zM424 393h2v1h-2zM423 388h2v2h-2zM411 386h1v2h-1zM431 393h2v2h-2zM408 373h1v2h-1zM437 394h2v2h-2zM435 387h2v2h-2zM427 389h2v1h-2zM439 391h1v2h-1zM447 418h1v2h-1zM439 391h1v1h-1zM437 386h2v2h-2zM435 396h1v1h-1zM439 405h1v1h-1zM440 404h1v1h-1zM444 397h2v2h-2zM437 422h2v2h-2zM424 378h2v1h-2zM433 383h1v2h-1zM442 399h1v2h-1zM435 403h2v1h-2zM418 383h2v2h-2zM418 392h1v1h-1zM432 391h2v2h-2zM416 381h1v2h-1zM445 399h1v1h-1zM438 401h1v1h-1zM425 378h1v2h-1zM449 398h1v2h-1zM441 384h1v2h-1zM442 398h2v2h-2zM413 374h1v1h-1zM416 387h2v2h-2zM436 405h1v1h-1zM436 401h2v2h-2zM437 420h1v1h-1zM445 428h1v2h-1zM433 416h2v1h-2zM424 394h1v1h-1zM423 388h2v2h-2zM443 411h2v2h-2zM441 414h2v1h-2zM431 398h2v2h-2zM438 396h2v2h-2zM449 396h1v1h-1zM433 386h2v1h-2zM422 395h1v2h-1zM438 400h2v2h-2zM411 376h1v1h-1zM442 388h2v2h-2zM445 417h2v2h-2zM436 396h1v1h-1zM440 390h1v1h-1zM407 380h2v1h-2zM445 410h2v2h-2zM437 413h2v2h-2zM404 376h2v2h-2zM398 372h2v2h-2zM422 405h2v2h-2zM418 384h1v2h-1zM430 396h2v2h-2zM398 390h1v2h-1zM425 385h2v1h-2zM441 415h1v1h-1zM443 424h2v2h-2zM447 393h2v2h-2zM419 409h2v2h-2zM426 402h2v2h-2zM444 426h1v2h-1zM439 403h1v2h-1zM409 377h2v2h-2zM427 371h2v2h-2zM442 420h1v2h-1zM455 397h2v2h-2zM445 405h1v2h-1zM433 411h2v2h-2zM438 397h1v2h-1zM412 385h1v1h-1zM433 393h1v2h-1zM438 383h2v2h-2zM415 392h2v2h-2zM422 394h2v2h-2zM410 379h2v1h-2zM445 423h2v1h-2zM422 386h2v2h-2zM408 379h2v2h-2zM438 384h2v2h-2zM420 392h2v2h-2zM428 389h2v2h-2zM426 395h1v1h-1zM409 445h2v1h-2zM424 421h2v2h-2zM403 452h1v2h-1zM418 437h2v2h-2zM441 439h2v2h-2zM470 441h1v1h-1zM458 445h1v2h-1zM444 453h1v1h-1zM415 440h1v2h-1zM444 461h1v1h-1zM428 433h2v2h-2zM445 443h2v1h-2zM441 440h2v1h-2zM436 438h1v2h-1zM430 427h2v2h-2zM420 446h2v2h-2zM427 453h2v1h-2zM411 449h1v1h-1zM452 442h1v2h-1zM410 447h1v2h-1zM420 466h1v2h-1zM438 447h1v2h-1zM440 449h1v1h-1zM432 460h1v2h-1zM432 446h1v1h-1zM474 450h1v1h-1zM427 442h2v1h-2zM475 446h1v1h-1zM440 429h1v2h-1zM445 434h2v1h-2zM433 451h1v1h-1zM426 434h2v2h-2zM415 445h1v2h-1zM445 461h1v1h-1zM453 443h1v1h-1zM410 436h1v2h-1zM416 441h2v1h-2zM418 447h2v2h-2zM458 435h2v2h-2zM424 433h1v1h-1zM432 429h1v1h-1zM471 461h1v1h-1zM470 460h1v2h-1zM432 447h2v2h-2zM436 476h2v1h-2zM434 421h2v1h-2zM430 447h2v2h-2zM451 447h1v1h-1zM457 444h1v2h-1zM430 436h1v1h-1zM440 440h2v2h-2zM424 440h1v2h-1zM424 426h1v2h-1zM470 461h1v2h-1zM398 449h2v2h-2zM418 440h2v1h-2zM421 460h1v1h-1zM420 452h1v2h-1zM439 419h2v1h-2zM419 443h1v1h-1zM438 463h2v1h-2zM431 439h1v2h-1zM441 430h1v2h-1zM411 454h2v1h-2zM466 457h1v2h-1zM423 459h1v1h-1zM436 423h2v1h-2zM478 446h2v2h-2zM434 443h2v2h-2zM426 439h1v1h-1zM427 427h1v2h-1zM444 452h1v2h-1zM436 443h1v2h-1zM471 453h2v2h-2zM429 447h1v2h-1zM419 428h1v1h-1zM437 416h1v1h-1zM436 429h1v2h-1zM441 449h2v1h-2zM409 458h2v1h-2zM443 453h2v1h-2zM432 426h1v1h-1zM458 456h2v1h-2zM421 432h1v1h-1zM440 429h1v1h-1zM443 447h1v2h-1zM435 450h2v2h-2zM406 455h1v1h-1zM433 449h1v2h-1zM459 446h2v2h-2zM429 454h2v1h-2zM464 453h2v1h-2zM438 436h1v1h-1zM436 433h2v1h-2zM443 437h2v1h-2zM432 437h1v2h-1zM441 449h1v1h-1zM445 443h2v1h-2zM425 443h2v2h-2zM467 452h1v1h-1zM426 432h2v2h-2zM436 456h1v1h-1zM430 433h2v2h-2zM438 450h2v1h-2zM456 438h1v1h-1zM407 449h1v1h-1zM432 440h1v2h-1zM428 427h1v1h-1zM433 450h2v1h-2zM435 438h1v1h-1zM423 450h1v2h-1zM408 441h1v2h-1zM437 463h1v2h-1zM438 450h2v1h-2zM448 455h2v2h-2zM429 423h1v2h-1zM456 435h1v2h-1zM405 450h1v2h-1zM455 432h2v2h-2zM419 427h1v1h-1zM429 455h2v2h-2zM450 453h1v2h-1zM417 438h2v2h-2zM458 440h1v1h-1zM422 450h2v2h-2zM431 439h2v1h-2zM436 463h2v2h-2zM426 462h1v1h-1zM441 445h1v2h-1zM422 442h2v2h-2zM465 451h2v1h-2zM427 433h1v1h-1zM430 459h2v1h-2zM433 453h2v1h-2zM435 434h1v1h-1zM428 467h2v1h-2zM432 444h1v1h-1zM450 447h1v2h-1zM450 443h2v1h-2zM442 456h1v1h-1zM427 424h2v1h-2zM448 449h2v1h-2zM413 451h1v1h-1zM443 457h1v2h-1zM441 436h1v1h-1zM432 420h1v2h-1zM435 447h1v1h-1zM430 459h2v1h-2zM435 441h1v1h-1zM441 463h2v1h-2zM423 445h1v1h-1zM438 450h1v2h-1zM419 446h2v1h-2zM472 454h1v1h-1zM420 428h1v1h-1zM435 447h1v2h-1zM462 434h1v1h-1zM435 453h1v1h-1zM450 432h2v1h-2zM459 443h1v1h-1zM424 460h2v2h-2zM448 438h1v1h-1zM416 453h1v1h-1zM433 429h1v2h-1zM433 453h1v2h-1zM425 430h1v2h-1zM428 460h2v1h-2zM407 453h2v1h-2zM444 438h2v2h-2zM447 453h1v1h-1zM454 444h2v1h-2zM449 441h1v1h-1zM403 457h1v2h-1zM444 450h2v1h-2zM412 454h1v2h-1zM415 461h1v2h-1zM432 446h2v2h-2zM424 461h1v2h-1zM452 455h1v1h-1zM431 441h2v2h-2zM442 446h2v1h-2zM462 453h1v1h-1zM410 450h2v2h-2zM441 438h1v1h-1zM425 457h1v2h-1zM425 448h1v1h-1zM432 459h1v1h-1zM456 431h1v2h-1zM453 449h2v1h-2zM424 440h2v1h-2zM449 436h1v1h-1zM403 455h2v2h-2zM427 444h1v1h-1zM469 444h1v2h-1zM434 455h1v1h-1zM435 437h1v2h-1zM407 441h2v1h-2zM426 443h1v1h-1zM446 436h2v1h-2zM441 438h1v2h-1zM469 461h2v1h-2zM472 439h2v1h-2zM411 435h2v1h-2zM428 449h1v2h-1zM438 437h1v1h-1zM431 423h1v2h-1zM454 454h1v2h-1zM446 442h1v2h-1zM435 430h1v2h-1zM434 441h1v2h-1zM457 441h1v2h-1zM449 435h1v1h-1zM406 455h2v1h-2zM455 435h2v1h-2zM421 444h1v2h-1zM450 444h1v2h-1zM436 421h1v1h-1zM422 434h1v2h-1zM449 451h1v1h-1zM473 451h2v2h-2zM454 438h1v2h-1zM438 442h1v2h-1zM455 433h2v2h-2zM434 417h1v1h-1zM441 448h1v1h-1zM453 432h2v1h-2zM454 453h1v2h-1zM439 425h2v2h-2zM434 440h2v2h-2zM399 458h2v1h-2zM452 446h2v1h-2zM431 426h2v1h-2zM431 447h1v2h-1zM439 448h2v2h-2zM432 440h2v2h-2zM446 437h1v1h-1zM433 435h1v1h-1zM455 437h2v2h-2zM397 450h1v2h-1zM409 448h1v2h-1zM431 420h1v2h-1zM429 423h1v2h-1zM402 452h2v1h-2zM394 454h1v1h-1zM430 442h2v2h-2zM397 458h1v1h-1zM464 460h1v2h-1zM430 454h2v1h-2zM426 444h2v2h-2zM431 418h1v2h-1zM443 445h1v1h-1zM423 447h2v2h-2zM471 453h1v2h-1zM433 444h2v2h-2zM431 442h1v1h-1zM455 435h2v1h-2zM462 438h1v2h-1zM429 462h2v1h-2zM425 448h1v2h-1zM464 446h1v2h-1zM439 444h1v2h-1zM437 438h1v2h-1zM433 450h2v1h-2zM431 424h2v2h-2zM471 453h2v2h-2zM409 453h2v2h-2zM420 444h2v1h-2zM431 418h2v2h-2zM420 439h1v2h-1zM421 431h2v1h-2zM450 435h1v1h-1zM416 444h2v1h-2zM432 453h2v1h-2zM472 458h2v2h-2zM436 434h2v1h-2zM431 443h2v2h-2zM441 440h2v1h-2zM436 446h2v1h-2zM414 447h1v2h-1zM428 446h1v1h-1zM431 427h2v1h-2zM405 449h2v1h-2zM435 455h1v2h-1zM423 440h2v2h-2zM462 443h2v1h-2zM418 445h2v2h-2zM439 445h1v1h-1zM431 430h1v1h-1zM458 438h2v2h-2zM439 425h1v2h-1zM432 425h1v2h-1zM451 462h2v1h-2zM424 420h2v1h-2zM449 442h1v1h-1zM421 440h1v1h-1zM427 427h2v1h-2zM441 439h1v1h-1zM447 456h2v2h-2zM403 447h2v1h-2zM427 451h1v2h-1zM427 427h2v2h-2zM417 444h2v1h-2zM442 433h1v1h-1zM432 435h1v1h-1zM424 451h2v2h-2zM445 441h1v1h-1zM438 460h2v2h-2zM438 449h2v1h-2zM430 460h1v1h-1zM440 452h2v2h-2zM420 433h2v2h-2zM465 437h1v2h-1zM423 442h2v2h-2zM425 462h1v2h-1zM457 441h1v1h-1zM430 464h2v2h-2zM425 471h2v2h-2zM406 454h1v1h-1zM416 447h1v2h-1zM467 444h2v2h-2zM449 436h1v2h-1zM417 429h1v1h-1zM413 456h2v2h-2zM408 449h2v1h-2zM427 431h1v2h-1zM466 457h2v1h-2zM451 448h2v1h-2zM441 445h1v1h-1zM432 450h2v1h-2zM421 453h2v2h-2zM375 473h1v1h-1zM425 477h1v1h-1zM450 436h1v1h-1zM426 464h1v1h-1zM449 476h1v1h-1zM427 477h1v2h-1zM337 443h1v2h-1zM367 472h1v1h-1zM331 433h1v1h-1zM320 442h1v2h-1zM432 433h1v1h-1zM318 466h2v1h-2zM336 460h1v2h-1zM373 455h1v1h-1zM342 468h2v1h-2zM443 481h1v1h-1zM425 452h1v1h-1zM386 460h1v2h-1zM319 430h1v2h-1zM462 459h2v1h-2zM322 423h1v1h-1zM441 480h1v2h-1zM420 447h2v1h-2zM420 480h2v1h-2zM353 465h1v1h-1zM390 477h1v1h-1zM455 453h2v1h-2zM402 439h1v1h-1zM400 463h2v1h-2zM415 470h1v1h-1zM453 438h1v1h-1zM415 477h1v1h-1zM397 452h1v2h-1zM309 447h1v1h-1zM341 436h1v1h-1zM381 435h1v2h-1zM334 451h2v1h-2zM342 455h1v1h-1zM425 434h1v1h-1zM440 454h1v1h-1zM421 468h1v1h-1zM458 447h1v1h-1zM457 452h1v1h-1zM452 470h1v2h-1zM371 427h2v1h-2zM372 457h2v1h-2zM396 436h1v2h-1zM458 461h1v1h-1zM420 468h1v2h-1zM325 468h1v1h-1zM357 443h1v1h-1zM317 434h2v1h-2zM344 425h1v1h-1zM408 437h1v1h-1zM414 461h2v1h-2zM423 475h1v2h-1zM325 432h1v1h-1zM322 429h1v2h-1zM442 477h1v1h-1zM442 432h1v1h-1zM456 479h1v2h-1zM364 456h1v1h-1zM399 434h1v1h-1zM312 437h1v1h-1zM414 436h1v1h-1zM437 439h1v1h-1zM418 469h1v1h-1zM399 448h1v1h-1zM419 455h2v1h-2zM460 456h1v1h-1zM313 463h1v1h-1zM433 477h1v2h-1zM319 432h2v1h-2zM394 430h1v2h-1zM392 456h1v2h-1zM458 460h1v2h-1zM381 440h1v2h-1zM414 474h1v2h-1zM339 425h1v1h-1zM412 423h1v2h-1zM457 462h1v1h-1zM386 472h1v1h-1zM461 470h1v1h-1zM456 476h1v1h-1zM383 431h2v1h-2zM327 427h1v1h-1zM426 449h2v1h-2zM465 481h2v1h-2zM375 446h1v1h-1zM429 441h1v2h-1zM329 456h1v2h-1zM336 428h1v1h-1zM372 455h1v1h-1zM336 461h1v1h-1zM450 441h1v1h-1zM456 467h2v1h-2zM437 450h1v1h-1zM446 472h1v1h-1zM396 476h1v2h-1zM351 455h1v1h-1zM386 452h1v2h-1zM323 469h1v2h-1zM374 442h1v1h-1zM373 437h1v1h-1zM394 466h1v2h-1zM338 468h1v1h-1zM324 439h1v2h-1zM315 430h1v2h-1zM359 474h1v2h-1zM316 423h1v1h-1zM406 445h1v1h-1zM432 463h1v1h-1zM386 456h1v2h-1zM381 449h2v1h-2zM394 463h1v2h-1zM442 436h2v1h-2zM342 448h1v2h-1zM393 440h1v1h-1zM380 477h1v2h-1zM447 453h2v1h-2zM525 498h1v1h-1zM421 491h2v1h-2zM534 496h1v1h-1zM431 510h1v1h-1zM433 515h1v1h-1zM440 476h1v2h-1zM562 513h1v2h-1zM450 482h1v2h-1zM468 496h1v2h-1zM453 493h1v2h-1zM542 498h1v2h-1zM542 516h1v1h-1zM457 479h2v1h-2zM533 481h1v2h-1zM524 514h1v1h-1zM413 493h1v1h-1zM544 481h1v1h-1zM531 507h1v1h-1zM516 480h1v2h-1zM407 502h2v1h-2zM443 516h1v2h-1zM491 477h1v1h-1zM520 501h1v2h-1zM554 482h2v1h-2zM505 488h1v2h-1zM389 483h2v1h-2zM294 504h1v1h-1zM340 494h1v2h-1zM372 508h1v2h-1zM377 503h2v1h-2zM314 502h2v1h-2zM292 488h2v1h-2zM358 481h1v2h-1zM320 501h1v1h-1zM386 506h1v2h-1zM343 500h1v1h-1zM373 491h2v1h-2zM382 490h1v2h-1zM301 499h1v1h-1zM343 499h1v2h-1zM295 500h1v1h-1zM344 504h1v1h-1zM337 485h1v1h-1zM343 511h1v1h-1zM314 508h1v1h-1zM381 477h1v1h-1zM321 495h1v1h-1zM390 472h1v1h-1zM328 499h2v1h-2zM300 488h2v1h-2zM352 491h2v1h-2zM346 487h2v1h-2zM402 472h1v1h-1zM306 487h1v1h-1zM346 487h1v1h-1zM379 503h1v1h-1zM286 499h1v1h-1zM336 482h1v2h-1zM318 470h1v1h-1zM342 494h1v1h-1zM382 487h2v1h-2zM392 492h1v2h-1zM333 476h1v1h-1zM389 500h1v1h-1zM386 471h1v1h-1zM330 477h1v1h-1zM365 482h1v1h-1zM295 499h1v2h-1zM405 503h1v2h-1zM376 495h1v1h-1zM355 504h2v1h-2zM345 491h1v1h-1zM395 491h1v1h-1zM310 487h1v2h-1zM302 496h1v2h-1zM395 499h1v1h-1zM364 501h1v1h-1zM341 501h1v1h-1zM330 492h1v2h-1zM363 473h1v1h-1zM349 503h1v1h-1zM336 499h1v1h-1zM354 482h1v1h-1zM392 477h2v1h-2zM331 472h1v1h-1zM341 498h1v1h-1zM387 496h1v1h-1zM317 485h1v1h-1zM296 499h1v1h-1zM354 501h1v1h-1zM367 501h1v1h-1zM294 502h1v1h-1zM397 503h1v1h-1zM293 473h1v1h-1zM322 471h2v1h-2zM403 484h1v1h-1zM361 474h1v1h-1zM373 485h1v1h-1zM382 482h1v1h-1zM293 477h1v1h-1zM291 485h1v2h-1zM400 500h1v1h-1zM364 478h1v2h-1zM286 480h2v1h-2zM309 507h1v1h-1zM398 506h1v1h-1zM390 502h1v2h-1zM302 475h1v1h-1zM388 474h1v1h-1zM324 481h1v1h-1zM331 481h1v1h-1zM402 473h1v1h-1zM325 473h1v1h-1zM307 482h2v1h-2zM296 493h2v1h-2zM319 496h2v1h-2zM387 494h1v2h-1zM294 490h1v1h-1zM343 489h1v1h-1zM316 506h1v1h-1zM331 475h1v2h-1zM399 489h1v1h-1zM390 476h2v1h-2zM376 497h2v1h-2zM290 504h1v1h-1zM288 497h1v1h-1zM294 502h1v1h-1zM303 502h1v1h-1zM291 474h1v1h-1zM380 493h1v1h-1zM396 487h1v2h-1zM348 514h2v1h-2zM336 484h1v1h-1zM322 496h2v1h-2zM349 472h1v1h-1zM439 546h2v1h-2zM442 543h1v1h-1zM414 542h1v1h-1zM434 538h2v1h-2zM431 541h1v1h-1zM416 538h1v1h-1zM415 543h1v2h-1zM426 541h2v1h-2zM426 541h1v2h-1zM436 544h1v1h-1zM433 543h1v1h-1zM415 541h1v1h-1zM413 538h1v2h-1zM434 545h1v1h-1zM416 545h1v2h-1zM413 543h2v1h-2zM406 540h1v1h-1zM427 543h1v2h-1zM435 544h2v1h-2zM414 543h1v2h-1zM424 544h2v1h-2zM415 539h2v1h-2zM415 550h1v1h-1zM424 539h1v2h-1zM416 541h1v2h-1zM413 551h1v1h-1zM417 551h1v1h-1zM441 540h1v2h-1zM436 547h1v2h-1zM420 544h2v1h-2zM438 545h2v1h-2zM418 546h2v1h-2zM411 543h1v2h-1zM425 540h1v2h-1zM444 545h1v2h-1zM449 543h2v1h-2zM430 546h1v1h-1zM416 549h1v1h-1zM413 540h1v1h-1zM434 540h1v1h-1zM419 550h1v1h-1zM409 546h1v1h-1zM433 546h1v1h-1zM429 542h1v1h-1zM439 542h2v1h-2zM426 540h1v1h-1zM415 539h1v1h-1zM415 545h1v1h-1zM424 548h1v1h-1zM443 540h1v2h-1zM433 544h1v1h-1zM421 549h2v1h-2zM420 549h1v2h-1zM427 546h1v1h-1zM413 543h1v1h-1zM444 545h1v1h-1zM442 543h1v1h-1zM429 544h1v1h-1zM436 547h2v1h-2zM415 544h1v1h-1zM412 541h1v1h-1zM418 545h1v2h-1zM432 546h1v1h-1zM435 546h1v1h-1zM423 542h1v1h-1zM421 541h1v1h-1zM426 547h1v1h-1zM433 538h1v1h-1zM433 540h1v2h-1zM423 546h1v1h-1zM394 562h1v1h-1zM339 564h2v1h-2zM370 566h1v2h-1zM332 567h1v2h-1zM345 567h1v2h-1zM383 565h1v1h-1zM390 557h2v1h-2zM368 564h1v1h-1zM376 571h1v1h-1zM333 560h1v2h-1zM349 562h1v1h-1zM338 570h2v1h-2zM381 557h1v1h-1zM351 565h2v1h-2zM328 569h1v1h-1zM384 561h2v1h-2zM325 562h2v1h-2zM349 563h1v2h-1zM393 570h1v1h-1zM380 562h1v1h-1zM374 561h1v1h-1zM396 564h1v1h-1zM396 564h1v1h-1zM349 562h2v1h-2zM357 567h2v1h-2zM371 569h1v2h-1zM349 566h1v1h-1zM355 558h1v1h-1zM328 565h2v1h-2zM367 561h1v1h-1zM396 555h1v2h-1zM375 562h1v1h-1zM382 563h1v1h-1zM383 560h1v2h-1zM373 557h2v1h-2zM334 564h1v1h-1zM347 561h1v2h-1zM370 564h1v2h-1zM354 560h1v1h-1zM358 565h1v2h-1zM343 567h1v1h-1zM381 559h1v1h-1zM384 566h1v1h-1zM386 566h1v1h-1zM337 562h1v1h-1zM362 566h1v1h-1zM384 557h1v1h-1zM352 564h1v1h-1zM379 566h1v2h-1zM372 563h1v1h-1zM385 556h2v1h-2zM384 558h1v1h-1zM393 565h1v1h-1zM364 567h1v1h-1zM395 557h2v1h-2zM361 569h1v2h-1zM338 563h1v1h-1zM372 556h1v2h-1zM355 566h1v1h-1zM396 557h2v1h-2zM349 567h1v2h-1zM370 568h1v2h-1zM378 563h2v1h-2zM348 558h1v2h-1zM370 567h1v2h-1zM397 563h1v2h-1zM378 567h1v1h-1zM328 566h1v2h-1zM369 561h1v1h-1zM349 565h1v1h-1zM623 394h1v1h-1zM666 425h2v1h-2zM599 388h2v2h-2zM645 411h1v2h-1zM664 396h1v1h-1zM650 422h2v1h-2zM627 429h2v2h-2zM653 376h2v2h-2zM632 448h2v1h-2zM620 391h2v2h-2zM615 436h1v1h-1zM659 413h2v2h-2zM629 433h2v1h-2zM663 444h2v2h-2zM608 395h1v1h-1zM597 381h2v2h-2zM618 371h1v1h-1zM591 423h2v1h-2zM660 431h2v1h-2zM650 433h1v2h-1zM618 436h1v2h-1zM618 377h2v2h-2zM586 407h1v1h-1zM595 394h1v1h-1zM620 370h1v2h-1zM603 374h2v2h-2zM623 395h1v1h-1zM648 374h1v2h-1zM642 414h1v1h-1zM670 429h1v1h-1zM633 436h1v1h-1zM638 387h1v1h-1zM612 439h1v2h-1zM633 439h1v1h-1zM602 385h1v1h-1zM608 380h2v2h-2zM609 396h2v2h-2zM647 409h1v2h-1zM593 419h1v2h-1zM648 403h2v1h-2zM626 400h1v2h-1zM652 376h2v2h-2zM628 374h1v1h-1zM616 438h2v1h-2zM623 367h2v1h-2zM601 390h1v1h-1zM634 429h1v2h-1zM593 401h2v1h-2zM647 412h2v1h-2zM620 412h2v2h-2zM661 419h2v1h-2zM630 434h2v1h-2zM666 431h2v2h-2zM646 380h1v1h-1zM629 366h1v1h-1zM594 390h2v1h-2zM604 386h2v2h-2zM646 402h2v1h-2zM612 376h1v2h-1zM634 382h2v2h-2zM648 377h1v2h-1zM600 385h2v1h-2zM647 404h1v2h-1zM599 386h1v2h-1zM648 405h1v1h-1zM607 386h1v1h-1zM630 431h1v2h-1zM660 425h2v1h-2zM660 392h2v2h-2zM607 384h1v2h-1zM654 424h2v1h-2zM596 387h1v2h-1zM593 396h1v2h-1zM668 396h2v1h-2zM600 389h1v1h-1zM622 418h2v1h-2zM638 436h2v1h-2zM573 393h2v2h-2zM650 411h2v1h-2zM644 377h2v1h-2zM621 437h2v1h-2zM622 372h2v1h-2zM657 418h1v1h-1zM624 413h1v1h-1zM656 390h1v1h-1zM658 406h1v2h-1zM605 395h1v1h-1zM659 395h2v1h-2zM603 380h2v1h-2zM608 390h2v1h-2zM615 400h1v1h-1zM619 406h2v1h-2zM592 377h1v1h-1zM611 385h2v2h-2zM618 367h1v2h-1zM586 401h1v1h-1zM657 424h2v1h-2zM645 380h2v1h-2zM623 436h1v2h-1zM588 418h2v2h-2zM605 388h2v1h-2zM665 437h1v1h-1zM668 422h1v1h-1zM597 384h2v2h-2zM624 370h1v1h-1zM622 414h2v1h-2zM628 381h1v1h-1zM655 413h1v2h-1zM640 380h2v1h-2zM635 378h1v1h-1zM650 382h1v1h-1zM623 395h1v1h-1zM598 387h1v2h-1zM615 383h1v2h-1zM643 383h1v1h-1zM620 390h1v2h-1zM631 364h2v1h-2zM588 428h2v1h-2zM593 380h1v2h-1zM646 379h1v1h-1zM593 392h1v2h-1zM593 426h2v2h-2zM617 399h1v1h-1zM644 406h2v1h-2zM580 410h1v2h-1zM639 447h2v2h-2zM579 399h1v1h-1zM651 408h2v2h-2zM599 383h1v1h-1zM592 422h2v1h-2zM605 384h1v2h-1zM602 390h2v1h-2zM620 390h1v1h-1zM662 432h2v1h-2zM597 382h1v2h-1zM619 411h2v1h-2zM652 381h2v1h-2zM632 432h1v2h-1zM616 377h1v1h-1zM618 377h1v2h-1zM652 404h2v2h-2zM594 382h1v2h-1zM630 380h2v2h-2zM619 399h2v1h-2zM661 399h1v2h-1zM655 388h1v2h-1zM619 416h2v1h-2zM619 389h1v2h-1zM632 372h2v1h-2zM637 439h2v1h-2zM608 370h1v1h-1zM638 446h2v1h-2zM609 389h1v2h-1zM665 423h2v1h-2zM647 381h2v1h-2zM606 382h1v2h-1zM658 417h1v1h-1zM611 374h2v2h-2zM649 373h1v1h-1zM591 386h1v1h-1z"/>
<path fill="#ceebef" d="M330 375h2v1h-2zM341 360h1v1h-1zM339 386h1v2h-1zM313 353h1v2h-1zM330 390h1v2h-1zM306 365h2v2h-2zM332 391h2v1h-2zM310 382h1v1h-1zM333 368h1v1h-1zM337 389h2v2h-2zM323 382h1v1h-1zM311 388h1v2h-1zM316 365h2v2h-2zM315 389h2v1h-2zM326 360h2v1h-2zM333 381h1v2h-1zM325 378h2v2h-2zM325 355h1v1h-1zM302 364h2v1h-2zM317 388h2v2h-2zM336 383h2v1h-2zM324 364h2v2h-2zM331 387h2v2h-2zM323 397h2v2h-2zM324 382h1v1h-1zM321 363h1v2h-1zM331 353h2v1h-2zM342 371h2v1h-2zM323 358h1v1h-1zM318 366h2v2h-2zM308 388h1v1h-1zM325 392h2v2h-2zM337 380h1v1h-1zM318 373h2v1h-2zM305 359h2v1h-2zM318 368h2v2h-2zM304 362h1v2h-1zM310 369h2v1h-2zM339 387h1v2h-1zM337 360h1v1h-1zM331 376h2v2h-2zM323 381h2v1h-2zM323 376h1v2h-1zM342 372h1v2h-1zM330 379h1v1h-1zM313 386h2v2h-2zM326 365h2v1h-2zM323 378h2v1h-2zM307 381h2v1h-2zM319 377h2v2h-2zM323 386h1v2h-1zM327 376h1v2h-1zM320 364h2v1h-2zM331 363h2v2h-2zM331 387h2v1h-2zM325 390h1v2h-1zM316 358h2v2h-2zM338 374h2v2h-2zM321 367h1v2h-1zM325 396h1v2h-1zM317 389h1v2h-1zM307 383h2v2h-2zM335 369h1v1h-1zM315 381h1v1h-1zM333 390h1v1h-1zM316 375h2v1h-2zM318 391h1v2h-1zM333 377h2v2h-2zM329 353h1v2h-1zM337 376h1v1h-1zM316 380h2v1h-2zM321 357h2v1h-2zM319 393h2v2h-2zM316 374h2v2h-2zM310 365h1v2h-1zM321 395h1v2h-1zM306 362h1v2h-1zM307 384h2v2h-2zM335 375h1v2h-1zM311 380h1v1h-1zM333 370h2v1h-2zM304 374h2v1h-2zM303 367h2v2h-2zM334 355h1v1h-1zM316 360h2v1h-2zM315 375h2v2h-2zM321 352h2v1h-2zM328 368h2v1h-2zM334 375h2v2h-2zM344 362h1v1h-1zM327 355h2v2h-2zM336 374h2v1h-2zM326 385h1v1h-1zM331 356h2v1h-2zM332 386h2v1h-2zM334 361h1v2h-1zM339 377h2v1h-2zM316 366h1v1h-1zM333 389h2v1h-2zM308 364h1v2h-1zM331 368h2v1h-2zM314 391h1v2h-1zM325 383h1v1h-1zM339 363h1v2h-1zM309 363h2v1h-2zM318 393h1v2h-1zM324 395h1v2h-1zM328 362h2v1h-2zM318 384h1v2h-1zM306 376h1v2h-1zM330 393h2v2h-2zM310 382h1v2h-1zM334 365h1v1h-1zM310 375h2v1h-2zM327 379h2v2h-2zM330 390h2v2h-2zM310 377h1v2h-1zM303 372h2v2h-2zM318 384h1v2h-1zM326 389h2v1h-2zM382 361h1v1h-1zM372 331h1v2h-1zM379 383h1v2h-1zM391 361h1v1h-1zM376 328h2v1h-2zM385 361h2v2h-2zM356 372h2v2h-2zM388 362h2v1h-2zM382 358h1v1h-1zM395 335h1v1h-1zM383 351h2v2h-2zM384 337h1v1h-1zM396 339h1v1h-1zM396 370h2v2h-2zM386 321h1v2h-1zM384 385h2v1h-2zM360 326h1v1h-1zM395 360h2v1h-2zM375 368h1v1h-1zM369 365h1v1h-1zM369 354h1v2h-1zM388 379h2v2h-2zM390 355h2v2h-2zM384 385h1v1h-1zM386 333h1v1h-1zM364 361h1v1h-1zM390 325h2v2h-2zM363 384h2v1h-2zM395 339h1v1h-1zM375 378h1v1h-1zM387 367h1v1h-1zM386 360h2v1h-2zM380 335h1v2h-1zM358 379h2v1h-2zM370 347h2v1h-2zM387 352h2v2h-2zM363 358h2v1h-2zM361 372h2v1h-2zM393 383h2v1h-2zM399 378h2v1h-2zM403 329h2v2h-2zM384 335h2v2h-2zM387 388h2v1h-2zM382 326h1v2h-1zM369 357h1v1h-1zM378 349h2v2h-2zM385 384h2v2h-2zM402 371h1v1h-1zM394 362h2v1h-2zM377 360h2v1h-2zM393 366h2v2h-2zM394 322h2v2h-2zM392 351h2v2h-2zM388 378h1v1h-1zM379 382h1v2h-1zM384 371h2v1h-2zM389 329h1v1h-1zM387 357h2v2h-2zM364 361h2v1h-2zM392 347h2v1h-2zM373 363h2v2h-2zM386 374h2v2h-2zM347 373h1v2h-1zM369 336h2v2h-2zM392 367h1v2h-1zM384 384h1v1h-1zM365 374h1v2h-1zM396 319h2v2h-2zM356 342h2v2h-2zM384 352h1v2h-1zM383 332h2v2h-2zM384 325h2v2h-2zM395 356h2v2h-2zM390 350h2v2h-2zM364 362h1v1h-1zM394 379h2v1h-2zM369 363h2v2h-2zM359 364h1v1h-1zM383 377h1v2h-1zM379 337h2v1h-2zM382 384h1v2h-1zM379 361h2v2h-2zM362 334h2v2h-2zM365 356h1v2h-1zM363 362h2v2h-2zM389 380h1v1h-1zM393 378h1v2h-1zM362 363h2v1h-2zM363 381h1v1h-1zM360 373h2v1h-2zM370 341h1v1h-1zM391 357h2v2h-2zM366 347h2v1h-2zM365 355h2v2h-2zM385 335h2v1h-2zM349 367h2v1h-2zM364 335h2v2h-2zM373 358h1v2h-1zM376 357h1v1h-1zM347 376h2v1h-2zM383 337h1v2h-1zM398 336h1v1h-1zM398 388h1v2h-1zM368 359h1v1h-1zM374 355h1v1h-1zM381 383h2v1h-2zM391 357h2v2h-2zM363 358h2v1h-2zM377 358h1v1h-1zM357 374h1v1h-1zM368 363h2v2h-2zM390 387h2v1h-2zM371 359h1v1h-1zM350 364h1v2h-1zM371 355h2v1h-2zM372 367h2v2h-2zM388 370h1v1h-1zM351 369h1v1h-1zM370 356h2v2h-2zM368 360h1v2h-1zM395 327h1v1h-1zM380 395h2v2h-2zM356 370h2v1h-2zM394 349h2v1h-2zM387 342h2v1h-2zM372 352h1v2h-1zM360 343h1v1h-1zM386 327h2v2h-2zM371 386h2v1h-2zM397 375h2v1h-2zM387 320h2v1h-2zM394 353h1v1h-1zM364 344h1v1h-1zM381 370h1v2h-1zM387 350h2v1h-2zM365 366h1v1h-1zM366 349h2v1h-2zM352 372h2v1h-2zM355 364h2v2h-2zM394 381h2v2h-2zM397 379h1v1h-1zM389 328h2v1h-2zM365 360h1v2h-1zM395 358h2v2h-2zM373 360h2v1h-2zM386 326h2v1h-2zM386 359h1v2h-1zM369 351h2v2h-2zM356 365h2v2h-2zM387 379h1v1h-1zM378 361h1v2h-1zM355 364h1v2h-1zM392 381h1v1h-1zM390 376h2v1h-2zM385 379h2v1h-2zM387 373h1v2h-1zM392 348h2v2h-2zM362 372h2v1h-2zM391 359h2v2h-2zM381 359h1v1h-1zM381 379h2v2h-2zM391 337h1v2h-1zM378 358h1v1h-1zM383 380h1v2h-1zM360 364h2v1h-2zM381 321h1v1h-1zM392 356h2v1h-2zM369 380h2v2h-2zM387 382h1v2h-1zM395 337h1v2h-1zM359 365h2v2h-2zM372 345h2v1h-2zM379 333h2v2h-2zM383 367h1v2h-1zM354 368h2v1h-2zM389 357h2v1h-2zM365 358h2v1h-2zM348 375h2v1h-2zM383 365h2v1h-2zM368 354h2v2h-2zM380 368h1v2h-1zM404 348h2v1h-2zM380 384h2v1h-2zM395 360h1v1h-1zM359 366h2v1h-2zM393 362h1v2h-1zM392 359h1v1h-1zM358 358h2v2h-2zM399 352h2v1h-2zM382 359h2v1h-2zM391 329h2v2h-2zM370 354h1v2h-1zM388 355h1v1h-1zM355 369h2v1h-2zM366 380h2v2h-2zM374 338h2v1h-2zM381 375h1v1h-1zM354 371h1v1h-1zM371 338h2v2h-2zM376 387h1v2h-1zM364 350h2v1h-2zM365 350h1v1h-1zM395 326h2v2h-2zM383 376h2v2h-2zM397 357h1v1h-1zM357 381h1v1h-1zM381 368h1v1h-1zM369 366h2v2h-2zM366 361h1v1h-1zM364 360h2v1h-2zM385 332h1v1h-1zM371 356h2v2h-2zM343 375h2v1h-2zM371 349h2v1h-2zM368 345h1v2h-1zM390 377h1v1h-1zM393 342h2v1h-2zM358 362h2v1h-2zM392 354h2v2h-2zM361 357h2v1h-2zM363 414h1v1h-1zM367 420h2v1h-2zM373 390h2v2h-2zM374 392h2v2h-2zM363 418h1v2h-1zM382 395h2v2h-2zM364 422h1v1h-1zM391 400h2v1h-2zM372 427h2v1h-2zM363 409h2v1h-2zM367 407h1v2h-1zM361 400h2v2h-2zM383 390h2v2h-2zM371 418h1v2h-1zM351 395h1v1h-1zM368 421h1v2h-1zM366 390h1v2h-1zM355 412h1v2h-1zM362 394h1v2h-1zM362 414h2v2h-2zM347 400h2v1h-2zM371 389h1v2h-1zM357 395h1v2h-1zM374 404h2v2h-2zM350 386h1v1h-1zM359 399h2v2h-2zM356 393h2v2h-2zM369 423h1v2h-1zM340 410h1v2h-1zM363 410h2v1h-2zM364 400h1v2h-1zM352 394h1v1h-1zM373 388h1v2h-1zM360 416h1v2h-1zM355 419h1v1h-1zM378 421h1v2h-1zM365 419h2v2h-2zM355 406h1v2h-1zM371 388h1v2h-1zM386 397h1v2h-1zM353 391h1v2h-1zM350 390h1v2h-1zM389 409h1v1h-1zM362 422h1v1h-1zM344 405h1v2h-1zM371 393h2v2h-2zM391 405h1v1h-1zM346 389h2v2h-2zM355 396h1v2h-1zM363 427h2v1h-2zM382 393h2v1h-2zM359 422h2v2h-2zM389 401h2v1h-2zM359 391h1v2h-1zM362 408h1v2h-1zM362 412h1v1h-1zM362 405h2v2h-2zM345 389h1v1h-1zM364 395h2v2h-2zM357 409h1v2h-1zM353 405h1v2h-1zM363 416h2v1h-2zM364 423h2v1h-2zM353 383h2v1h-2zM366 402h2v2h-2zM384 388h1v1h-1zM358 410h2v1h-2zM391 407h1v2h-1zM369 419h2v1h-2zM361 398h1v2h-1zM366 400h2v1h-2zM361 424h2v2h-2zM379 422h2v2h-2zM353 397h1v2h-1zM378 421h1v1h-1zM389 405h1v1h-1zM377 396h1v2h-1zM350 394h1v1h-1zM350 398h1v1h-1zM369 406h2v2h-2zM354 419h1v1h-1zM381 394h2v1h-2zM342 401h1v2h-1zM364 402h1v1h-1zM387 401h2v2h-2zM368 428h1v1h-1zM386 388h2v1h-2zM362 405h2v2h-2zM364 405h2v2h-2zM383 400h2v1h-2zM351 406h2v2h-2zM359 404h2v1h-2zM358 423h1v2h-1zM371 404h1v2h-1zM372 389h1v1h-1zM375 387h1v1h-1zM382 386h1v1h-1zM362 421h1v1h-1zM356 386h1v1h-1zM355 405h2v1h-2zM354 412h2v1h-2zM358 412h2v1h-2zM359 399h2v1h-2zM339 398h2v1h-2zM381 405h1v2h-1zM376 401h2v2h-2zM369 418h2v1h-2zM355 413h2v2h-2zM357 388h2v1h-2zM365 403h1v2h-1zM357 415h2v2h-2zM372 429h1v2h-1zM364 411h1v1h-1zM348 385h2v2h-2zM366 422h2v2h-2zM363 415h2v1h-2zM393 404h2v1h-2zM371 414h1v2h-1zM366 420h2v2h-2zM387 400h1v2h-1zM354 401h1v2h-1zM366 389h1v1h-1zM378 392h1v1h-1zM347 390h1v2h-1zM360 384h1v2h-1zM384 404h1v1h-1zM376 393h2v1h-2zM362 427h2v1h-2zM371 402h1v1h-1zM367 396h2v2h-2zM348 389h2v1h-2zM359 412h1v2h-1zM353 395h1v1h-1zM355 395h2v1h-2zM371 390h1v1h-1zM363 391h2v1h-2zM369 412h1v2h-1zM375 398h2v2h-2zM390 400h2v2h-2zM363 404h1v1h-1zM374 409h1v2h-1zM364 408h2v2h-2zM373 384h1v2h-1zM385 389h2v1h-2zM381 397h1v2h-1zM364 392h2v2h-2zM364 413h2v1h-2zM368 408h2v1h-2zM373 379h2v1h-2zM375 416h1v1h-1zM365 413h1v2h-1zM359 402h2v1h-2zM371 393h1v1h-1zM386 404h2v2h-2zM367 412h2v2h-2zM380 391h2v1h-2zM363 417h1v1h-1zM361 410h2v1h-2zM363 427h2v1h-2zM376 416h2v2h-2zM353 393h1v1h-1zM369 405h1v1h-1zM376 384h1v2h-1zM374 383h1v2h-1zM347 393h1v1h-1zM367 413h1v1h-1zM391 398h1v1h-1zM363 412h2v1h-2zM349 392h2v1h-2zM368 392h1v1h-1zM372 393h1v1h-1zM366 411h1v2h-1zM371 414h1v1h-1zM353 422h1v1h-1zM365 425h2v1h-2zM388 395h2v2h-2zM356 410h1v2h-1zM369 421h1v1h-1zM363 391h2v2h-2zM364 416h1v1h-1zM363 416h1v2h-1zM360 401h2v2h-2zM360 421h1v2h-1zM361 421h2v1h-2zM369 413h2v1h-2zM378 392h1v1h-1zM353 423h2v1h-2zM359 402h2v1h-2zM366 404h2v2h-2zM364 390h2v2h-2zM376 410h2v2h-2zM368 409h2v1h-2zM396 391h1v1h-1zM372 407h2v1h-2zM362 422h1v2h-1zM366 423h2v1h-2zM388 399h2v2h-2zM361 414h2v2h-2zM359 386h2v1h-2zM389 400h2v2h-2zM464 465h2v1h-2zM422 447h2v1h-2zM431 449h2v1h-2zM423 459h1v1h-1zM452 437h1v1h-1zM414 455h1v1h-1zM424 450h1v1h-1zM453 437h2v2h-2zM453 453h2v2h-2zM423 451h2v1h-2zM445 438h2v2h-2zM456 464h2v1h-2zM463 428h1v1h-1zM447 458h1v2h-1zM431 450h1v2h-1zM455 453h1v2h-1zM414 446h1v2h-1zM415 453h1v2h-1zM432 440h2v1h-2zM471 453h2v2h-2zM444 459h1v1h-1zM440 430h2v1h-2zM405 443h2v2h-2zM421 446h2v1h-2zM418 433h1v2h-1zM460 457h1v2h-1zM408 432h1v2h-1zM420 450h1v2h-1zM424 457h2v1h-2zM453 464h1v2h-1zM415 444h2v1h-2zM483 445h1v2h-1zM450 458h2v1h-2zM452 458h2v2h-2zM475 447h1v2h-1zM424 438h2v1h-2zM410 457h1v2h-1zM419 425h2v2h-2zM438 460h2v1h-2zM420 442h1v1h-1zM468 459h1v1h-1zM408 451h1v1h-1zM451 442h2v2h-2zM451 452h2v2h-2zM462 457h2v2h-2zM410 432h1v1h-1zM421 433h1v1h-1zM419 420h1v2h-1zM457 470h1v2h-1zM422 450h1v2h-1zM448 436h1v2h-1zM461 428h2v2h-2zM419 438h2v2h-2zM430 425h2v2h-2zM451 443h2v1h-2zM454 440h2v1h-2zM419 453h2v2h-2zM424 449h1v2h-1zM474 456h2v2h-2zM420 456h2v1h-2zM416 446h2v1h-2zM431 453h1v2h-1zM425 438h1v2h-1zM430 430h2v2h-2zM461 437h1v2h-1zM427 438h2v2h-2zM458 438h1v1h-1zM446 439h1v1h-1zM449 443h1v1h-1zM418 441h2v1h-2zM447 439h1v1h-1zM419 428h2v2h-2zM402 440h1v2h-1zM418 447h1v1h-1zM484 449h2v1h-2zM461 460h1v1h-1zM424 443h2v2h-2zM457 456h2v2h-2zM414 453h2v2h-2zM418 459h2v1h-2zM450 466h1v2h-1zM445 460h2v1h-2zM413 443h1v2h-1zM425 426h2v1h-2zM477 453h1v1h-1zM474 450h2v1h-2zM414 432h1v2h-1zM440 459h1v2h-1zM457 433h2v2h-2zM407 435h2v1h-2zM450 455h2v1h-2zM425 424h2v2h-2zM418 445h1v1h-1zM448 450h1v2h-1zM421 423h2v2h-2zM414 466h2v1h-2zM428 454h2v1h-2zM420 455h2v1h-2zM414 435h1v1h-1zM414 430h1v2h-1zM540 304h1v2h-1zM489 305h1v1h-1zM471 290h1v1h-1zM503 293h1v1h-1zM426 326h1v1h-1zM523 278h1v2h-1zM463 345h1v2h-1zM530 323h1v1h-1zM468 296h1v1h-1zM488 311h1v2h-1zM532 283h2v1h-2zM457 298h1v1h-1zM556 298h1v1h-1zM548 286h1v2h-1zM452 334h2v1h-2zM478 309h1v1h-1zM435 304h1v1h-1zM495 319h2v1h-2zM469 339h1v1h-1zM541 298h1v1h-1zM460 330h1v2h-1zM439 346h1v2h-1zM514 332h1v2h-1zM474 343h1v2h-1zM423 305h2v1h-2zM549 285h1v1h-1zM430 348h1v2h-1zM431 313h1v2h-1zM512 309h1v1h-1zM527 325h1v1h-1zM450 340h2v1h-2zM554 321h1v1h-1zM488 297h1v1h-1zM526 283h1v1h-1zM458 340h1v1h-1zM477 317h1v1h-1zM501 296h1v1h-1zM533 329h1v1h-1zM550 271h1v1h-1zM493 307h1v1h-1zM434 318h1v1h-1zM529 325h1v2h-1zM451 295h1v1h-1zM444 330h1v1h-1zM484 319h1v2h-1zM486 292h2v1h-2zM553 328h1v1h-1zM519 281h1v1h-1zM437 348h2v1h-2zM513 281h1v1h-1zM502 293h1v1h-1zM554 270h1v1h-1zM515 291h2v1h-2zM510 310h1v2h-1zM545 287h1v1h-1zM480 318h1v1h-1zM472 337h1v2h-1zM469 335h2v1h-2zM431 328h1v1h-1zM543 280h1v1h-1zM496 314h1v2h-1zM486 289h1v1h-1zM471 308h1v1h-1zM485 326h1v2h-1zM449 317h2v1h-2zM548 296h1v1h-1zM431 320h1v1h-1zM499 309h1v1h-1zM487 325h1v2h-1zM517 300h1v1h-1zM552 294h1v1h-1zM438 301h2v1h-2zM559 328h1v2h-1zM502 331h2v1h-2zM460 297h1v2h-1zM466 321h1v1h-1zM505 327h1v1h-1zM557 269h1v1h-1zM501 283h2v1h-2zM558 295h1v1h-1zM475 315h2v1h-2zM494 313h1v1h-1zM532 321h1v1h-1zM448 336h1v1h-1zM443 309h1v1h-1zM441 343h1v2h-1zM435 330h1v1h-1zM431 316h2v1h-2zM479 326h1v1h-1zM517 298h2v1h-2zM485 334h2v1h-2zM554 284h2v1h-2zM493 337h2v1h-2zM471 316h1v1h-1zM437 306h1v1h-1zM473 293h1v2h-1zM526 276h2v1h-2zM456 331h1v1h-1zM536 273h1v1h-1zM449 310h1v1h-1zM466 319h2v1h-2zM436 322h1v1h-1zM429 336h1v1h-1zM548 319h1v1h-1zM455 322h1v1h-1zM437 308h1v1h-1zM428 314h1v1h-1zM431 316h1v2h-1zM439 327h1v2h-1zM532 308h1v1h-1zM430 323h2v1h-2zM542 275h2v1h-2zM428 302h2v1h-2zM528 310h2v1h-2zM558 307h1v1h-1zM497 336h1v2h-1zM446 331h1v2h-1zM465 290h2v1h-2zM516 321h1v2h-1zM492 336h1v1h-1zM488 326h1v1h-1zM513 285h1v1h-1zM537 332h2v1h-2zM553 295h1v2h-1zM510 327h2v1h-2zM446 331h2v1h-2zM449 310h1v1h-1zM429 335h1v1h-1zM520 315h1v2h-1zM451 303h1v1h-1zM480 292h1v1h-1zM452 337h1v2h-1zM544 288h1v1h-1zM472 303h2v1h-2zM517 290h1v2h-1zM512 314h1v1h-1zM507 282h2v1h-2zM509 281h1v1h-1zM442 313h1v1h-1zM440 342h2v1h-2zM467 292h1v1h-1zM474 322h1v2h-1zM549 319h1v1h-1zM451 297h2v1h-2zM555 274h1v1h-1zM469 336h1v1h-1zM477 331h1v1h-1zM489 302h2v1h-2zM550 275h1v1h-1zM429 336h1v2h-1z"/>
<path fill="#c17a6f" d="M329 544h2v1h-2zM331 545h2v2h-2zM293 554h2v2h-2zM336 537h2v1h-2zM302 553h1v1h-1zM326 552h2v1h-2zM333 541h1v2h-1zM351 553h2v2h-2zM329 549h1v1h-1zM326 535h2v1h-2zM301 557h1v2h-1zM337 528h1v1h-1zM340 535h2v2h-2zM334 550h1v1h-1zM355 543h2v2h-2zM333 541h2v1h-2zM307 561h2v1h-2zM340 521h1v1h-1zM316 514h2v1h-2zM338 545h2v2h-2zM334 534h1v1h-1zM344 552h1v2h-1zM324 541h1v1h-1zM331 511h2v2h-2zM298 557h2v1h-2zM308 560h2v2h-2zM334 554h2v1h-2zM336 539h2v1h-2zM310 553h2v1h-2zM329 552h2v2h-2zM336 533h2v2h-2zM349 553h1v1h-1zM325 544h1v1h-1zM341 541h1v1h-1zM303 545h1v2h-1zM338 551h1v1h-1zM329 552h1v1h-1zM298 551h1v2h-1zM331 550h1v1h-1zM343 544h1v2h-1zM305 551h2v2h-2zM299 557h1v2h-1zM331 550h2v2h-2zM294 556h2v2h-2zM341 543h2v2h-2zM342 562h2v1h-2zM338 532h1v2h-1zM325 541h1v1h-1zM338 544h1v2h-1zM341 550h1v1h-1zM338 552h1v2h-1zM332 546h2v1h-2zM341 528h1v2h-1zM332 537h2v2h-2zM330 550h1v1h-1zM341 558h2v1h-2zM332 537h2v2h-2zM331 524h1v1h-1zM340 558h2v1h-2zM331 534h1v2h-1z"/>
<path fill="#767b33" d="M688 388h1v2h-1zM726 395h1v2h-1zM683 379h2v1h-2zM721 396h2v1h-2zM714 405h1v2h-1zM673 378h1v1h-1zM703 386h2v1h-2zM737 419h1v2h-1zM742 373h1v1h-1zM666 418h1v1h-1zM720 391h1v2h-1zM667 382h1v1h-1zM729 441h1v1h-1zM667 407h1v1h-1zM718 443h1v1h-1zM748 451h1v1h-1zM752 420h1v1h-1zM677 417h1v2h-1zM725 437h2v1h-2zM728 435h1v1h-1zM704 415h2v1h-2zM725 439h1v1h-1zM752 423h1v1h-1zM727 437h1v1h-1zM737 453h2v1h-2zM701 392h1v2h-1zM681 370h1v2h-1zM693 385h1v1h-1zM662 382h1v2h-1zM744 420h2v1h-2zM706 423h1v2h-1zM732 407h1v1h-1zM736 414h1v1h-1zM706 386h1v1h-1zM665 387h1v1h-1zM744 368h1v1h-1zM692 377h1v1h-1zM730 447h1v1h-1zM692 378h1v1h-1zM699 438h1v1h-1zM744 382h1v2h-1zM726 438h2v1h-2zM671 426h1v1h-1zM668 388h1v1h-1zM708 416h1v1h-1zM719 443h1v1h-1zM671 413h1v1h-1zM726 445h1v1h-1zM743 443h1v1h-1zM717 450h2v1h-2zM725 451h2v1h-2zM703 388h1v1h-1zM689 415h1v2h-1zM704 432h1v2h-1zM668 378h1v1h-1zM745 451h2v1h-2zM737 458h1v1h-1zM739 383h2v1h-2zM739 432h2v1h-2zM699 451h1v1h-1zM738 437h1v1h-1zM705 386h1v1h-1zM746 425h1v1h-1zM743 433h1v2h-1zM765 465h1v1h-1zM737 454h2v1h-2zM769 468h1v1h-1zM707 437h1v1h-1zM695 444h1v1h-1zM742 434h1v1h-1zM689 382h1v1h-1zM725 439h1v1h-1zM717 415h1v2h-1zM745 459h2v1h-2zM749 450h1v1h-1zM723 437h1v2h-1zM696 411h1v1h-1zM667 423h1v1h-1zM683 384h1v2h-1zM746 427h1v1h-1zM740 447h1v1h-1zM751 457h1v1h-1zM740 410h2v1h-2zM698 444h1v1h-1zM762 399h1v1h-1zM733 461h2v1h-2zM662 433h1v1h-1zM752 455h1v1h-1zM701 386h1v1h-1zM744 452h2v1h-2zM738 416h1v2h-1zM696 445h1v1h-1zM680 420h1v1h-1zM746 441h1v1h-1zM683 377h2v1h-2zM693 418h2v1h-2zM670 398h2v1h-2zM663 427h1v1h-1zM684 436h1v2h-1zM718 399h2v1h-2zM713 444h1v1h-1zM739 434h1v1h-1zM698 449h1v1h-1zM726 396h1v1h-1zM668 382h1v1h-1zM714 405h1v2h-1zM748 439h1v1h-1zM664 427h1v2h-1zM667 380h1v1h-1zM699 445h1v1h-1zM687 385h1v2h-1zM747 449h1v1h-1zM664 428h1v1h-1zM707 435h1v2h-1zM723 401h1v1h-1zM724 448h2v1h-2zM663 399h1v1h-1zM699 387h1v2h-1zM708 431h1v1h-1zM736 411h1v1h-1zM743 428h1v1h-1zM727 398h1v2h-1zM667 400h2v1h-2zM750 448h2v1h-2zM744 440h1v1h-1zM684 417h1v1h-1zM719 419h2v1h-2zM717 450h1v2h-1zM730 456h1v1h-1zM691 386h1v1h-1zM666 412h1v2h-1zM718 394h1v1h-1zM732 454h1v1h-1zM698 387h1v1h-1zM761 398h1v1h-1zM762 459h1v2h-1zM763 461h2v1h-2zM668 413h2v1h-2zM745 369h1v2h-1zM660 425h2v1h-2zM745 383h1v2h-1zM698 443h1v1h-1zM667 397h1v1h-1zM700 379h1v1h-1zM750 461h1v1h-1zM723 436h1v1h-1zM701 449h2v1h-2zM702 389h1v2h-1zM713 413h1v1h-1zM692 446h1v1h-1zM685 383h2v1h-2zM695 416h1v2h-1zM781 450h1v2h-1zM696 390h1v1h-1zM744 445h1v2h-1zM742 383h1v1h-1zM702 450h1v1h-1zM670 389h1v1h-1zM743 449h2v1h-2zM688 408h2v1h-2zM780 451h1v1h-1zM707 434h2v1h-2zM662 412h1v2h-1zM702 436h1v1h-1zM706 383h1v1h-1zM693 419h2v1h-2zM742 378h1v2h-1zM732 470h1v1h-1zM735 406h2v1h-2zM669 402h1v1h-1zM685 432h2v1h-2zM743 437h1v1h-1zM689 432h1v1h-1zM686 381h1v1h-1zM744 430h1v1h-1zM666 385h2v1h-2zM716 446h2v1h-2zM716 424h1v1h-1zM719 452h1v2h-1zM703 435h1v1h-1zM729 454h2v1h-2zM727 454h1v2h-1zM739 417h1v2h-1zM745 386h1v1h-1zM768 399h2v1h-2zM702 392h1v1h-1zM703 389h2v1h-2zM709 421h1v1h-1zM692 379h1v1h-1zM748 375h1v2h-1zM735 406h1v1h-1zM726 443h1v1h-1zM685 432h1v2h-1zM724 436h1v1h-1zM725 442h1v1h-1zM748 415h1v1h-1zM728 453h1v1h-1zM712 423h1v1h-1zM694 417h1v2h-1zM728 467h2v1h-2zM668 411h1v1h-1zM735 455h1v1h-1zM719 442h2v1h-2zM670 386h2v1h-2zM725 447h1v2h-1zM698 448h1v1h-1zM726 394h1v1h-1zM663 385h1v2h-1zM737 411h2v1h-2zM701 432h1v1h-1zM695 381h1v1h-1zM717 401h2v1h-2zM723 403h1v1h-1zM663 388h2v1h-2zM740 428h2v1h-2zM750 453h1v1h-1zM737 417h1v2h-1zM691 448h1v2h-1zM751 460h2v1h-2zM730 460h1v1h-1zM631 364h1v1h-1zM610 375h1v1h-1zM694 419h2v1h-2zM683 410h1v2h-1zM632 397h1v1h-1zM607 375h2v1h-2zM663 403h2v1h-2zM652 400h1v1h-1zM666 405h1v2h-1zM625 389h1v1h-1zM674 412h1v1h-1zM663 403h1v1h-1zM673 408h1v2h-1zM649 444h1v1h-1zM632 369h2v1h-2zM646 447h1v1h-1zM625 398h1v1h-1zM690 395h1v1h-1zM587 394h2v1h-2zM679 389h1v2h-1zM612 380h1v1h-1zM614 377h2v1h-2zM724 395h1v1h-1zM657 376h1v1h-1zM631 423h1v2h-1zM729 393h1v1h-1zM680 419h2v1h-2zM634 399h2v1h-2zM646 446h1v1h-1zM681 419h1v1h-1zM722 393h1v1h-1zM675 390h2v1h-2zM648 449h2v1h-2zM628 409h1v1h-1zM712 416h1v1h-1zM741 390h2v1h-2zM673 383h1v1h-1zM618 424h1v1h-1zM673 405h1v1h-1zM715 412h2v1h-2zM625 389h1v1h-1zM698 398h1v1h-1zM611 375h2v1h-2zM602 381h1v2h-1zM675 381h1v1h-1zM681 419h1v2h-1zM671 391h1v1h-1zM692 397h1v2h-1zM711 416h2v1h-2zM620 398h1v2h-1zM727 389h2v1h-2zM634 364h1v1h-1zM680 393h1v1h-1zM628 405h1v1h-1zM635 419h1v2h-1zM666 374h2v1h-2zM651 391h1v2h-1zM654 448h2v1h-2zM681 389h1v1h-1zM717 419h1v2h-1zM649 393h1v1h-1zM585 388h1v1h-1zM671 404h1v1h-1zM679 387h1v1h-1zM625 392h1v1h-1zM628 404h1v1h-1zM599 385h1v1h-1zM605 404h1v2h-1zM639 366h1v2h-1zM668 378h2v1h-2zM609 404h2v1h-2zM678 391h1v1h-1zM731 436h1v2h-1zM651 450h1v1h-1zM588 386h2v1h-2zM692 397h1v1h-1zM600 385h1v1h-1zM748 398h1v1h-1zM677 414h1v1h-1zM595 391h1v1h-1zM653 445h1v1h-1zM648 403h2v1h-2zM618 431h1v1h-1zM627 410h1v1h-1zM629 394h2v1h-2zM648 395h1v1h-1zM678 390h1v1h-1zM675 408h1v2h-1zM652 399h1v1h-1zM629 397h2v1h-2zM675 421h1v1h-1zM673 395h1v1h-1zM693 397h1v2h-1zM724 388h1v1h-1zM715 417h1v1h-1zM611 376h1v1h-1zM609 377h1v2h-1zM676 423h1v2h-1zM610 380h2v1h-2zM695 435h1v1h-1zM698 401h1v1h-1zM668 405h1v1h-1zM662 404h1v2h-1zM664 383h2v1h-2zM608 382h1v2h-1zM695 398h1v1h-1zM661 403h2v1h-2zM673 385h1v1h-1zM611 380h1v1h-1zM742 391h1v1h-1zM586 385h1v1h-1zM677 410h1v2h-1zM628 409h1v1h-1zM676 406h1v1h-1zM609 402h1v2h-1zM674 405h1v1h-1zM630 402h2v1h-2zM613 377h1v2h-1zM586 387h1v1h-1zM654 399h1v1h-1zM490 375h1v1h-1zM551 331h2v1h-2zM495 384h1v2h-1zM476 354h1v1h-1zM551 326h1v1h-1zM481 376h1v1h-1zM490 335h2v1h-2zM487 337h1v1h-1zM539 384h1v1h-1zM466 331h1v1h-1zM490 341h1v1h-1zM489 381h1v1h-1zM485 339h1v1h-1zM478 356h1v1h-1zM536 387h2v1h-2zM553 331h1v1h-1zM555 385h1v1h-1zM503 365h1v1h-1zM522 329h2v1h-2zM492 331h1v2h-1zM559 367h1v1h-1zM550 338h1v1h-1zM500 362h1v1h-1zM479 355h1v2h-1zM499 378h2v1h-2zM549 379h2v1h-2zM504 371h1v1h-1zM465 333h1v2h-1zM547 345h2v1h-2zM474 353h2v1h-2zM554 321h1v1h-1zM524 329h1v1h-1zM505 368h1v2h-1zM523 335h1v2h-1zM551 385h1v1h-1zM553 378h1v2h-1zM481 377h1v2h-1zM497 339h1v1h-1zM518 332h1v1h-1zM474 357h2v1h-2zM475 353h1v1h-1zM550 376h1v1h-1zM522 335h1v1h-1zM537 387h1v1h-1zM470 330h1v2h-1zM474 359h1v1h-1zM553 347h1v2h-1zM553 329h2v1h-2zM557 376h2v1h-2zM493 382h1v1h-1zM480 358h1v2h-1zM552 321h1v1h-1zM538 384h1v1h-1zM525 335h2v1h-2zM551 329h1v1h-1zM492 385h1v2h-1zM498 367h1v1h-1zM475 335h1v1h-1zM480 356h1v2h-1zM551 324h2v1h-2zM469 332h1v1h-1zM500 365h1v2h-1zM485 357h1v2h-1zM480 376h1v1h-1zM550 326h1v1h-1zM520 334h2v1h-2zM545 344h2v1h-2zM544 344h1v1h-1zM556 366h1v1h-1zM472 336h1v1h-1zM557 325h2v1h-2zM487 378h2v1h-2zM481 352h1v1h-1zM480 352h1v1h-1zM556 380h1v1h-1zM475 355h1v1h-1zM481 374h1v1h-1zM469 330h2v1h-2zM494 340h1v1h-1zM555 379h1v1h-1zM558 371h1v1h-1zM543 385h1v1h-1zM498 368h1v1h-1zM543 388h1v1h-1zM553 333h1v2h-1zM496 367h1v2h-1zM528 332h1v1h-1zM484 342h1v1h-1zM545 322h1v1h-1zM546 339h1v2h-1z"/>
<path fill="#2b6f39" d="M720 396h1v2h-1zM751 414h1v2h-1zM704 385h1v1h-1zM729 462h1v1h-1zM667 446h1v1h-1zM771 387h2v1h-2zM720 403h1v1h-1zM777 414h1v1h-1zM768 381h1v1h-1zM723 425h1v1h-1zM720 425h1v1h-1zM726 411h1v1h-1zM683 396h1v1h-1zM763 463h1v1h-1zM708 412h1v1h-1zM695 394h1v1h-1zM696 380h1v2h-1zM680 415h1v1h-1zM780 431h1v1h-1zM725 401h1v1h-1zM688 396h2v1h-2zM755 372h1v1h-1zM706 395h1v2h-1zM724 402h2v1h-2zM768 420h1v1h-1zM764 465h1v1h-1zM668 375h2v1h-2zM722 397h1v2h-1zM741 448h1v1h-1zM703 415h1v1h-1zM667 448h2v1h-2zM680 416h1v1h-1zM670 380h1v1h-1zM684 434h1v1h-1zM682 419h1v2h-1zM753 372h2v1h-2zM669 444h1v2h-1zM761 417h1v1h-1zM689 419h1v1h-1zM717 424h1v1h-1zM694 390h1v1h-1zM719 426h1v1h-1zM730 402h2v1h-2zM728 405h1v2h-1zM738 440h1v1h-1zM758 465h1v2h-1zM695 397h1v1h-1zM720 403h1v2h-1zM774 419h1v1h-1zM690 387h1v1h-1zM754 399h1v2h-1zM779 433h1v1h-1zM774 410h1v1h-1zM768 414h1v1h-1zM778 415h1v1h-1zM713 425h1v1h-1zM714 427h1v1h-1zM685 421h1v1h-1zM680 408h1v1h-1zM703 415h2v1h-2zM770 414h1v1h-1zM748 379h1v2h-1zM680 419h1v1h-1zM761 459h1v1h-1zM688 391h2v1h-2zM695 393h1v1h-1zM771 386h1v1h-1zM666 452h1v1h-1zM694 379h2v1h-2zM695 394h1v2h-1zM763 467h2v1h-2zM718 424h2v1h-2zM665 449h1v1h-1zM689 394h2v1h-2zM701 383h2v1h-2zM675 379h2v1h-2zM700 400h1v1h-1zM750 379h1v1h-1zM669 442h1v1h-1zM749 371h1v1h-1zM697 391h1v1h-1zM721 410h1v1h-1zM693 393h2v1h-2zM688 433h1v1h-1zM670 448h2v1h-2zM669 447h1v1h-1zM755 371h2v1h-2zM768 467h1v1h-1zM680 439h1v1h-1zM702 381h1v1h-1zM728 457h2v1h-2zM749 372h1v1h-1zM726 460h2v1h-2zM703 377h1v2h-1zM701 399h1v1h-1zM774 421h1v1h-1zM707 376h1v1h-1zM711 411h1v1h-1zM694 383h1v1h-1zM679 424h1v1h-1zM707 411h1v1h-1zM764 383h1v1h-1zM749 372h1v1h-1zM685 433h1v1h-1zM701 396h2v1h-2zM768 380h1v2h-1zM757 369h1v2h-1zM773 438h2v1h-2zM685 420h2v1h-2zM700 397h1v1h-1zM669 440h1v1h-1zM772 409h2v1h-2zM682 426h1v2h-1zM782 412h1v1h-1zM753 380h1v1h-1zM725 393h1v1h-1zM700 402h1v1h-1zM764 383h1v1h-1zM689 396h1v1h-1zM738 440h2v1h-2z"/>
<path fill="#1a1935" d="M757 441h2v2h-2zM723 459h1v2h-1zM704 450h1v2h-1zM763 435h1v1h-1zM702 479h1v2h-1zM718 432h2v2h-2zM717 444h2v2h-2zM775 448h2v1h-2zM715 476h1v1h-1zM705 443h1v1h-1zM781 456h1v2h-1zM722 458h2v1h-2zM729 448h1v1h-1zM708 444h2v2h-2zM764 440h1v2h-1zM707 478h2v2h-2zM759 469h2v2h-2zM765 463h2v2h-2zM751 430h1v1h-1zM721 454h1v1h-1zM716 450h1v1h-1zM766 444h1v1h-1zM756 445h2v2h-2zM760 436h1v1h-1zM759 475h1v1h-1zM759 440h2v2h-2zM786 454h1v1h-1zM707 474h1v2h-1zM719 430h2v1h-2zM711 460h2v2h-2zM705 455h1v2h-1zM718 470h2v2h-2zM780 443h1v1h-1zM758 471h1v2h-1zM722 436h1v1h-1zM779 444h2v2h-2zM700 448h1v2h-1zM779 449h1v1h-1zM748 430h1v1h-1zM725 448h2v2h-2zM712 431h2v1h-2zM716 430h2v1h-2zM713 472h1v1h-1zM705 446h1v1h-1zM784 443h1v2h-1zM701 448h1v2h-1zM781 450h1v1h-1zM777 448h2v2h-2zM763 442h2v2h-2zM700 474h2v1h-2zM719 432h2v1h-2zM753 441h2v1h-2zM692 446h2v1h-2zM693 449h1v2h-1zM723 455h1v2h-1zM742 444h1v1h-1zM698 446h2v1h-2zM722 460h1v1h-1zM697 448h2v2h-2zM777 447h1v1h-1zM721 426h1v1h-1zM727 456h2v2h-2zM725 444h2v1h-2zM700 447h1v1h-1zM752 474h1v1h-1zM692 488h2v1h-2zM726 453h2v2h-2zM716 457h1v2h-1zM712 477h1v1h-1zM720 431h1v2h-1zM705 447h1v2h-1zM716 445h1v1h-1zM764 470h1v1h-1zM699 454h1v2h-1zM737 423h1v1h-1zM698 457h2v2h-2zM747 429h1v1h-1zM759 464h1v2h-1zM758 442h1v2h-1zM695 482h2v1h-2zM706 440h1v1h-1zM748 431h1v1h-1zM780 443h2v2h-2zM755 444h2v1h-2zM746 449h1v2h-1zM745 438h1v1h-1zM717 433h1v2h-1zM697 483h1v1h-1zM763 467h1v1h-1zM718 449h1v1h-1zM727 455h1v2h-1zM698 446h1v1h-1zM720 454h1v2h-1zM704 438h2v1h-2zM749 427h2v1h-2zM743 427h2v1h-2zM710 448h2v1h-2zM705 448h2v2h-2zM760 466h1v1h-1zM706 449h1v1h-1z"/>
</g></g>
<g fill="none" stroke="#858585" stroke-width="1.25" stroke-linejoin="round" stroke-linecap="round">
<path d="M234.6 271.5 L245.8 274.8 L257.1 278.0 L268.5 281.1 L279.8 284.0 L291.2 286.7 L302.6 289.4 L314.0 291.8 L325.4 294.2 L336.8 296.4 L348.2 298.4 L359.7 300.3 L371.2 302.1 L382.6 303.7 L394.1 305.2 L405.6 306.5 L417.1 307.7 L428.6 308.8 L440.2 309.7 L451.7 310.5 L463.2 311.2 L474.7 311.7 L486.3 312.0 L497.8 312.3 L509.3 312.4 L520.9 312.3 L532.4 312.1 L543.9 311.8 L555.5 311.3 L567.0 310.7"/>
<path d="M567.0 310.7 L566.6 303.8 L570.2 304.7 L573.2 314.9 L583.6 317.8 L593.7 315.7 L602.0 320.8 L613.3 323.8 L621.0 322.4 L631.5 323.0 L638.2 322.5 L648.8 315.2 L670.0 324.9 L695.4 333.4 L701.2 340.7 L706.6 338.7 L714.2 344.7 L717.1 349.6 L730.7 355.2 L741.8 385.6 L740.8 397.0 L741.0 404.4 L737.3 409.8 L734.5 413.2 L734.6 416.9 L743.0 420.8 L758.4 408.2 L774.1 398.0 L786.5 389.3 L783.4 382.5 L780.6 379.4 L786.2 374.5 L810.7 367.9 L814.2 356.0 L823.4 340.7 L830.1 335.7 L869.9 322.4"/>
<path d="M247.1 585.8 L284.3 588.7 L282.2 592.6 L336.9 621.7 L381.4 626.2 L382.1 618.0 L408.0 620.1 L411.1 627.2 L430.6 642.1 L434.7 654.2 L439.0 662.6 L458.5 674.0 L466.1 660.9 L472.5 658.0 L486.7 660.1 L496.1 669.7 L504.0 687.1 L516.9 701.7 L521.1 716.4 L531.9 725.5 L555.9 729.6"/>
<path d="M214.5 277.3 L212.7 286.0 L213.8 305.8 L210.9 317.5 L205.4 339.9 L198.2 357.1 L190.7 368.3 L186.3 375.7 L185.1 396.6 L182.6 410.3 L175.7 418.9 L178.0 441.7 L177.4 449.3 L182.8 468.0 L189.0 473.4 L187.6 484.5 L192.0 497.1 L196.8 515.4 L201.5 538.3 L220.4 548.2 L231.9 560.0 L245.7 582.4 L247.1 585.8 L252.6 600.5 L257.6 627.6 L260.2 641.1 L273.8 658.2 L281.0 676.1 L264.9 678.4 L273.7 691.9 L285.8 701.1 L304.1 714.7 L306.2 739.2 L315.4 747.8 L333.9 766.6 L338.7 778.7"/>
<path d="M280.4 605.2 L279.7 619.9 L284.7 639.3 L294.0 653.7 L302.9 671.7 L308.5 692.8 L320.8 714.8 L323.9 731.9 L330.3 751.3 L347.1 771.6 L338.7 778.7"/>
<path d="M280.4 605.2 L299.1 617.3 L304.9 627.4 L311.1 646.7 L322.7 670.4 L332.5 684.5 L337.8 696.2 L354.5 710.9 L356.2 727.7 L375.0 744.2 L391.9 767.7 L401.4 779.5 L412.7 791.3"/>
<path d="M550.9 765.7 L555.9 729.6 L551.2 704.9 L557.3 691.9 L573.0 680.4 L587.0 670.6 L592.4 665.8 L604.0 659.7 L614.9 656.8 L631.1 659.6 L639.1 659.9 L647.4 662.9 L658.8 665.5 L668.3 663.7 L678.2 665.4 L682.9 664.0 L673.6 653.0 L671.2 644.9 L681.8 640.1 L697.6 639.1 L696.9 632.8 L705.5 638.1 L721.0 634.2 L734.3 637.9 L741.7 644.2 L756.6 635.4 L766.5 636.5 L780.1 649.2 L787.1 661.2 L788.6 674.1 L800.4 689.0 L809.0 698.9 L822.0 713.7 L827.5 715.5 L835.7 713.0 L838.5 700.9 L835.7 682.4 L821.5 653.8 L811.6 641.5 L804.0 627.9 L799.2 615.6 L800.2 600.3 L803.4 588.3 L815.5 573.5 L824.3 563.0 L831.4 549.1 L840.1 546.0 L850.9 529.0 L858.1 526.2 L869.4 512.6"/>
<path d="M558.2 100.0 L558.2 123.8 L559.5 128.8 L564.5 132.5 L565.0 138.8 L565.8 132.5 L574.5 132.0 L584.5 160.0 L582.0 164.5 L600.8 156.2 L609.5 160.8 L622.0 163.8 L637.0 174.2 L664.5 183.8 L693.2 180.5 L695.8 192.5 L702.0 205.0 L703.2 216.2 L719.5 232.5 L727.0 235.0 L730.8 243.8 L738.2 243.8 L742.0 235.0 L747.0 237.5 L749.0 241.2"/>
<path d="M713.2 100.0 L713.2 103.0 L717.0 108.8 L732.0 115.0 L742.0 127.5 L745.8 142.5 L743.2 157.5 L735.8 170.0 L723.2 181.2 L727.0 187.5 L735.8 197.5 L739.5 207.5 L747.0 216.2 L749.0 222.5 L748.2 230.0 L749.0 241.2"/>
<path d="M189.1 102.6 L194.9 102.6 L195.6 105.7 L199.1 110.7 L204.1 117.9 L207.7 121.4 L207.0 125.7 L204.1 127.1 L202.7 132.9 L200.6 137.9 L202.0 141.4 L199.1 140.7 L197.0 142.9 L194.1 141.4 L191.3 144.3 L190.6 149.3 L193.4 152.1 L197.0 155.0 L194.1 157.1 L191.3 159.3 L192.0 164.3 L194.9 170.0 L197.0 171.4 L197.7 167.9 L200.6 165.7 L205.6 165.0 L204.1 167.9 L201.3 170.0 L199.9 174.3 L204.1 175.0 L208.4 175.7 L207.0 177.9 L202.7 177.1 L199.9 180.0 L201.3 184.3 L205.6 187.1 L203.4 190.0 L201.3 192.9 L197.7 194.3 L200.6 197.1 L204.9 195.0 L208.4 194.3 L213.4 193.6 L211.3 197.1 L207.0 200.0 L202.7 202.1 L199.9 205.7 L199.1 210.7 L202.7 208.6 L204.9 212.9 L201.3 214.3 L197.7 215.7 L197.0 219.3"/>
<path d="M189.1 102.6 L189.6 108.6 L190.6 112.1 L193.4 112.9 L189.9 113.6 L189.9 117.9 L193.4 117.1 L197.0 117.9 L195.6 121.4 L196.3 125.7 L194.1 129.3 L191.3 132.9 L190.6 137.1 L192.0 141.4 L193.4 138.6 L195.6 135.7 L197.0 142.9"/>
<path d="M197.0 219.3 L196.3 215.7 L199.9 220.0 L202.7 224.3 L208.4 223.6 L206.3 227.1 L209.9 230.0 L209.1 233.6 L214.1 235.7 L217.7 232.9 L219.9 228.6 L218.4 233.6 L221.3 237.9 L224.1 236.4 L227.0 232.1 L225.6 237.1 L223.4 240.7 L228.4 242.1 L224.9 244.3 L222.7 248.6 L225.6 252.9 L229.9 251.4 L232.7 248.6 L234.1 252.1 L230.6 255.0 L231.3 259.3 L235.6 260.0 L238.4 260.0 L236.3 264.3 L237.0 268.6 L235.6 272.1 L239.9 273.6 L240.6 277.1 L241.3 281.4 L239.1 285.7 L241.3 292.1 L239.9 297.1 L239.1 301.4 L234.1 305.7 L229.1 307.9 L227.0 305.0 L229.1 300.0 L233.4 295.7 L236.3 291.4 L234.1 287.9 L229.9 285.7 L233.4 282.9 L232.7 277.1 L235.6 274.3"/>
<path d="M229.9 285.0 L222.7 281.4 L214.1 275.7 L212.7 281.4 L213.4 290.0 L212.7 298.6 L214.1 304.3 L216.3 305.7 L213.4 308.6 L211.3 314.3 L213.4 319.3 L217.7 320.0 L212.7 321.4 L209.9 325.7 L208.4 330.0"/>
<path d="M787.5 325.8 L793.3 328.3 L798.3 329.2 L801.7 332.5 L808.3 334.2 L811.7 331.7 L814.2 333.3 L820.0 328.3 L825.8 325.0 L832.5 325.0 L835.8 325.3"/>
<path d="M835.8 331.7 L832.5 332.5 L830.8 335.8 L826.7 335.8"/>
</g>
<g fill="none" stroke="#828282" stroke-width="2.2" stroke-dasharray="2.2 2.7">
<path d="M322.3 98.0 L319.1 109.1 L316.0 120.2 L312.9 131.3 L309.8 142.3 L306.7 153.4 L303.7 164.5 L300.6 175.6 L297.6 186.7 L294.6 197.8 L291.6 208.8 L288.7 219.9 L285.7 231.0 L282.8 242.1 L279.9 253.2 L277.0 264.3 L274.1 275.4 L271.2 286.4 L268.4 297.5 L265.6 308.6 L262.8 319.7 L260.0 330.8 L257.2 341.9 L254.4 352.9 L251.7 364.0 L249.0 375.1 L246.3 386.2 L243.6 397.3 L240.9 408.4 L238.3 419.5 L235.7 430.5 L233.0 441.6 L230.4 452.7 L227.9 463.8 L225.3 474.9 L222.8 486.0 L220.2 497.1 L217.7 508.1 L215.3 519.2 L212.8 530.3 L210.3 541.4 L207.9 552.5 L205.5 563.6 L203.1 574.6 L200.7 585.7 L198.3 596.8 L196.0 607.9 L193.7 619.0 L191.4 630.1 L189.1 641.2 L186.8 652.2 L184.5 663.3 L182.3 674.4 L180.1 685.5 L177.9 696.6 L175.7 707.7 L173.5 718.7 L171.4 729.8 L169.2 740.9 L167.1 752.0"/>
<path d="M464.9 98.0 L464.1 109.1 L463.3 120.2 L462.4 131.3 L461.6 142.3 L460.8 153.4 L460.0 164.5 L459.2 175.6 L458.4 186.7 L457.7 197.8 L456.9 208.8 L456.1 219.9 L455.3 231.0 L454.6 242.1 L453.8 253.2 L453.1 264.3 L452.3 275.4 L451.6 286.4 L450.8 297.5 L450.1 308.6 L449.4 319.7 L448.6 330.8 L447.9 341.9 L447.2 352.9 L446.5 364.0 L445.8 375.1 L445.1 386.2 L444.4 397.3 L443.7 408.4 L443.0 419.5 L442.3 430.5 L441.7 441.6 L441.0 452.7 L440.3 463.8 L439.7 474.9 L439.0 486.0 L438.4 497.1 L437.7 508.1 L437.1 519.2 L436.5 530.3 L435.8 541.4 L435.2 552.5 L434.6 563.6 L434.0 574.6 L433.4 585.7 L432.8 596.8 L432.2 607.9 L431.6 619.0 L431.0 630.1 L430.4 641.2 L429.9 652.2 L429.3 663.3 L428.7 674.4 L428.2 685.5 L427.6 696.6 L427.1 707.7 L426.5 718.7 L426.0 729.8 L425.4 740.9 L424.9 752.0"/>
<path d="M601.1 98.0 L602.6 109.1 L604.2 120.2 L605.7 131.3 L607.3 142.3 L608.8 153.4 L610.3 164.5 L611.8 175.6 L613.3 186.7 L614.8 197.8 L616.3 208.8 L617.8 219.9 L619.2 231.0 L620.7 242.1 L622.1 253.2 L623.6 264.3 L625.0 275.4 L626.4 286.4 L627.8 297.5 L629.2 308.6 L630.6 319.7 L631.9 330.8 L633.3 341.9 L634.7 352.9 L636.0 364.0 L637.3 375.1 L638.7 386.2 L640.0 397.3 L641.3 408.4 L642.6 419.5 L643.9 430.5 L645.1 441.6 L646.4 452.7 L647.7 463.8 L648.9 474.9 L650.1 486.0 L651.4 497.1 L652.6 508.1 L653.8 519.2 L655.0 530.3 L656.2 541.4 L657.4 552.5 L658.5 563.6 L659.7 574.6 L660.8 585.7 L662.0 596.8 L663.1 607.9 L664.2 619.0 L665.3 630.1 L666.4 641.2 L667.5 652.2 L668.6 663.3 L669.7 674.4 L670.7 685.5 L671.8 696.6 L672.8 707.7 L673.9 718.7 L674.9 729.8 L675.9 740.9 L676.9 752.0"/>
<path d="M746.7 98.0 L750.8 109.1 L754.9 120.2 L759.0 131.3 L763.0 142.3 L766.9 153.4 L770.8 164.5 L774.7 175.6 L778.6 186.7 L782.4 197.8 L786.1 208.8 L789.8 219.9 L793.5 231.0 L797.1 242.1 L800.7 253.2 L804.3 264.3 L807.8 275.4 L811.3 286.4 L814.7 297.5 L818.1 308.6 L821.4 319.7 L824.7 330.8 L828.0 341.9 L831.2 352.9 L834.4 364.0 L837.6 375.1 L840.7 386.2 L843.8 397.3 L846.8 408.4 L849.8 419.5 L852.7 430.5 L855.6 441.6 L858.5 452.7 L861.3 463.8 L864.1 474.9 L866.8 486.0 L869.5 497.1 L872.2 508.1 L874.8 519.2 L877.4 530.3 L879.9 541.4 L882.4 552.5 L884.9 563.6 L887.3 574.6 L889.7 585.7 L892.0 596.8 L894.3 607.9 L896.6 619.0 L898.8 630.1 L901.0 641.2 L903.1 652.2 L905.2 663.3 L907.3 674.4 L909.3 685.5 L911.3 696.6 L913.2 707.7 L915.1 718.7 L916.9 729.8 L918.7 740.9 L920.5 752.0"/>
<path d="M184.0 41.2 L193.5 45.3 L203.0 49.3 L212.4 53.1 L221.9 56.8 L231.4 60.4 L240.9 63.9 L250.3 67.2 L259.8 70.4 L269.3 73.6 L278.8 76.5 L288.3 79.4 L297.7 82.2 L307.2 84.8 L316.7 87.3 L326.2 89.7 L335.7 91.9 L345.1 94.1 L354.6 96.1 L364.1 98.0 L373.6 99.8 L383.0 101.4 L392.5 103.0 L402.0 104.4 L411.5 105.7 L421.0 106.8 L430.4 107.9 L439.9 108.8 L449.4 109.6 L458.9 110.3 L468.3 110.9 L477.8 111.3 L487.3 111.6 L496.8 111.8 L506.3 111.9 L515.7 111.9 L525.2 111.7 L534.7 111.4 L544.2 111.0 L553.7 110.5 L563.1 109.9 L572.6 109.1 L582.1 108.2 L591.6 107.2 L601.0 106.1 L610.5 104.8 L620.0 103.5 L629.5 102.0 L639.0 100.3 L648.4 98.6 L657.9 96.8 L667.4 94.8 L676.9 92.7 L686.3 90.5 L695.8 88.1 L705.3 85.7 L714.8 83.1 L724.3 80.4 L733.7 77.5 L743.2 74.6 L752.7 71.5 L762.2 68.3 L771.7 65.0 L781.1 61.6 L790.6 58.1 L800.1 54.4 L809.6 50.6 L819.0 46.7 L828.5 42.6 L838.0 38.5"/>
<path d="M184.0 235.0 L193.5 238.5 L203.0 241.8 L212.4 245.1 L221.9 248.2 L231.4 251.2 L240.9 254.1 L250.3 257.0 L259.8 259.7 L269.3 262.3 L278.8 264.8 L288.3 267.1 L297.7 269.4 L307.2 271.6 L316.7 273.7 L326.2 275.6 L335.7 277.5 L345.1 279.3 L354.6 280.9 L364.1 282.5 L373.6 284.0 L383.0 285.3 L392.5 286.6 L402.0 287.7 L411.5 288.8 L421.0 289.8 L430.4 290.6 L439.9 291.4 L449.4 292.1 L458.9 292.6 L468.3 293.1 L477.8 293.5 L487.3 293.8 L496.8 293.9 L506.3 294.0 L515.7 294.0 L525.2 293.9 L534.7 293.7 L544.2 293.4 L553.7 293.0 L563.1 292.5 L572.6 291.9 L582.1 291.2 L591.6 290.4 L601.0 289.5 L610.5 288.6 L620.0 287.5 L629.5 286.3 L639.0 285.0 L648.4 283.7 L657.9 282.2 L667.4 280.7 L676.9 279.0 L686.3 277.3 L695.8 275.4 L705.3 273.5 L714.8 271.4 L724.3 269.3 L733.7 267.1 L743.2 264.7 L752.7 262.3 L762.2 259.7 L771.7 257.1 L781.1 254.4 L790.6 251.5 L800.1 248.6 L809.6 245.6 L819.0 242.4 L828.5 239.2 L838.0 235.9"/>
<path d="M184.0 429.8 L193.5 432.6 L203.0 435.3 L212.4 437.8 L221.9 440.3 L231.4 442.7 L240.9 445.0 L250.3 447.2 L259.8 449.3 L269.3 451.3 L278.8 453.2 L288.3 455.0 L297.7 456.7 L307.2 458.4 L316.7 459.9 L326.2 461.4 L335.7 462.8 L345.1 464.1 L354.6 465.4 L364.1 466.5 L373.6 467.6 L383.0 468.6 L392.5 469.5 L402.0 470.3 L411.5 471.1 L421.0 471.8 L430.4 472.4 L439.9 473.0 L449.4 473.5 L458.9 473.9 L468.3 474.2 L477.8 474.5 L487.3 474.7 L496.8 474.8 L506.3 474.9 L515.7 474.9 L525.2 474.8 L534.7 474.6 L544.2 474.4 L553.7 474.1 L563.1 473.8 L572.6 473.3 L582.1 472.8 L591.6 472.3 L601.0 471.6 L610.5 470.9 L620.0 470.1 L629.5 469.3 L639.0 468.3 L648.4 467.3 L657.9 466.2 L667.4 465.1 L676.9 463.9 L686.3 462.5 L695.8 461.2 L705.3 459.7 L714.8 458.2 L724.3 456.5 L733.7 454.8 L743.2 453.0 L752.7 451.1 L762.2 449.2 L771.7 447.1 L781.1 445.0 L790.6 442.8 L800.1 440.4 L809.6 438.0 L819.0 435.5 L828.5 432.9 L838.0 430.2"/>
<path d="M184.0 621.6 L193.5 623.4 L203.0 625.1 L212.4 626.8 L221.9 628.5 L231.4 630.2 L240.9 631.8 L250.3 633.4 L259.8 635.0 L269.3 636.5 L278.8 638.0 L288.3 639.4 L297.7 640.8 L307.2 642.1 L316.7 643.4 L326.2 644.7 L335.7 645.8 L345.1 647.0 L354.6 648.0 L364.1 649.0 L373.6 650.0 L383.0 650.9 L392.5 651.7 L402.0 652.4 L411.5 653.1 L421.0 653.8 L430.4 654.3 L439.9 654.8 L449.4 655.3 L458.9 655.6 L468.3 655.9 L477.8 656.1 L487.3 656.3 L496.8 656.4 L506.3 656.4 L515.7 656.3 L525.2 656.2 L534.7 656.0 L544.2 655.8 L553.7 655.5 L563.1 655.1 L572.6 654.6 L582.1 654.1 L591.6 653.5 L601.0 652.9 L610.5 652.2 L620.0 651.4 L629.5 650.6 L639.0 649.7 L648.4 648.7 L657.9 647.7 L667.4 646.7 L676.9 645.5 L686.3 644.4 L695.8 643.2 L705.3 641.9 L714.8 640.6 L724.3 639.2 L733.7 637.8 L743.2 636.4 L752.7 634.9 L762.2 633.4 L771.7 631.9 L781.1 630.3 L790.6 628.7 L800.1 627.1 L809.6 625.5 L819.0 623.8 L828.5 622.1 L838.0 620.5"/>
</g>
</g>
<rect x="877.90" y="683.19" width="31.90" height="65.01" fill="#000000"/>
<rect x="877.90" y="618.48" width="31.90" height="65.01" fill="#1a1935"/>
<rect x="877.90" y="553.77" width="31.90" height="65.01" fill="#15474e"/>
<rect x="877.90" y="489.06" width="31.90" height="65.01" fill="#2b6f39"/>
<rect x="877.90" y="424.35" width="31.90" height="65.01" fill="#767b33"/>
<rect x="877.90" y="359.64" width="31.90" height="65.01" fill="#c17a6f"/>
<rect x="877.90" y="294.93" width="31.90" height="65.01" fill="#d490c6"/>
<rect x="877.90" y="230.22" width="31.90" height="65.01" fill="#c3c0f2"/>
<rect x="877.90" y="165.51" width="31.90" height="65.01" fill="#ceebef"/>
<rect x="877.90" y="100.80" width="31.90" height="65.01" fill="#ffffff"/>
<rect x="877.90" y="100.80" width="31.90" height="647.10" fill="none" stroke="#000" stroke-width="1.85"/>
<g stroke="#000" stroke-width="1.9">
<line x1="909.80" y1="747.80" x2="919" y2="747.80"/>
<line x1="909.80" y1="683.09" x2="919" y2="683.09"/>
<line x1="909.80" y1="618.38" x2="919" y2="618.38"/>
<line x1="909.80" y1="553.67" x2="919" y2="553.67"/>
<line x1="909.80" y1="488.96" x2="919" y2="488.96"/>
<line x1="909.80" y1="424.25" x2="919" y2="424.25"/>
<line x1="909.80" y1="359.54" x2="919" y2="359.54"/>
<line x1="909.80" y1="294.83" x2="919" y2="294.83"/>
<line x1="909.80" y1="230.12" x2="919" y2="230.12"/>
<line x1="909.80" y1="165.41" x2="919" y2="165.41"/>
<line x1="909.80" y1="100.70" x2="919" y2="100.70"/>
</g>
<g font-family="'Liberation Sans', sans-serif" fill="#000" stroke="none">
<text x="82.8" y="86" font-size="17.5" textLength="855.5" lengthAdjust="spacingAndGlyphs">CSPP CLAVR-x Cloud Emissivity from AWG Cloud Height Algorithm 2025-11-08 19:28:14-19:29:37</text>
<text x="180" y="240" font-size="14" text-anchor="end">50°N</text>
<text x="180" y="435" font-size="14" text-anchor="end">40°N</text>
<text x="180" y="625" font-size="14" text-anchor="end">30°N</text>
<text x="180" y="649" font-size="14" text-anchor="end">120°W</text>
<text x="425" y="765" font-size="14" text-anchor="middle">105°W</text>
<text x="677.5" y="765" font-size="14" text-anchor="middle">90°W</text>
<text x="927.5" y="753.1" font-size="14">0.00</text>
<text x="927.5" y="688.4" font-size="14">0.10</text>
<text x="927.5" y="623.7" font-size="14">0.20</text>
<text x="927.5" y="559" font-size="14">0.30</text>
<text x="927.5" y="494.3" font-size="14">0.40</text>
<text x="927.5" y="429.6" font-size="14">0.50</text>
<text x="927.5" y="364.9" font-size="14">0.60</text>
<text x="927.5" y="300.2" font-size="14">0.70</text>
<text x="927.5" y="235.5" font-size="14">0.80</text>
<text x="927.5" y="170.8" font-size="14">0.90</text>
<text x="927.5" y="106" font-size="14">1.00</text>
</g>
</svg>
</body></html>
